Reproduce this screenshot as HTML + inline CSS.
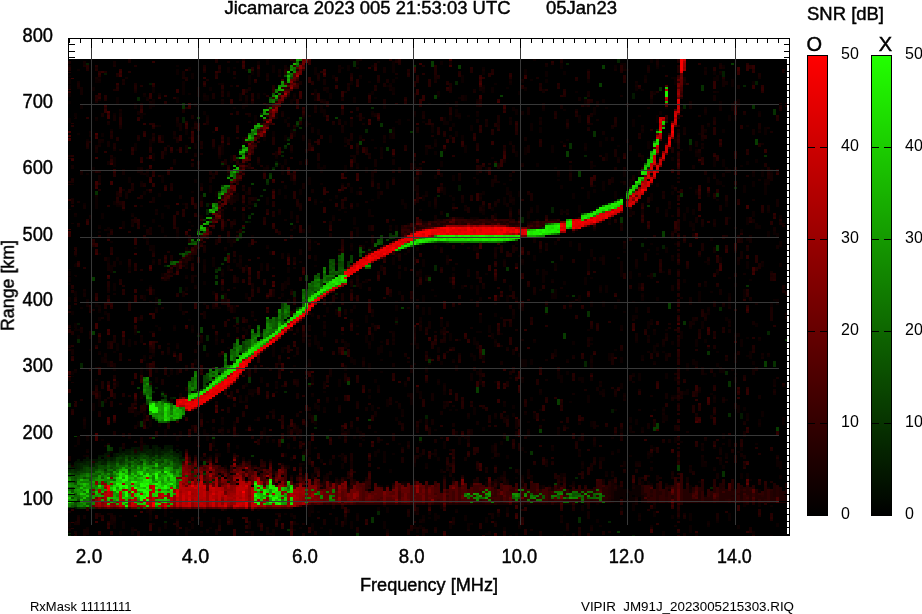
<!DOCTYPE html>
<html><head><meta charset="utf-8"><title>Ionogram</title>
<style>html,body{margin:0;padding:0;background:#fff;}svg{display:block;}</style>
</head><body>
<svg width="922" height="614" viewBox="0 0 922 614" shape-rendering="crispEdges">
<rect width="922" height="614" fill="#fff"/>
<rect x="68" y="38" width="722" height="498" fill="#000"/>
<rect x="69" y="39" width="720" height="20" fill="#fff"/>
<rect x="787" y="59" width="2" height="476" fill="#fff"/>
<g clip-path="url(#dclip)">
<rect x="68" y="59" width="719" height="477" fill="#000"/>
<path d="M68 463h3v2h-3zM74 461h3v2h-3zM77 459h3v4h-3zM80 461h3v2h-3zM83 459h3v2h-3zM86 457h3v4h-3zM89 459h3v2h-3zM92 459h3v2h-3zM95 459h3v2h-3zM98 455h3v2h-3zM101 455h3v2h-3zM104 453h3v2h-3zM104 459h3v2h-3zM107 451h3v4h-3zM113 453h3v4h-3zM119 447h3v6h-3zM122 451h3v2h-3zM125 449h3v2h-3zM128 449h3v2h-3zM131 447h3v2h-3zM134 447h3v2h-3zM137 447h3v4h-3zM143 395h3v2h-3zM143 445h3v4h-3zM146 445h3v4h-3zM152 445h3v6h-3zM155 445h3v2h-3zM158 447h3v4h-3zM161 391h3v2h-3zM161 449h3v2h-3zM164 445h3v2h-3zM167 445h3v4h-3zM170 445h3v4h-3zM176 449h3v2h-3zM179 451h3v4h-3zM179 457h3v2h-3zM182 457h3v2h-3zM197 473h3v2h-3zM218 477h3v2h-3zM227 481h3v2h-3zM248 221h3v2h-3zM275 161h3v2h-3zM287 137h3v2h-3zM413 245h3v2h-3zM599 205h3v2h-3zM605 203h3v2h-3zM611 201h3v2h-3zM620 197h3v2h-3zM647 157h3v2h-3zM653 139h3v2h-3z" fill="#021200"/>
<path d="M74 463h3v6h-3zM74 507h3v2h-3zM77 323h3v2h-3zM83 461h3v2h-3zM92 463h3v2h-3zM95 461h3v2h-3zM98 459h3v2h-3zM104 73h3v2h-3zM104 455h3v4h-3zM110 457h3v4h-3zM116 455h3v2h-3zM119 453h3v2h-3zM125 451h3v4h-3zM128 451h3v4h-3zM131 449h3v2h-3zM134 453h3v2h-3zM140 451h3v2h-3zM143 449h3v4h-3zM146 449h3v2h-3zM149 83h3v2h-3zM149 381h3v2h-3zM152 451h3v4h-3zM155 447h3v2h-3zM158 451h3v4h-3zM164 447h3v4h-3zM167 449h3v2h-3zM170 397h3v2h-3zM173 451h3v2h-3zM194 467h3v2h-3zM197 241h3v2h-3zM197 479h3v2h-3zM203 471h3v2h-3zM203 481h3v2h-3zM227 175h3v2h-3zM239 237h3v2h-3zM458 185h3v6h-3zM506 241h3v2h-3zM539 227h3v2h-3zM596 207h3v2h-3zM611 409h3v4h-3zM632 93h3v6h-3zM740 413h3v6h-3z" fill="#031800"/>
<path d="M71 467h3v2h-3zM77 463h3v6h-3zM83 463h3v2h-3zM86 63h3v2h-3zM89 461h3v6h-3zM92 465h3v2h-3zM98 457h3v2h-3zM101 459h3v2h-3zM101 463h3v2h-3zM104 461h3v2h-3zM107 457h3v2h-3zM113 457h3v2h-3zM116 453h3v2h-3zM134 457h3v2h-3zM137 451h3v4h-3zM146 453h3v2h-3zM149 449h3v4h-3zM155 387h3v2h-3zM155 449h3v4h-3zM161 453h3v2h-3zM164 265h3v2h-3zM164 451h3v2h-3zM164 521h3v2h-3zM173 453h3v2h-3zM176 453h3v2h-3zM179 287h3v6h-3zM179 455h3v2h-3zM182 117h3v6h-3zM188 463h3v2h-3zM197 335h3v2h-3zM206 203h3v4h-3zM212 479h3v2h-3zM272 167h3v2h-3zM296 125h3v2h-3zM335 293h3v2h-3zM395 321h3v2h-3zM422 243h3v2h-3zM425 415h3v4h-3zM551 207h3v6h-3zM551 289h3v4h-3zM632 535h3v2h-3zM653 273h3v4h-3zM662 245h3v4h-3zM722 71h3v6h-3zM755 81h3v4h-3z" fill="#031e00"/>
<path d="M68 465h3v6h-3zM68 533h3v4h-3zM74 469h3v2h-3zM77 339h3v4h-3zM77 469h3v2h-3zM80 363h3v6h-3zM80 463h3v6h-3zM86 461h3v4h-3zM101 401h3v6h-3zM101 461h3v2h-3zM104 463h3v2h-3zM107 459h3v2h-3zM113 271h3v2h-3zM113 459h3v2h-3zM122 453h3v4h-3zM128 457h3v2h-3zM131 451h3v4h-3zM137 97h3v4h-3zM146 451h3v2h-3zM149 453h3v4h-3zM152 391h3v2h-3zM152 455h3v2h-3zM155 453h3v2h-3zM158 455h3v2h-3zM161 395h3v2h-3zM161 451h3v2h-3zM164 397h3v2h-3zM167 451h3v2h-3zM170 449h3v2h-3zM170 453h3v2h-3zM173 397h3v2h-3zM173 455h3v2h-3zM176 455h3v2h-3zM179 459h3v2h-3zM182 415h3v2h-3zM194 391h3v2h-3zM197 229h3v2h-3zM206 209h3v6h-3zM206 335h3v6h-3zM215 269h3v2h-3zM218 267h3v2h-3zM236 317h3v6h-3zM245 221h3v2h-3zM248 215h3v2h-3zM254 203h3v2h-3zM260 113h3v2h-3zM260 195h3v2h-3zM260 333h3v4h-3zM266 183h3v2h-3zM275 165h3v2h-3zM281 151h3v2h-3zM281 155h3v2h-3zM284 147h3v2h-3zM284 391h3v2h-3zM293 129h3v2h-3zM293 291h3v6h-3zM296 307h3v2h-3zM299 119h3v2h-3zM314 427h3v2h-3zM344 351h3v4h-3zM353 285h3v2h-3zM365 129h3v4h-3zM377 511h3v4h-3zM392 237h3v2h-3zM434 265h3v6h-3zM437 195h3v2h-3zM455 81h3v4h-3zM509 467h3v2h-3zM521 217h3v6h-3zM566 63h3v2h-3zM575 477h3v2h-3zM584 97h3v2h-3zM584 155h3v2h-3zM584 361h3v6h-3zM608 521h3v2h-3zM617 59h3v4h-3zM641 243h3v4h-3zM656 129h3v2h-3zM683 105h3v4h-3zM710 487h3v2h-3zM719 307h3v4h-3zM725 371h3v4h-3zM743 85h3v2h-3zM767 331h3v4h-3z" fill="#042400"/>
<path d="M74 471h3v2h-3zM119 455h3v2h-3zM158 457h3v2h-3zM203 345h3v6h-3zM353 61h3v6h-3zM371 107h3v2h-3zM389 233h3v2h-3zM578 517h3v6h-3zM728 413h3v4h-3z" fill="#052a00"/>
<path d="M68 471h3v2h-3zM68 507h3v2h-3zM71 469h3v4h-3zM77 507h3v2h-3zM80 469h3v2h-3zM83 465h3v2h-3zM86 465h3v2h-3zM89 507h3v2h-3zM92 507h3v2h-3zM95 191h3v4h-3zM95 463h3v6h-3zM98 461h3v4h-3zM104 469h3v2h-3zM110 447h3v4h-3zM110 461h3v2h-3zM113 461h3v2h-3zM119 459h3v4h-3zM122 457h3v4h-3zM128 455h3v2h-3zM128 459h3v2h-3zM131 455h3v2h-3zM134 455h3v2h-3zM137 331h3v2h-3zM137 455h3v2h-3zM140 421h3v6h-3zM140 453h3v2h-3zM140 461h3v2h-3zM143 453h3v2h-3zM149 457h3v2h-3zM152 459h3v2h-3zM158 299h3v6h-3zM161 455h3v2h-3zM164 453h3v2h-3zM167 401h3v2h-3zM167 453h3v4h-3zM170 451h3v2h-3zM173 459h3v2h-3zM176 457h3v2h-3zM179 461h3v2h-3zM182 103h3v6h-3zM182 459h3v2h-3zM191 471h3v2h-3zM203 219h3v2h-3zM209 481h3v2h-3zM215 271h3v2h-3zM215 275h3v4h-3zM218 269h3v2h-3zM221 163h3v2h-3zM221 263h3v2h-3zM224 257h3v2h-3zM227 253h3v2h-3zM236 237h3v2h-3zM239 149h3v2h-3zM239 233h3v4h-3zM242 227h3v2h-3zM242 231h3v2h-3zM248 217h3v2h-3zM248 377h3v6h-3zM251 213h3v2h-3zM251 455h3v2h-3zM254 205h3v2h-3zM257 199h3v2h-3zM263 189h3v2h-3zM266 179h3v4h-3zM269 173h3v2h-3zM284 145h3v2h-3zM287 139h3v2h-3zM287 529h3v2h-3zM296 121h3v2h-3zM299 127h3v2h-3zM305 289h3v2h-3zM314 415h3v6h-3zM326 435h3v4h-3zM347 261h3v4h-3zM356 533h3v4h-3zM368 249h3v2h-3zM371 517h3v6h-3zM380 123h3v4h-3zM386 147h3v4h-3zM389 129h3v4h-3zM389 235h3v4h-3zM392 235h3v2h-3zM410 131h3v2h-3zM413 65h3v2h-3zM419 437h3v4h-3zM428 359h3v4h-3zM446 213h3v4h-3zM506 267h3v4h-3zM506 435h3v6h-3zM530 451h3v4h-3zM542 227h3v2h-3zM551 261h3v2h-3zM569 143h3v6h-3zM572 295h3v2h-3zM587 311h3v6h-3zM593 131h3v6h-3zM620 217h3v6h-3zM629 187h3v2h-3zM647 167h3v2h-3zM659 87h3v4h-3zM665 121h3v2h-3zM680 193h3v4h-3zM683 321h3v4h-3zM689 139h3v6h-3zM701 85h3v6h-3zM707 351h3v4h-3zM716 193h3v4h-3zM722 471h3v6h-3zM728 381h3v6h-3zM734 187h3v2h-3zM746 285h3v2h-3zM752 105h3v4h-3zM764 155h3v2h-3zM773 109h3v6h-3zM773 361h3v6h-3zM785 339h2v2h-2z" fill="#063000"/>
<path d="M68 403h3v4h-3zM71 507h3v2h-3zM74 435h3v2h-3zM74 473h3v2h-3zM74 481h3v2h-3zM77 471h3v4h-3zM80 471h3v2h-3zM80 507h3v2h-3zM83 467h3v6h-3zM83 507h3v2h-3zM89 467h3v2h-3zM89 471h3v2h-3zM92 277h3v4h-3zM92 331h3v4h-3zM92 467h3v6h-3zM104 465h3v2h-3zM107 445h3v6h-3zM107 461h3v2h-3zM110 463h3v2h-3zM110 467h3v2h-3zM113 463h3v2h-3zM116 457h3v4h-3zM119 457h3v2h-3zM119 463h3v2h-3zM122 461h3v2h-3zM125 455h3v2h-3zM128 463h3v2h-3zM131 459h3v2h-3zM137 387h3v2h-3zM137 457h3v4h-3zM140 455h3v2h-3zM143 457h3v2h-3zM146 403h3v2h-3zM146 455h3v2h-3zM149 385h3v2h-3zM149 461h3v2h-3zM152 437h3v2h-3zM155 457h3v2h-3zM161 399h3v2h-3zM161 461h3v2h-3zM164 395h3v2h-3zM164 399h3v2h-3zM164 455h3v4h-3zM167 421h3v2h-3zM167 457h3v2h-3zM170 455h3v4h-3zM173 457h3v2h-3zM173 461h3v2h-3zM176 419h3v2h-3zM176 459h3v4h-3zM179 253h3v2h-3zM179 463h3v2h-3zM185 251h3v4h-3zM188 147h3v2h-3zM191 241h3v2h-3zM194 475h3v2h-3zM197 117h3v2h-3zM200 327h3v6h-3zM200 389h3v2h-3zM203 193h3v4h-3zM203 375h3v10h-3zM203 387h3v2h-3zM203 461h3v4h-3zM203 473h3v2h-3zM206 379h3v4h-3zM212 437h3v2h-3zM215 281h3v4h-3zM218 191h3v2h-3zM218 371h3v2h-3zM221 185h3v2h-3zM221 295h3v4h-3zM221 367h3v2h-3zM224 259h3v2h-3zM233 361h3v2h-3zM236 239h3v2h-3zM242 343h3v6h-3zM245 151h3v2h-3zM245 339h3v2h-3zM248 69h3v4h-3zM251 183h3v2h-3zM269 97h3v2h-3zM269 175h3v4h-3zM272 169h3v2h-3zM275 99h3v2h-3zM275 163h3v2h-3zM281 303h3v4h-3zM281 439h3v4h-3zM287 143h3v2h-3zM290 77h3v2h-3zM290 223h3v2h-3zM296 123h3v2h-3zM299 117h3v2h-3zM302 455h3v6h-3zM305 275h3v6h-3zM305 297h3v2h-3zM305 301h3v2h-3zM308 383h3v2h-3zM314 291h3v2h-3zM332 277h3v2h-3zM335 117h3v2h-3zM338 261h3v2h-3zM338 307h3v4h-3zM347 265h3v2h-3zM347 381h3v4h-3zM350 255h3v8h-3zM359 141h3v4h-3zM359 253h3v2h-3zM368 419h3v2h-3zM380 235h3v6h-3zM380 243h3v2h-3zM386 239h3v2h-3zM395 235h3v2h-3zM401 307h3v2h-3zM428 277h3v4h-3zM431 61h3v6h-3zM434 95h3v4h-3zM440 151h3v6h-3zM458 65h3v4h-3zM476 387h3v6h-3zM482 349h3v6h-3zM494 163h3v4h-3zM500 95h3v2h-3zM503 241h3v2h-3zM539 429h3v4h-3zM545 307h3v6h-3zM554 483h3v2h-3zM557 399h3v6h-3zM563 333h3v6h-3zM566 151h3v6h-3zM578 171h3v6h-3zM599 83h3v4h-3zM602 65h3v4h-3zM617 531h3v2h-3zM647 205h3v2h-3zM653 427h3v4h-3zM656 423h3v6h-3zM662 231h3v6h-3zM668 303h3v6h-3zM677 465h3v6h-3zM716 245h3v6h-3zM731 63h3v2h-3zM755 139h3v6h-3zM764 361h3v6h-3zM776 427h3v4h-3z" fill="#073c00"/>
<path d="M68 475h3v2h-3zM71 473h3v2h-3zM71 497h3v2h-3zM74 477h3v2h-3zM74 501h3v2h-3zM74 505h3v2h-3zM77 499h3v2h-3zM83 477h3v2h-3zM86 467h3v6h-3zM89 469h3v2h-3zM95 469h3v2h-3zM98 465h3v4h-3zM101 465h3v4h-3zM104 467h3v2h-3zM104 471h3v2h-3zM107 463h3v2h-3zM110 465h3v2h-3zM110 471h3v2h-3zM113 465h3v2h-3zM113 469h3v2h-3zM116 461h3v2h-3zM122 463h3v2h-3zM125 457h3v2h-3zM128 465h3v2h-3zM128 469h3v2h-3zM131 457h3v2h-3zM134 461h3v2h-3zM137 463h3v2h-3zM140 457h3v2h-3zM140 463h3v2h-3zM143 455h3v2h-3zM146 401h3v2h-3zM146 457h3v4h-3zM149 459h3v2h-3zM149 463h3v2h-3zM152 417h3v2h-3zM152 457h3v2h-3zM155 419h3v2h-3zM155 455h3v2h-3zM155 507h3v2h-3zM158 461h3v4h-3zM161 393h3v2h-3zM161 457h3v4h-3zM164 401h3v2h-3zM167 265h3v2h-3zM167 463h3v2h-3zM170 261h3v2h-3zM170 459h3v2h-3zM173 467h3v2h-3zM176 463h3v6h-3zM182 255h3v2h-3zM188 251h3v2h-3zM194 241h3v2h-3zM194 389h3v2h-3zM203 231h3v2h-3zM203 385h3v2h-3zM206 375h3v4h-3zM206 385h3v2h-3zM209 221h3v2h-3zM221 369h3v2h-3zM227 187h3v2h-3zM233 343h3v4h-3zM233 349h3v2h-3zM236 157h3v2h-3zM239 351h3v2h-3zM242 341h3v2h-3zM242 349h3v2h-3zM245 345h3v2h-3zM275 317h3v4h-3zM281 307h3v6h-3zM281 315h3v4h-3zM284 75h3v2h-3zM284 321h3v2h-3zM305 291h3v6h-3zM317 275h3v2h-3zM320 279h3v8h-3zM329 259h3v2h-3zM329 263h3v2h-3zM329 269h3v2h-3zM329 273h3v2h-3zM332 259h3v4h-3zM332 265h3v2h-3zM332 273h3v2h-3zM338 257h3v2h-3zM338 263h3v4h-3zM338 273h3v2h-3zM341 261h3v6h-3zM359 247h3v2h-3zM359 255h3v2h-3zM362 251h3v2h-3zM377 239h3v2h-3zM380 241h3v2h-3zM395 231h3v4h-3zM437 241h3v2h-3zM440 241h3v2h-3zM545 223h3v2h-3zM581 213h3v2h-3zM641 169h3v2h-3z" fill="#094800"/>
<path d="M68 481h3v2h-3zM71 475h3v4h-3zM71 481h3v2h-3zM71 487h3v6h-3zM71 505h3v2h-3zM74 475h3v2h-3zM74 479h3v2h-3zM74 483h3v2h-3zM74 493h3v2h-3zM74 503h3v2h-3zM77 475h3v2h-3zM80 473h3v2h-3zM86 503h3v2h-3zM89 477h3v4h-3zM89 489h3v4h-3zM89 503h3v4h-3zM92 475h3v2h-3zM95 475h3v2h-3zM98 473h3v2h-3zM101 469h3v2h-3zM101 477h3v2h-3zM107 467h3v2h-3zM107 471h3v2h-3zM110 475h3v2h-3zM113 467h3v2h-3zM116 467h3v2h-3zM125 461h3v2h-3zM125 507h3v2h-3zM128 461h3v2h-3zM134 459h3v2h-3zM137 461h3v2h-3zM137 507h3v2h-3zM143 393h3v2h-3zM146 399h3v2h-3zM149 387h3v2h-3zM149 395h3v2h-3zM152 463h3v2h-3zM152 467h3v2h-3zM155 401h3v2h-3zM155 461h3v2h-3zM158 459h3v2h-3zM161 467h3v2h-3zM167 459h3v4h-3zM170 263h3v2h-3zM173 263h3v2h-3zM173 463h3v4h-3zM176 261h3v2h-3zM179 465h3v2h-3zM182 253h3v2h-3zM185 475h3v2h-3zM188 243h3v2h-3zM188 391h3v2h-3zM188 481h3v2h-3zM191 243h3v2h-3zM191 377h3v6h-3zM191 385h3v2h-3zM206 373h3v2h-3zM212 373h3v2h-3zM218 369h3v2h-3zM221 371h3v2h-3zM233 357h3v4h-3zM242 351h3v2h-3zM245 341h3v4h-3zM245 347h3v4h-3zM248 339h3v8h-3zM254 333h3v2h-3zM269 319h3v4h-3zM272 93h3v2h-3zM272 327h3v2h-3zM275 321h3v8h-3zM281 313h3v2h-3zM281 319h3v2h-3zM287 313h3v2h-3zM296 65h3v2h-3zM296 309h3v2h-3zM302 291h3v2h-3zM308 287h3v2h-3zM311 283h3v2h-3zM311 287h3v4h-3zM314 275h3v4h-3zM317 273h3v2h-3zM326 277h3v4h-3zM329 261h3v2h-3zM329 265h3v4h-3zM329 277h3v2h-3zM332 263h3v2h-3zM332 267h3v2h-3zM332 271h3v2h-3zM335 273h3v2h-3zM338 255h3v2h-3zM338 259h3v2h-3zM338 267h3v6h-3zM341 267h3v2h-3zM341 271h3v4h-3zM344 269h3v2h-3zM359 249h3v4h-3zM368 263h3v2h-3zM368 267h3v2h-3zM374 243h3v2h-3zM377 241h3v4h-3zM419 243h3v2h-3zM443 241h3v2h-3zM518 497h3v2h-3zM530 493h3v2h-3zM542 495h3v4h-3zM557 233h3v2h-3zM557 495h3v2h-3zM566 497h3v2h-3zM572 493h3v4h-3zM575 493h3v2h-3zM578 493h3v2h-3zM587 497h3v2h-3zM590 211h3v2h-3zM593 495h3v2h-3zM602 495h3v2h-3zM617 199h3v2h-3zM632 191h3v2h-3z" fill="#0b5400"/>
<path d="M68 75h3v14h-3zM68 93h3v4h-3zM68 101h3v4h-3zM68 117h3v6h-3zM68 269h3v16h-3zM68 297h3v6h-3zM68 523h3v6h-3zM71 311h3v4h-3zM71 371h3v6h-3zM74 113h3v4h-3zM74 215h3v2h-3zM74 255h3v2h-3zM74 263h3v4h-3zM74 291h3v6h-3zM74 323h3v8h-3zM74 371h3v2h-3zM74 445h3v2h-3zM77 69h3v2h-3zM77 133h3v2h-3zM77 329h3v2h-3zM77 335h3v4h-3zM77 437h3v8h-3zM80 105h3v4h-3zM80 307h3v2h-3zM83 203h3v2h-3zM83 291h3v2h-3zM83 417h3v2h-3zM83 425h3v4h-3zM83 455h3v2h-3zM86 139h3v2h-3zM86 173h3v2h-3zM86 299h3v2h-3zM86 303h3v2h-3zM86 437h3v4h-3zM86 449h3v2h-3zM86 527h3v2h-3zM89 133h3v2h-3zM89 217h3v2h-3zM89 349h3v2h-3zM92 87h3v4h-3zM92 167h3v6h-3zM92 403h3v8h-3zM95 79h3v4h-3zM95 119h3v2h-3zM95 197h3v12h-3zM95 303h3v4h-3zM95 379h3v2h-3zM98 77h3v2h-3zM98 81h3v2h-3zM98 143h3v2h-3zM98 225h3v2h-3zM98 231h3v2h-3zM98 253h3v2h-3zM98 305h3v4h-3zM98 311h3v2h-3zM98 317h3v4h-3zM98 351h3v2h-3zM98 399h3v8h-3zM101 133h3v4h-3zM101 141h3v2h-3zM101 213h3v6h-3zM101 357h3v6h-3zM101 439h3v2h-3zM104 311h3v4h-3zM104 357h3v2h-3zM107 227h3v4h-3zM107 233h3v6h-3zM107 257h3v6h-3zM107 361h3v6h-3zM110 129h3v2h-3zM110 241h3v2h-3zM110 265h3v8h-3zM110 451h3v2h-3zM113 113h3v2h-3zM113 157h3v10h-3zM113 201h3v4h-3zM113 283h3v8h-3zM113 351h3v2h-3zM113 367h3v4h-3zM113 523h3v6h-3zM116 97h3v8h-3zM116 205h3v2h-3zM116 257h3v4h-3zM116 343h3v8h-3zM116 381h3v6h-3zM119 111h3v2h-3zM119 205h3v2h-3zM119 261h3v4h-3zM119 515h3v2h-3zM119 531h3v4h-3zM122 209h3v2h-3zM122 221h3v8h-3zM122 521h3v8h-3zM125 191h3v2h-3zM128 177h3v6h-3zM128 267h3v4h-3zM128 339h3v8h-3zM131 213h3v2h-3zM131 527h3v2h-3zM131 531h3v4h-3zM134 103h3v6h-3zM134 143h3v8h-3zM134 247h3v2h-3zM134 333h3v2h-3zM134 405h3v2h-3zM134 409h3v8h-3zM137 167h3v4h-3zM137 317h3v4h-3zM137 411h3v4h-3zM137 421h3v6h-3zM140 113h3v6h-3zM140 173h3v2h-3zM140 181h3v2h-3zM140 205h3v2h-3zM140 279h3v2h-3zM140 337h3v6h-3zM140 367h3v8h-3zM140 393h3v4h-3zM143 95h3v2h-3zM143 113h3v2h-3zM143 191h3v4h-3zM143 295h3v4h-3zM143 355h3v6h-3zM143 411h3v2h-3zM143 415h3v4h-3zM143 443h3v2h-3zM143 535h3v2h-3zM146 97h3v2h-3zM146 173h3v4h-3zM146 239h3v2h-3zM146 369h3v2h-3zM146 405h3v4h-3zM146 427h3v2h-3zM146 509h3v4h-3zM149 103h3v6h-3zM149 139h3v8h-3zM149 245h3v4h-3zM149 285h3v2h-3zM149 331h3v2h-3zM149 419h3v8h-3zM149 515h3v6h-3zM152 87h3v6h-3zM152 99h3v8h-3zM152 141h3v2h-3zM152 153h3v8h-3zM152 219h3v4h-3zM152 245h3v6h-3zM152 259h3v2h-3zM152 263h3v2h-3zM152 291h3v4h-3zM152 331h3v2h-3zM152 353h3v4h-3zM152 509h3v2h-3zM152 523h3v2h-3zM155 211h3v2h-3zM155 297h3v8h-3zM155 307h3v2h-3zM155 325h3v2h-3zM155 367h3v6h-3zM155 377h3v6h-3zM158 93h3v2h-3zM158 125h3v2h-3zM158 193h3v4h-3zM158 327h3v4h-3zM158 423h3v4h-3zM158 527h3v2h-3zM158 531h3v2h-3zM161 135h3v6h-3zM161 175h3v8h-3zM161 213h3v6h-3zM161 227h3v6h-3zM161 273h3v4h-3zM161 279h3v2h-3zM164 151h3v4h-3zM164 205h3v2h-3zM164 235h3v2h-3zM164 429h3v8h-3zM164 509h3v8h-3zM164 523h3v6h-3zM167 205h3v4h-3zM167 279h3v2h-3zM167 353h3v2h-3zM167 375h3v2h-3zM170 273h3v2h-3zM170 371h3v4h-3zM170 511h3v2h-3zM170 517h3v2h-3zM173 135h3v2h-3zM173 163h3v2h-3zM173 325h3v2h-3zM173 329h3v2h-3zM173 351h3v2h-3zM176 65h3v2h-3zM176 69h3v6h-3zM176 97h3v6h-3zM176 123h3v4h-3zM176 149h3v2h-3zM176 233h3v6h-3zM176 343h3v2h-3zM176 355h3v8h-3zM176 369h3v6h-3zM176 435h3v6h-3zM176 445h3v2h-3zM176 519h3v2h-3zM176 527h3v8h-3zM179 303h3v8h-3zM182 81h3v14h-3zM182 203h3v2h-3zM182 263h3v2h-3zM182 509h3v2h-3zM185 129h3v6h-3zM185 235h3v2h-3zM185 265h3v2h-3zM185 275h3v2h-3zM185 287h3v4h-3zM185 527h3v10h-3zM188 67h3v4h-3zM188 93h3v2h-3zM188 137h3v2h-3zM188 221h3v2h-3zM188 249h3v2h-3zM188 319h3v2h-3zM188 411h3v2h-3zM188 529h3v2h-3zM191 73h3v6h-3zM191 127h3v4h-3zM191 191h3v2h-3zM191 225h3v2h-3zM191 255h3v2h-3zM191 259h3v2h-3zM191 325h3v4h-3zM191 331h3v2h-3zM191 391h3v2h-3zM191 429h3v2h-3zM191 523h3v6h-3zM194 103h3v4h-3zM194 121h3v2h-3zM194 143h3v6h-3zM194 179h3v4h-3zM194 285h3v2h-3zM194 359h3v6h-3zM194 369h3v2h-3zM197 87h3v10h-3zM197 137h3v4h-3zM197 165h3v2h-3zM197 215h3v2h-3zM197 243h3v2h-3zM197 427h3v2h-3zM197 441h3v4h-3zM200 183h3v4h-3zM200 195h3v6h-3zM200 215h3v4h-3zM200 221h3v2h-3zM200 241h3v2h-3zM200 413h3v6h-3zM200 531h3v2h-3zM203 93h3v2h-3zM203 97h3v4h-3zM203 111h3v4h-3zM203 259h3v6h-3zM203 281h3v4h-3zM203 303h3v2h-3zM203 429h3v6h-3zM203 509h3v4h-3zM206 95h3v6h-3zM206 115h3v2h-3zM206 353h3v4h-3zM206 421h3v2h-3zM206 433h3v8h-3zM206 457h3v2h-3zM206 531h3v2h-3zM209 87h3v4h-3zM209 185h3v8h-3zM209 455h3v2h-3zM209 527h3v2h-3zM212 131h3v2h-3zM212 147h3v2h-3zM212 259h3v8h-3zM212 291h3v4h-3zM212 429h3v2h-3zM212 433h3v4h-3zM212 439h3v6h-3zM212 517h3v6h-3zM215 191h3v6h-3zM215 199h3v4h-3zM215 267h3v2h-3zM215 301h3v2h-3zM215 307h3v2h-3zM215 335h3v4h-3zM215 341h3v4h-3zM218 83h3v2h-3zM218 157h3v2h-3zM218 307h3v2h-3zM218 393h3v2h-3zM218 453h3v4h-3zM218 519h3v6h-3zM221 83h3v2h-3zM221 101h3v2h-3zM221 147h3v8h-3zM221 165h3v2h-3zM221 211h3v2h-3zM221 217h3v2h-3zM221 269h3v4h-3zM221 275h3v2h-3zM221 285h3v2h-3zM221 293h3v2h-3zM221 419h3v6h-3zM221 427h3v2h-3zM221 431h3v4h-3zM224 207h3v2h-3zM224 249h3v2h-3zM224 465h3v2h-3zM224 509h3v2h-3zM227 67h3v6h-3zM227 91h3v2h-3zM227 173h3v2h-3zM227 237h3v6h-3zM227 265h3v6h-3zM227 307h3v4h-3zM227 347h3v2h-3zM230 155h3v8h-3zM230 227h3v2h-3zM230 239h3v8h-3zM230 461h3v2h-3zM233 67h3v2h-3zM233 107h3v2h-3zM233 197h3v2h-3zM233 259h3v4h-3zM233 305h3v8h-3zM233 421h3v4h-3zM236 61h3v2h-3zM236 193h3v8h-3zM236 263h3v4h-3zM236 433h3v4h-3zM236 445h3v4h-3zM236 457h3v6h-3zM236 509h3v2h-3zM239 93h3v6h-3zM239 257h3v2h-3zM239 263h3v6h-3zM239 395h3v6h-3zM242 103h3v6h-3zM242 137h3v8h-3zM242 175h3v2h-3zM242 203h3v2h-3zM242 213h3v8h-3zM242 327h3v4h-3zM242 401h3v2h-3zM245 69h3v2h-3zM245 101h3v6h-3zM245 153h3v2h-3zM245 191h3v4h-3zM245 205h3v2h-3zM245 267h3v4h-3zM245 293h3v6h-3zM245 329h3v6h-3zM245 367h3v4h-3zM245 373h3v2h-3zM245 383h3v4h-3zM245 395h3v2h-3zM245 401h3v2h-3zM245 429h3v2h-3zM248 75h3v10h-3zM248 243h3v4h-3zM248 389h3v4h-3zM248 425h3v2h-3zM248 459h3v2h-3zM248 531h3v2h-3zM251 71h3v4h-3zM251 203h3v2h-3zM251 235h3v2h-3zM251 313h3v2h-3zM251 389h3v4h-3zM251 395h3v2h-3zM251 429h3v2h-3zM254 115h3v10h-3zM254 389h3v4h-3zM254 419h3v2h-3zM257 61h3v4h-3zM257 93h3v6h-3zM257 163h3v2h-3zM257 509h3v2h-3zM257 521h3v2h-3zM260 263h3v8h-3zM260 377h3v6h-3zM263 93h3v2h-3zM263 137h3v4h-3zM263 167h3v6h-3zM263 427h3v8h-3zM266 59h3v6h-3zM266 103h3v2h-3zM266 165h3v2h-3zM266 169h3v2h-3zM266 197h3v8h-3zM266 245h3v2h-3zM266 367h3v2h-3zM266 437h3v6h-3zM266 529h3v2h-3zM269 251h3v4h-3zM269 459h3v2h-3zM272 65h3v8h-3zM272 131h3v6h-3zM272 267h3v2h-3zM272 343h3v14h-3zM272 409h3v2h-3zM272 441h3v2h-3zM272 469h3v2h-3zM272 529h3v8h-3zM275 115h3v2h-3zM275 157h3v2h-3zM275 311h3v2h-3zM275 383h3v4h-3zM275 391h3v2h-3zM278 73h3v2h-3zM278 163h3v2h-3zM278 189h3v6h-3zM278 213h3v2h-3zM278 361h3v2h-3zM278 465h3v4h-3zM278 517h3v4h-3zM281 93h3v2h-3zM281 169h3v6h-3zM281 293h3v4h-3zM281 335h3v2h-3zM281 347h3v6h-3zM284 119h3v4h-3zM284 135h3v6h-3zM284 159h3v6h-3zM284 185h3v4h-3zM284 195h3v4h-3zM284 281h3v8h-3zM284 453h3v4h-3zM284 513h3v2h-3zM287 67h3v2h-3zM287 117h3v2h-3zM287 253h3v2h-3zM287 267h3v6h-3zM287 277h3v6h-3zM287 299h3v6h-3zM287 429h3v2h-3zM287 433h3v6h-3zM287 443h3v6h-3zM287 465h3v2h-3zM290 99h3v6h-3zM290 129h3v4h-3zM290 151h3v2h-3zM290 211h3v8h-3zM290 289h3v2h-3zM290 315h3v2h-3zM290 457h3v4h-3zM290 513h3v4h-3zM293 93h3v2h-3zM293 97h3v4h-3zM293 133h3v4h-3zM293 181h3v4h-3zM293 225h3v4h-3zM293 355h3v2h-3zM293 365h3v2h-3zM293 431h3v2h-3zM293 447h3v2h-3zM293 529h3v2h-3zM296 81h3v2h-3zM296 327h3v2h-3zM296 331h3v2h-3zM296 425h3v2h-3zM296 481h3v2h-3zM296 523h3v2h-3zM299 189h3v6h-3zM299 433h3v2h-3zM299 437h3v2h-3zM299 465h3v2h-3zM299 527h3v2h-3zM302 117h3v2h-3zM302 139h3v2h-3zM302 441h3v2h-3zM302 445h3v2h-3zM302 451h3v2h-3zM302 463h3v2h-3zM305 121h3v6h-3zM305 283h3v6h-3zM305 333h3v2h-3zM305 365h3v2h-3zM308 123h3v2h-3zM308 177h3v8h-3zM308 225h3v8h-3zM308 327h3v2h-3zM308 341h3v2h-3zM308 359h3v4h-3zM308 413h3v6h-3zM308 445h3v10h-3zM308 505h3v12h-3zM311 313h3v4h-3zM311 375h3v8h-3zM311 395h3v2h-3zM311 473h3v2h-3zM311 505h3v6h-3zM311 523h3v8h-3zM314 67h3v8h-3zM314 89h3v10h-3zM314 199h3v2h-3zM314 203h3v2h-3zM314 241h3v2h-3zM314 255h3v6h-3zM314 265h3v2h-3zM314 335h3v10h-3zM314 403h3v6h-3zM314 421h3v4h-3zM314 473h3v2h-3zM317 129h3v6h-3zM317 163h3v6h-3zM317 341h3v8h-3zM317 405h3v6h-3zM317 511h3v2h-3zM320 105h3v8h-3zM320 167h3v6h-3zM320 183h3v2h-3zM320 201h3v2h-3zM320 459h3v4h-3zM320 481h3v2h-3zM320 487h3v2h-3zM320 527h3v2h-3zM323 99h3v2h-3zM323 103h3v2h-3zM323 109h3v8h-3zM323 165h3v4h-3zM323 283h3v2h-3zM323 297h3v2h-3zM323 323h3v2h-3zM323 335h3v2h-3zM323 381h3v2h-3zM323 391h3v2h-3zM323 407h3v4h-3zM323 475h3v2h-3zM326 89h3v4h-3zM326 307h3v6h-3zM326 401h3v2h-3zM329 93h3v6h-3zM329 135h3v8h-3zM329 199h3v2h-3zM329 301h3v4h-3zM329 375h3v2h-3zM329 429h3v2h-3zM329 459h3v2h-3zM329 529h3v6h-3zM332 75h3v4h-3zM332 215h3v2h-3zM335 81h3v2h-3zM335 197h3v2h-3zM335 311h3v4h-3zM335 397h3v4h-3zM335 477h3v2h-3zM335 521h3v2h-3zM338 67h3v2h-3zM338 191h3v2h-3zM338 209h3v2h-3zM338 379h3v8h-3zM338 435h3v4h-3zM338 479h3v2h-3zM341 67h3v2h-3zM341 183h3v2h-3zM341 333h3v2h-3zM341 431h3v2h-3zM341 455h3v6h-3zM341 463h3v6h-3zM344 121h3v4h-3zM344 137h3v6h-3zM344 165h3v8h-3zM344 207h3v2h-3zM344 211h3v2h-3zM344 341h3v6h-3zM344 365h3v6h-3zM344 381h3v2h-3zM344 519h3v6h-3zM347 65h3v6h-3zM347 343h3v4h-3zM347 429h3v6h-3zM347 485h3v2h-3zM350 81h3v4h-3zM350 119h3v8h-3zM350 167h3v2h-3zM350 187h3v6h-3zM350 243h3v2h-3zM350 247h3v4h-3zM350 311h3v2h-3zM350 319h3v4h-3zM350 357h3v6h-3zM350 427h3v2h-3zM350 521h3v8h-3zM353 99h3v4h-3zM353 217h3v8h-3zM353 227h3v2h-3zM353 297h3v2h-3zM353 305h3v4h-3zM353 359h3v6h-3zM353 435h3v4h-3zM356 59h3v6h-3zM356 115h3v2h-3zM356 163h3v4h-3zM356 191h3v4h-3zM356 203h3v4h-3zM356 227h3v10h-3zM356 301h3v2h-3zM356 325h3v2h-3zM356 427h3v6h-3zM356 513h3v2h-3zM359 77h3v2h-3zM359 135h3v2h-3zM359 139h3v2h-3zM359 283h3v6h-3zM359 431h3v8h-3zM362 245h3v2h-3zM362 357h3v4h-3zM362 439h3v2h-3zM365 167h3v6h-3zM365 241h3v2h-3zM365 279h3v4h-3zM365 315h3v8h-3zM365 335h3v8h-3zM368 81h3v2h-3zM368 93h3v2h-3zM368 209h3v8h-3zM368 247h3v2h-3zM368 341h3v2h-3zM368 345h3v4h-3zM368 363h3v8h-3zM368 391h3v2h-3zM368 395h3v4h-3zM371 65h3v2h-3zM371 91h3v4h-3zM371 111h3v2h-3zM371 115h3v2h-3zM371 139h3v2h-3zM371 177h3v2h-3zM371 199h3v2h-3zM371 243h3v4h-3zM371 313h3v2h-3zM371 325h3v2h-3zM371 333h3v8h-3zM371 405h3v6h-3zM374 97h3v2h-3zM374 249h3v2h-3zM374 379h3v4h-3zM374 415h3v2h-3zM374 431h3v2h-3zM374 451h3v6h-3zM377 61h3v2h-3zM377 191h3v8h-3zM377 347h3v8h-3zM377 385h3v4h-3zM377 449h3v4h-3zM377 507h3v4h-3zM380 147h3v10h-3zM380 341h3v2h-3zM380 345h3v8h-3zM380 359h3v2h-3zM380 371h3v2h-3zM380 485h3v2h-3zM383 105h3v4h-3zM383 139h3v2h-3zM383 451h3v10h-3zM383 487h3v2h-3zM383 505h3v2h-3zM383 521h3v8h-3zM386 85h3v2h-3zM386 399h3v8h-3zM386 507h3v6h-3zM386 529h3v2h-3zM389 83h3v2h-3zM389 87h3v2h-3zM389 133h3v6h-3zM389 227h3v2h-3zM389 351h3v6h-3zM389 469h3v4h-3zM392 61h3v12h-3zM392 79h3v4h-3zM392 87h3v6h-3zM392 127h3v6h-3zM392 177h3v2h-3zM392 257h3v8h-3zM392 331h3v2h-3zM392 337h3v2h-3zM392 341h3v2h-3zM392 453h3v2h-3zM395 77h3v2h-3zM395 121h3v2h-3zM395 225h3v6h-3zM395 251h3v6h-3zM395 301h3v2h-3zM395 305h3v6h-3zM395 317h3v2h-3zM395 417h3v4h-3zM398 119h3v6h-3zM398 271h3v8h-3zM398 291h3v4h-3zM398 407h3v2h-3zM398 443h3v2h-3zM401 199h3v6h-3zM401 409h3v6h-3zM401 481h3v2h-3zM404 203h3v6h-3zM404 253h3v2h-3zM404 381h3v2h-3zM404 385h3v2h-3zM404 481h3v2h-3zM407 119h3v2h-3zM407 223h3v2h-3zM407 247h3v2h-3zM407 251h3v2h-3zM407 393h3v2h-3zM407 481h3v2h-3zM410 299h3v4h-3zM410 343h3v2h-3zM410 399h3v6h-3zM413 97h3v8h-3zM413 115h3v2h-3zM413 157h3v2h-3zM413 163h3v4h-3zM413 179h3v10h-3zM413 257h3v2h-3zM413 261h3v2h-3zM413 463h3v4h-3zM413 479h3v2h-3zM413 513h3v2h-3zM413 525h3v2h-3zM416 167h3v2h-3zM416 175h3v2h-3zM416 249h3v2h-3zM416 275h3v2h-3zM416 279h3v8h-3zM416 343h3v4h-3zM416 387h3v6h-3zM416 529h3v4h-3zM419 209h3v2h-3zM419 269h3v2h-3zM419 273h3v4h-3zM419 317h3v4h-3zM419 323h3v2h-3zM419 391h3v6h-3zM419 419h3v4h-3zM419 453h3v4h-3zM419 519h3v2h-3zM419 525h3v4h-3zM422 121h3v2h-3zM422 195h3v6h-3zM422 259h3v8h-3zM422 295h3v8h-3zM422 307h3v8h-3zM422 515h3v4h-3zM422 521h3v2h-3zM425 147h3v8h-3zM425 191h3v4h-3zM425 275h3v2h-3zM425 367h3v2h-3zM425 371h3v2h-3zM425 463h3v4h-3zM428 103h3v2h-3zM428 201h3v6h-3zM428 275h3v2h-3zM428 281h3v2h-3zM428 307h3v8h-3zM428 357h3v2h-3zM428 511h3v4h-3zM428 517h3v2h-3zM431 127h3v6h-3zM431 147h3v2h-3zM431 289h3v2h-3zM434 139h3v4h-3zM434 151h3v4h-3zM434 175h3v4h-3zM434 207h3v2h-3zM434 245h3v4h-3zM434 295h3v2h-3zM434 429h3v2h-3zM434 451h3v2h-3zM434 455h3v2h-3zM434 513h3v8h-3zM437 91h3v6h-3zM437 347h3v6h-3zM437 379h3v2h-3zM437 383h3v2h-3zM437 457h3v4h-3zM437 515h3v4h-3zM440 61h3v4h-3zM440 161h3v6h-3zM440 191h3v2h-3zM440 319h3v8h-3zM440 329h3v2h-3zM440 333h3v2h-3zM440 361h3v4h-3zM440 469h3v4h-3zM440 491h3v2h-3zM440 505h3v4h-3zM443 117h3v8h-3zM443 149h3v2h-3zM443 187h3v8h-3zM443 383h3v2h-3zM443 391h3v4h-3zM443 403h3v2h-3zM443 441h3v8h-3zM443 475h3v2h-3zM446 103h3v2h-3zM446 121h3v4h-3zM446 243h3v2h-3zM446 255h3v4h-3zM446 263h3v2h-3zM446 321h3v2h-3zM446 535h3v2h-3zM449 115h3v6h-3zM449 137h3v2h-3zM449 195h3v2h-3zM449 279h3v2h-3zM449 333h3v8h-3zM449 347h3v2h-3zM449 409h3v2h-3zM449 469h3v4h-3zM449 523h3v6h-3zM452 123h3v4h-3zM452 175h3v6h-3zM452 197h3v4h-3zM452 203h3v4h-3zM452 209h3v2h-3zM452 267h3v4h-3zM452 273h3v4h-3zM452 285h3v4h-3zM452 359h3v2h-3zM452 477h3v2h-3zM455 103h3v4h-3zM455 109h3v6h-3zM455 131h3v6h-3zM455 365h3v2h-3zM455 409h3v2h-3zM455 433h3v4h-3zM455 509h3v2h-3zM458 97h3v2h-3zM458 113h3v2h-3zM458 117h3v2h-3zM458 339h3v2h-3zM458 437h3v8h-3zM458 481h3v2h-3zM461 75h3v8h-3zM461 135h3v6h-3zM461 285h3v4h-3zM464 95h3v6h-3zM464 145h3v8h-3zM464 207h3v2h-3zM464 435h3v4h-3zM464 515h3v6h-3zM467 115h3v2h-3zM467 269h3v6h-3zM467 417h3v2h-3zM467 437h3v2h-3zM467 523h3v6h-3zM470 125h3v6h-3zM470 217h3v2h-3zM470 285h3v4h-3zM470 299h3v2h-3zM470 353h3v4h-3zM470 373h3v8h-3zM470 483h3v2h-3zM470 523h3v2h-3zM473 217h3v2h-3zM473 245h3v6h-3zM473 337h3v8h-3zM473 355h3v6h-3zM473 407h3v8h-3zM476 99h3v2h-3zM476 113h3v4h-3zM476 171h3v4h-3zM476 179h3v6h-3zM476 217h3v2h-3zM476 247h3v6h-3zM476 285h3v10h-3zM476 331h3v2h-3zM476 341h3v2h-3zM476 345h3v2h-3zM476 371h3v4h-3zM476 469h3v2h-3zM479 195h3v2h-3zM479 199h3v2h-3zM479 205h3v2h-3zM479 211h3v2h-3zM479 297h3v4h-3zM479 315h3v8h-3zM479 331h3v2h-3zM479 377h3v2h-3zM479 381h3v4h-3zM482 67h3v2h-3zM482 71h3v4h-3zM482 85h3v2h-3zM482 89h3v4h-3zM482 191h3v4h-3zM482 207h3v2h-3zM482 211h3v4h-3zM482 357h3v4h-3zM482 427h3v4h-3zM485 167h3v6h-3zM485 217h3v2h-3zM485 273h3v2h-3zM485 477h3v2h-3zM485 481h3v2h-3zM485 517h3v6h-3zM485 533h3v2h-3zM488 325h3v8h-3zM488 531h3v4h-3zM491 87h3v6h-3zM491 157h3v2h-3zM491 207h3v4h-3zM491 333h3v6h-3zM491 445h3v8h-3zM491 457h3v2h-3zM494 83h3v2h-3zM494 213h3v4h-3zM494 303h3v2h-3zM494 313h3v4h-3zM494 339h3v2h-3zM494 343h3v4h-3zM494 381h3v2h-3zM494 417h3v2h-3zM494 465h3v2h-3zM494 521h3v2h-3zM497 247h3v2h-3zM497 295h3v6h-3zM497 455h3v2h-3zM497 477h3v4h-3zM497 485h3v2h-3zM497 513h3v4h-3zM500 317h3v2h-3zM500 333h3v2h-3zM500 441h3v4h-3zM500 475h3v2h-3zM503 183h3v2h-3zM503 197h3v8h-3zM503 259h3v2h-3zM503 403h3v4h-3zM503 527h3v4h-3zM506 87h3v2h-3zM506 187h3v6h-3zM506 295h3v8h-3zM506 415h3v4h-3zM506 455h3v4h-3zM506 479h3v2h-3zM506 507h3v6h-3zM509 79h3v2h-3zM509 83h3v2h-3zM509 119h3v2h-3zM509 141h3v2h-3zM509 173h3v2h-3zM509 179h3v2h-3zM509 191h3v4h-3zM509 197h3v2h-3zM509 207h3v2h-3zM509 287h3v4h-3zM509 377h3v2h-3zM512 107h3v4h-3zM512 197h3v2h-3zM512 201h3v4h-3zM512 315h3v4h-3zM512 405h3v4h-3zM512 413h3v4h-3zM512 503h3v2h-3zM515 109h3v6h-3zM515 151h3v6h-3zM515 241h3v4h-3zM515 297h3v4h-3zM515 375h3v2h-3zM515 435h3v2h-3zM515 477h3v2h-3zM515 533h3v4h-3zM518 91h3v4h-3zM518 191h3v6h-3zM518 255h3v2h-3zM518 301h3v8h-3zM518 353h3v4h-3zM518 469h3v6h-3zM518 503h3v2h-3zM518 521h3v4h-3zM518 527h3v2h-3zM521 81h3v2h-3zM521 263h3v2h-3zM521 359h3v8h-3zM521 379h3v4h-3zM521 447h3v4h-3zM521 475h3v2h-3zM521 505h3v2h-3zM524 69h3v6h-3zM524 89h3v2h-3zM524 147h3v8h-3zM524 359h3v8h-3zM524 413h3v2h-3zM524 451h3v2h-3zM524 503h3v2h-3zM527 211h3v8h-3zM527 221h3v2h-3zM527 421h3v2h-3zM527 429h3v2h-3zM527 435h3v2h-3zM530 79h3v2h-3zM530 123h3v8h-3zM530 207h3v2h-3zM530 359h3v6h-3zM530 397h3v4h-3zM530 477h3v4h-3zM530 503h3v2h-3zM533 59h3v2h-3zM533 237h3v2h-3zM533 255h3v6h-3zM533 341h3v2h-3zM533 413h3v6h-3zM533 503h3v2h-3zM536 163h3v4h-3zM536 205h3v8h-3zM536 219h3v2h-3zM536 271h3v4h-3zM536 503h3v2h-3zM539 119h3v2h-3zM539 127h3v6h-3zM539 249h3v4h-3zM539 289h3v2h-3zM539 393h3v2h-3zM539 409h3v2h-3zM539 485h3v4h-3zM539 503h3v2h-3zM542 109h3v2h-3zM542 269h3v14h-3zM545 71h3v6h-3zM545 79h3v4h-3zM545 271h3v4h-3zM545 305h3v2h-3zM545 313h3v2h-3zM545 503h3v2h-3zM548 485h3v2h-3zM548 503h3v2h-3zM551 145h3v8h-3zM551 279h3v2h-3zM551 293h3v6h-3zM551 447h3v4h-3zM554 167h3v2h-3zM554 241h3v4h-3zM554 263h3v6h-3zM554 289h3v10h-3zM554 349h3v6h-3zM554 503h3v2h-3zM557 175h3v2h-3zM557 179h3v2h-3zM557 371h3v8h-3zM557 429h3v6h-3zM557 503h3v2h-3zM560 63h3v6h-3zM560 141h3v2h-3zM560 185h3v4h-3zM560 209h3v4h-3zM560 259h3v2h-3zM560 375h3v8h-3zM560 473h3v4h-3zM560 479h3v2h-3zM560 517h3v4h-3zM563 71h3v4h-3zM563 109h3v2h-3zM563 143h3v2h-3zM563 211h3v2h-3zM563 281h3v4h-3zM563 503h3v2h-3zM566 139h3v2h-3zM566 211h3v2h-3zM566 359h3v2h-3zM566 371h3v4h-3zM566 503h3v2h-3zM569 165h3v8h-3zM569 241h3v6h-3zM569 301h3v4h-3zM569 307h3v2h-3zM569 401h3v2h-3zM569 503h3v2h-3zM572 193h3v6h-3zM572 341h3v4h-3zM572 481h3v2h-3zM575 91h3v2h-3zM575 217h3v2h-3zM575 503h3v2h-3zM578 115h3v8h-3zM578 205h3v8h-3zM578 295h3v8h-3zM578 377h3v4h-3zM578 421h3v2h-3zM578 437h3v4h-3zM578 451h3v4h-3zM581 377h3v6h-3zM581 461h3v2h-3zM581 465h3v4h-3zM581 505h3v6h-3zM584 99h3v8h-3zM584 143h3v4h-3zM584 149h3v2h-3zM584 277h3v8h-3zM584 503h3v2h-3zM587 69h3v2h-3zM587 79h3v4h-3zM587 191h3v8h-3zM587 259h3v12h-3zM587 329h3v2h-3zM587 395h3v8h-3zM590 163h3v6h-3zM590 249h3v8h-3zM590 277h3v2h-3zM590 301h3v6h-3zM590 337h3v4h-3zM590 343h3v2h-3zM590 355h3v4h-3zM590 363h3v6h-3zM590 421h3v6h-3zM590 525h3v2h-3zM593 107h3v8h-3zM593 165h3v2h-3zM593 185h3v2h-3zM593 189h3v4h-3zM593 209h3v2h-3zM593 229h3v2h-3zM593 445h3v2h-3zM596 503h3v2h-3zM596 519h3v4h-3zM599 141h3v6h-3zM599 257h3v4h-3zM599 285h3v2h-3zM599 291h3v2h-3zM599 383h3v2h-3zM599 391h3v4h-3zM599 457h3v4h-3zM599 525h3v2h-3zM602 99h3v4h-3zM602 181h3v10h-3zM602 255h3v2h-3zM602 301h3v6h-3zM602 389h3v4h-3zM602 457h3v4h-3zM605 107h3v2h-3zM605 137h3v4h-3zM605 153h3v8h-3zM605 285h3v8h-3zM605 471h3v4h-3zM608 219h3v4h-3zM608 353h3v8h-3zM608 479h3v2h-3zM611 437h3v2h-3zM611 451h3v2h-3zM611 473h3v2h-3zM614 65h3v4h-3zM614 191h3v8h-3zM614 305h3v4h-3zM614 349h3v2h-3zM614 409h3v2h-3zM614 491h3v12h-3zM617 145h3v2h-3zM617 157h3v2h-3zM617 299h3v4h-3zM617 449h3v4h-3zM617 485h3v18h-3zM620 63h3v2h-3zM620 181h3v2h-3zM620 261h3v16h-3zM620 325h3v4h-3zM620 357h3v6h-3zM620 383h3v6h-3zM620 429h3v4h-3zM620 487h3v10h-3zM620 507h3v4h-3zM623 63h3v6h-3zM623 171h3v6h-3zM623 243h3v6h-3zM623 251h3v2h-3zM623 311h3v2h-3zM623 393h3v2h-3zM623 397h3v2h-3zM623 461h3v6h-3zM623 489h3v14h-3zM626 69h3v2h-3zM626 105h3v2h-3zM626 139h3v2h-3zM626 489h3v4h-3zM626 499h3v4h-3zM629 179h3v8h-3zM629 209h3v6h-3zM629 271h3v8h-3zM629 417h3v6h-3zM629 425h3v2h-3zM629 429h3v4h-3zM629 455h3v2h-3zM629 491h3v12h-3zM632 119h3v8h-3zM632 301h3v2h-3zM632 315h3v4h-3zM632 373h3v2h-3zM632 489h3v6h-3zM632 497h3v14h-3zM635 83h3v2h-3zM635 87h3v4h-3zM635 267h3v2h-3zM635 307h3v6h-3zM635 315h3v4h-3zM635 341h3v2h-3zM635 419h3v6h-3zM635 461h3v2h-3zM635 485h3v12h-3zM638 115h3v2h-3zM638 171h3v4h-3zM638 275h3v2h-3zM638 283h3v4h-3zM638 289h3v2h-3zM638 373h3v8h-3zM638 461h3v2h-3zM638 485h3v12h-3zM638 513h3v2h-3zM638 517h3v2h-3zM641 89h3v2h-3zM641 127h3v2h-3zM641 131h3v2h-3zM641 157h3v4h-3zM641 175h3v2h-3zM641 293h3v2h-3zM641 297h3v4h-3zM641 355h3v4h-3zM641 427h3v4h-3zM641 481h3v4h-3zM644 75h3v4h-3zM647 141h3v8h-3zM647 249h3v2h-3zM647 321h3v8h-3zM647 337h3v2h-3zM647 451h3v2h-3zM647 455h3v4h-3zM647 481h3v4h-3zM650 59h3v4h-3zM650 99h3v6h-3zM650 173h3v2h-3zM650 193h3v8h-3zM650 243h3v2h-3zM650 277h3v2h-3zM650 319h3v4h-3zM650 445h3v4h-3zM650 453h3v4h-3zM650 461h3v2h-3zM650 469h3v2h-3zM650 483h3v2h-3zM650 525h3v2h-3zM653 91h3v2h-3zM653 331h3v4h-3zM653 345h3v8h-3zM653 361h3v2h-3zM653 409h3v2h-3zM653 447h3v4h-3zM653 505h3v4h-3zM653 511h3v6h-3zM656 67h3v2h-3zM656 115h3v8h-3zM656 183h3v4h-3zM656 247h3v4h-3zM656 253h3v2h-3zM656 297h3v4h-3zM656 343h3v2h-3zM656 351h3v2h-3zM659 111h3v4h-3zM662 65h3v2h-3zM662 271h3v2h-3zM662 345h3v2h-3zM662 351h3v2h-3zM662 407h3v2h-3zM662 411h3v2h-3zM662 415h3v6h-3zM662 531h3v6h-3zM665 107h3v2h-3zM665 209h3v4h-3zM665 247h3v6h-3zM665 329h3v2h-3zM665 353h3v2h-3zM665 373h3v6h-3zM665 415h3v6h-3zM668 205h3v2h-3zM668 489h3v2h-3zM671 77h3v2h-3zM671 157h3v4h-3zM671 185h3v4h-3zM671 191h3v4h-3zM671 257h3v4h-3zM671 341h3v4h-3zM671 395h3v2h-3zM671 515h3v4h-3zM674 77h3v8h-3zM674 137h3v2h-3zM674 141h3v2h-3zM674 243h3v2h-3zM674 377h3v4h-3zM674 395h3v2h-3zM674 437h3v6h-3zM680 107h3v4h-3zM680 149h3v2h-3zM680 331h3v8h-3zM680 441h3v2h-3zM683 213h3v8h-3zM683 279h3v4h-3zM683 391h3v4h-3zM686 207h3v6h-3zM686 363h3v8h-3zM686 389h3v6h-3zM689 145h3v6h-3zM689 187h3v2h-3zM689 221h3v6h-3zM689 327h3v2h-3zM689 467h3v2h-3zM689 485h3v4h-3zM689 513h3v8h-3zM689 525h3v8h-3zM692 209h3v6h-3zM692 223h3v6h-3zM692 321h3v2h-3zM692 359h3v6h-3zM695 149h3v2h-3zM695 153h3v4h-3zM695 189h3v2h-3zM695 193h3v2h-3zM695 339h3v8h-3zM695 361h3v6h-3zM695 533h3v2h-3zM698 133h3v2h-3zM698 153h3v6h-3zM698 161h3v2h-3zM698 291h3v12h-3zM698 391h3v2h-3zM698 481h3v2h-3zM701 145h3v2h-3zM701 321h3v8h-3zM701 445h3v4h-3zM701 457h3v10h-3zM704 69h3v2h-3zM704 107h3v2h-3zM704 113h3v2h-3zM704 131h3v2h-3zM704 261h3v2h-3zM704 283h3v4h-3zM704 339h3v4h-3zM704 373h3v2h-3zM704 463h3v4h-3zM704 495h3v2h-3zM707 125h3v2h-3zM707 177h3v6h-3zM707 193h3v4h-3zM707 261h3v4h-3zM707 307h3v2h-3zM707 311h3v4h-3zM707 347h3v2h-3zM707 521h3v2h-3zM707 525h3v2h-3zM710 237h3v4h-3zM710 291h3v2h-3zM710 393h3v2h-3zM713 71h3v4h-3zM713 77h3v4h-3zM713 157h3v10h-3zM713 173h3v2h-3zM713 373h3v4h-3zM713 395h3v2h-3zM713 399h3v4h-3zM713 447h3v2h-3zM713 467h3v2h-3zM716 75h3v6h-3zM716 91h3v2h-3zM716 179h3v6h-3zM716 199h3v2h-3zM716 273h3v2h-3zM716 351h3v2h-3zM716 363h3v4h-3zM716 521h3v2h-3zM719 73h3v2h-3zM719 101h3v6h-3zM719 181h3v4h-3zM719 257h3v6h-3zM719 369h3v4h-3zM719 447h3v2h-3zM719 461h3v4h-3zM722 65h3v2h-3zM722 129h3v4h-3zM722 159h3v8h-3zM722 185h3v2h-3zM722 369h3v4h-3zM722 433h3v6h-3zM722 465h3v4h-3zM725 167h3v6h-3zM725 201h3v6h-3zM725 317h3v4h-3zM725 399h3v2h-3zM725 453h3v4h-3zM728 115h3v6h-3zM728 169h3v4h-3zM728 217h3v2h-3zM728 277h3v2h-3zM728 293h3v4h-3zM728 301h3v6h-3zM728 319h3v2h-3zM728 323h3v2h-3zM728 439h3v8h-3zM728 513h3v8h-3zM731 79h3v8h-3zM731 103h3v8h-3zM731 369h3v2h-3zM734 115h3v2h-3zM734 119h3v2h-3zM734 185h3v2h-3zM734 283h3v4h-3zM734 333h3v2h-3zM734 337h3v4h-3zM734 353h3v4h-3zM734 359h3v2h-3zM734 373h3v2h-3zM734 377h3v6h-3zM737 99h3v4h-3zM737 105h3v2h-3zM737 261h3v4h-3zM737 333h3v4h-3zM737 405h3v8h-3zM737 451h3v2h-3zM737 525h3v4h-3zM740 165h3v2h-3zM740 229h3v4h-3zM740 339h3v8h-3zM740 447h3v4h-3zM740 473h3v6h-3zM743 185h3v8h-3zM743 289h3v10h-3zM743 407h3v4h-3zM743 503h3v4h-3zM746 125h3v2h-3zM746 161h3v4h-3zM746 217h3v8h-3zM746 239h3v2h-3zM746 261h3v8h-3zM746 337h3v2h-3zM746 355h3v2h-3zM746 413h3v6h-3zM746 473h3v6h-3zM749 279h3v2h-3zM749 351h3v8h-3zM749 479h3v2h-3zM752 81h3v4h-3zM752 173h3v4h-3zM752 181h3v6h-3zM752 211h3v6h-3zM752 361h3v4h-3zM752 531h3v4h-3zM755 159h3v4h-3zM755 223h3v6h-3zM755 323h3v4h-3zM755 443h3v2h-3zM758 111h3v2h-3zM758 129h3v2h-3zM758 225h3v4h-3zM758 339h3v2h-3zM758 419h3v4h-3zM758 425h3v2h-3zM758 489h3v4h-3zM758 503h3v4h-3zM761 169h3v8h-3zM761 263h3v4h-3zM761 355h3v2h-3zM761 411h3v6h-3zM764 127h3v8h-3zM764 179h3v4h-3zM764 185h3v10h-3zM767 179h3v6h-3zM767 211h3v2h-3zM767 231h3v6h-3zM767 355h3v2h-3zM767 487h3v2h-3zM770 169h3v4h-3zM770 303h3v4h-3zM770 505h3v2h-3zM770 535h3v2h-3zM773 231h3v4h-3zM773 299h3v2h-3zM773 379h3v6h-3zM776 233h3v4h-3zM776 299h3v6h-3zM776 459h3v8h-3zM776 523h3v4h-3zM779 215h3v4h-3zM779 241h3v6h-3zM779 263h3v4h-3zM779 461h3v8h-3zM779 475h3v4h-3zM782 417h3v8h-3z" fill="#0c0000"/>
<path d="M68 473h3v2h-3zM68 487h3v2h-3zM71 479h3v2h-3zM74 495h3v2h-3zM77 477h3v2h-3zM77 485h3v2h-3zM77 497h3v2h-3zM83 473h3v2h-3zM86 477h3v2h-3zM89 473h3v2h-3zM89 497h3v4h-3zM95 473h3v2h-3zM98 469h3v2h-3zM104 473h3v2h-3zM104 481h3v2h-3zM107 465h3v2h-3zM110 473h3v2h-3zM113 479h3v2h-3zM119 465h3v2h-3zM122 465h3v2h-3zM125 459h3v2h-3zM125 463h3v2h-3zM128 471h3v2h-3zM131 463h3v2h-3zM134 463h3v6h-3zM140 459h3v2h-3zM143 377h3v2h-3zM143 381h3v4h-3zM143 507h3v2h-3zM146 381h3v2h-3zM146 387h3v2h-3zM146 391h3v2h-3zM146 461h3v4h-3zM149 389h3v6h-3zM149 399h3v2h-3zM155 459h3v2h-3zM158 421h3v2h-3zM158 467h3v2h-3zM158 507h3v2h-3zM161 421h3v2h-3zM161 465h3v2h-3zM164 421h3v2h-3zM164 463h3v4h-3zM170 403h3v2h-3zM173 261h3v2h-3zM173 471h3v2h-3zM176 485h3v2h-3zM179 473h3v2h-3zM188 381h3v2h-3zM188 389h3v2h-3zM191 383h3v2h-3zM194 243h3v2h-3zM200 233h3v2h-3zM209 371h3v2h-3zM209 377h3v4h-3zM212 379h3v2h-3zM221 189h3v2h-3zM224 353h3v2h-3zM224 357h3v2h-3zM224 361h3v4h-3zM230 349h3v6h-3zM233 173h3v6h-3zM233 347h3v2h-3zM233 351h3v6h-3zM236 171h3v2h-3zM239 349h3v2h-3zM251 333h3v2h-3zM257 325h3v2h-3zM257 329h3v2h-3zM263 329h3v2h-3zM266 319h3v2h-3zM269 99h3v4h-3zM269 333h3v2h-3zM272 319h3v8h-3zM272 331h3v2h-3zM278 319h3v2h-3zM281 321h3v4h-3zM284 303h3v6h-3zM284 315h3v2h-3zM287 73h3v2h-3zM287 305h3v2h-3zM287 309h3v2h-3zM290 75h3v2h-3zM293 69h3v2h-3zM299 307h3v2h-3zM302 293h3v2h-3zM302 299h3v2h-3zM302 303h3v2h-3zM305 299h3v2h-3zM308 285h3v2h-3zM308 289h3v6h-3zM311 281h3v2h-3zM311 285h3v2h-3zM314 287h3v2h-3zM317 277h3v2h-3zM317 281h3v2h-3zM317 289h3v2h-3zM323 273h3v4h-3zM329 271h3v2h-3zM329 279h3v2h-3zM332 269h3v2h-3zM335 271h3v2h-3zM341 253h3v8h-3zM341 269h3v2h-3zM365 267h3v2h-3zM374 245h3v2h-3zM398 249h3v2h-3zM404 247h3v2h-3zM434 241h3v2h-3zM446 241h3v2h-3zM467 495h3v2h-3zM479 497h3v2h-3zM485 495h3v2h-3zM500 241h3v2h-3zM512 497h3v2h-3zM515 239h3v2h-3zM533 495h3v2h-3zM551 497h3v2h-3zM557 497h3v2h-3zM575 495h3v2h-3zM581 497h3v2h-3zM590 497h3v2h-3zM593 493h3v2h-3zM593 497h3v2h-3zM644 163h3v2h-3z" fill="#0c6000"/>
<path d="M68 489h3v2h-3zM71 503h3v2h-3zM77 495h3v2h-3zM77 501h3v4h-3zM80 475h3v4h-3zM83 475h3v2h-3zM83 491h3v2h-3zM83 499h3v2h-3zM83 505h3v2h-3zM86 497h3v2h-3zM89 475h3v2h-3zM89 493h3v4h-3zM89 501h3v2h-3zM92 473h3v2h-3zM92 477h3v2h-3zM95 471h3v2h-3zM101 471h3v2h-3zM101 475h3v2h-3zM107 469h3v2h-3zM107 475h3v2h-3zM110 469h3v2h-3zM113 475h3v2h-3zM116 463h3v4h-3zM116 471h3v2h-3zM119 467h3v2h-3zM125 467h3v2h-3zM128 467h3v2h-3zM128 473h3v2h-3zM131 461h3v2h-3zM131 467h3v2h-3zM140 465h3v4h-3zM143 387h3v2h-3zM143 459h3v2h-3zM146 385h3v2h-3zM146 389h3v2h-3zM146 393h3v2h-3zM152 461h3v2h-3zM158 465h3v2h-3zM161 401h3v2h-3zM161 463h3v2h-3zM161 471h3v2h-3zM164 459h3v4h-3zM167 465h3v2h-3zM170 407h3v2h-3zM170 461h3v2h-3zM170 465h3v2h-3zM173 469h3v2h-3zM176 479h3v4h-3zM176 487h3v2h-3zM179 467h3v2h-3zM188 383h3v2h-3zM188 387h3v2h-3zM191 239h3v2h-3zM194 371h3v2h-3zM194 377h3v4h-3zM197 231h3v2h-3zM209 373h3v2h-3zM212 207h3v2h-3zM215 203h3v4h-3zM215 369h3v2h-3zM215 375h3v2h-3zM218 195h3v2h-3zM224 187h3v6h-3zM227 365h3v2h-3zM230 179h3v2h-3zM236 339h3v2h-3zM236 345h3v2h-3zM239 347h3v2h-3zM242 153h3v2h-3zM248 133h3v2h-3zM251 131h3v6h-3zM251 139h3v2h-3zM251 329h3v2h-3zM251 335h3v4h-3zM254 129h3v4h-3zM254 335h3v2h-3zM254 339h3v4h-3zM257 127h3v2h-3zM257 331h3v4h-3zM263 331h3v2h-3zM266 321h3v2h-3zM266 333h3v4h-3zM269 107h3v2h-3zM269 323h3v4h-3zM269 329h3v4h-3zM272 99h3v2h-3zM272 317h3v2h-3zM272 329h3v2h-3zM275 89h3v2h-3zM278 313h3v2h-3zM284 313h3v2h-3zM284 317h3v2h-3zM287 307h3v2h-3zM287 311h3v2h-3zM287 315h3v2h-3zM287 487h3v2h-3zM290 73h3v2h-3zM293 67h3v2h-3zM296 61h3v2h-3zM302 289h3v2h-3zM302 295h3v2h-3zM302 301h3v2h-3zM302 305h3v2h-3zM308 283h3v2h-3zM308 295h3v2h-3zM311 291h3v2h-3zM314 281h3v4h-3zM314 289h3v2h-3zM317 287h3v2h-3zM323 269h3v2h-3zM323 277h3v4h-3zM326 275h3v2h-3zM329 275h3v2h-3zM332 275h3v2h-3zM332 495h3v2h-3zM410 245h3v2h-3zM464 493h3v2h-3zM467 241h3v2h-3zM467 497h3v2h-3zM479 241h3v2h-3zM482 497h3v2h-3zM485 241h3v2h-3zM497 241h3v2h-3zM512 495h3v2h-3zM515 497h3v2h-3zM539 493h3v2h-3zM548 223h3v2h-3zM554 491h3v2h-3zM557 491h3v2h-3zM560 491h3v2h-3zM563 489h3v2h-3zM563 501h3v2h-3zM566 501h3v2h-3zM569 495h3v2h-3zM572 491h3v2h-3zM575 491h3v2h-3zM575 501h3v2h-3zM578 495h3v2h-3zM581 491h3v2h-3zM581 495h3v2h-3zM581 499h3v4h-3zM587 491h3v2h-3zM590 491h3v2h-3zM596 489h3v2h-3zM596 493h3v2h-3zM596 497h3v2h-3zM599 495h3v6h-3zM602 501h3v2h-3zM626 191h3v2h-3z" fill="#0e6c00"/>
<path d="M68 477h3v2h-3zM68 503h3v4h-3zM71 483h3v2h-3zM74 487h3v2h-3zM74 497h3v2h-3zM77 479h3v2h-3zM77 505h3v2h-3zM80 481h3v2h-3zM80 497h3v2h-3zM80 503h3v2h-3zM83 481h3v2h-3zM86 473h3v2h-3zM86 481h3v2h-3zM86 499h3v4h-3zM89 481h3v4h-3zM92 479h3v2h-3zM92 487h3v2h-3zM92 491h3v2h-3zM95 477h3v2h-3zM95 485h3v2h-3zM98 471h3v2h-3zM98 483h3v2h-3zM110 479h3v2h-3zM116 469h3v2h-3zM143 379h3v2h-3zM143 385h3v2h-3zM143 391h3v2h-3zM143 461h3v2h-3zM146 379h3v2h-3zM146 469h3v2h-3zM149 401h3v2h-3zM152 477h3v2h-3zM155 467h3v2h-3zM161 403h3v2h-3zM170 405h3v2h-3zM170 409h3v2h-3zM170 413h3v2h-3zM170 419h3v2h-3zM170 463h3v2h-3zM170 471h3v2h-3zM173 473h3v2h-3zM176 483h3v2h-3zM179 407h3v2h-3zM179 469h3v4h-3zM182 409h3v2h-3zM188 385h3v2h-3zM194 373h3v2h-3zM194 381h3v8h-3zM209 369h3v2h-3zM209 375h3v2h-3zM212 371h3v2h-3zM212 375h3v2h-3zM215 367h3v2h-3zM215 371h3v2h-3zM218 193h3v2h-3zM224 355h3v2h-3zM224 359h3v2h-3zM224 365h3v6h-3zM230 171h3v4h-3zM230 355h3v6h-3zM236 341h3v4h-3zM236 347h3v2h-3zM236 351h3v6h-3zM239 345h3v2h-3zM242 147h3v2h-3zM245 357h3v2h-3zM248 355h3v2h-3zM251 353h3v2h-3zM257 327h3v2h-3zM263 333h3v4h-3zM266 329h3v2h-3zM272 95h3v2h-3zM272 101h3v2h-3zM275 91h3v2h-3zM278 93h3v2h-3zM278 315h3v4h-3zM284 309h3v2h-3zM290 67h3v2h-3zM299 59h3v2h-3zM302 297h3v2h-3zM302 311h3v2h-3zM305 489h3v2h-3zM305 493h3v2h-3zM311 293h3v2h-3zM311 489h3v2h-3zM314 279h3v2h-3zM314 285h3v2h-3zM317 283h3v4h-3zM317 491h3v4h-3zM323 267h3v2h-3zM326 491h3v2h-3zM329 499h3v2h-3zM332 489h3v4h-3zM332 499h3v2h-3zM449 241h3v2h-3zM452 241h3v2h-3zM455 241h3v2h-3zM458 241h3v2h-3zM461 241h3v2h-3zM464 241h3v2h-3zM470 241h3v2h-3zM470 495h3v2h-3zM473 241h3v2h-3zM476 241h3v2h-3zM476 495h3v2h-3zM482 241h3v2h-3zM488 241h3v2h-3zM491 241h3v2h-3zM494 241h3v2h-3zM515 499h3v2h-3zM518 489h3v2h-3zM518 493h3v4h-3zM521 489h3v2h-3zM527 491h3v2h-3zM527 499h3v2h-3zM530 495h3v4h-3zM530 501h3v2h-3zM536 495h3v2h-3zM536 499h3v2h-3zM539 499h3v2h-3zM551 495h3v2h-3zM554 233h3v2h-3zM554 495h3v2h-3zM557 493h3v2h-3zM563 497h3v2h-3zM566 493h3v2h-3zM599 493h3v2h-3zM602 211h3v2h-3zM653 141h3v2h-3z" fill="#0f7800"/>
<path d="M68 483h3v2h-3zM68 495h3v2h-3zM71 485h3v2h-3zM71 495h3v2h-3zM74 485h3v2h-3zM74 491h3v2h-3zM74 499h3v2h-3zM77 487h3v2h-3zM80 485h3v2h-3zM80 489h3v2h-3zM80 505h3v2h-3zM83 487h3v2h-3zM83 501h3v2h-3zM86 475h3v2h-3zM86 493h3v2h-3zM89 485h3v2h-3zM92 483h3v2h-3zM92 501h3v4h-3zM95 489h3v2h-3zM101 473h3v2h-3zM101 489h3v2h-3zM104 475h3v6h-3zM107 479h3v2h-3zM113 473h3v2h-3zM116 495h3v2h-3zM122 471h3v2h-3zM125 465h3v2h-3zM131 465h3v2h-3zM131 469h3v2h-3zM134 469h3v6h-3zM137 465h3v2h-3zM137 475h3v2h-3zM140 469h3v2h-3zM143 389h3v2h-3zM146 377h3v2h-3zM146 395h3v2h-3zM146 465h3v2h-3zM149 397h3v2h-3zM149 465h3v4h-3zM152 401h3v2h-3zM152 465h3v2h-3zM152 475h3v2h-3zM152 479h3v2h-3zM155 413h3v2h-3zM155 417h3v2h-3zM158 469h3v2h-3zM158 475h3v2h-3zM161 413h3v2h-3zM161 419h3v2h-3zM161 469h3v2h-3zM167 489h3v2h-3zM170 411h3v2h-3zM170 417h3v2h-3zM173 419h3v2h-3zM176 469h3v2h-3zM179 475h3v2h-3zM182 407h3v2h-3zM182 411h3v2h-3zM188 393h3v2h-3zM191 387h3v4h-3zM194 375h3v2h-3zM194 397h3v2h-3zM197 391h3v2h-3zM209 211h3v2h-3zM212 203h3v2h-3zM215 209h3v2h-3zM215 373h3v2h-3zM221 187h3v2h-3zM221 191h3v2h-3zM224 185h3v2h-3zM224 377h3v2h-3zM227 185h3v2h-3zM236 349h3v2h-3zM239 153h3v2h-3zM248 139h3v2h-3zM248 347h3v2h-3zM251 331h3v2h-3zM251 339h3v6h-3zM254 337h3v2h-3zM257 335h3v2h-3zM263 337h3v2h-3zM266 113h3v2h-3zM266 323h3v6h-3zM266 331h3v2h-3zM266 341h3v2h-3zM269 327h3v2h-3zM278 309h3v4h-3zM278 321h3v2h-3zM281 83h3v2h-3zM281 499h3v2h-3zM284 311h3v2h-3zM287 319h3v2h-3zM287 485h3v2h-3zM287 489h3v2h-3zM290 65h3v2h-3zM293 71h3v2h-3zM296 63h3v2h-3zM305 497h3v2h-3zM308 497h3v2h-3zM317 279h3v2h-3zM317 295h3v2h-3zM320 293h3v2h-3zM320 495h3v4h-3zM323 271h3v2h-3zM323 281h3v2h-3zM326 281h3v2h-3zM329 495h3v2h-3zM413 239h3v2h-3zM419 237h3v2h-3zM431 241h3v2h-3zM464 495h3v2h-3zM470 501h3v2h-3zM473 497h3v2h-3zM476 497h3v4h-3zM482 491h3v2h-3zM485 489h3v2h-3zM488 491h3v2h-3zM488 499h3v2h-3zM491 501h3v2h-3zM524 493h3v2h-3zM533 497h3v2h-3zM539 235h3v2h-3zM542 235h3v2h-3zM560 493h3v2h-3zM569 493h3v2h-3zM572 497h3v2h-3zM575 497h3v2h-3zM587 495h3v2h-3zM593 215h3v2h-3zM641 179h3v2h-3z" fill="#118400"/>
<path d="M68 65h3v2h-3zM68 209h3v2h-3zM68 305h3v4h-3zM68 345h3v2h-3zM68 377h3v4h-3zM68 511h3v2h-3zM68 521h3v2h-3zM68 529h3v2h-3zM71 165h3v4h-3zM71 183h3v2h-3zM71 197h3v2h-3zM71 223h3v2h-3zM71 349h3v6h-3zM74 117h3v2h-3zM74 213h3v2h-3zM74 275h3v2h-3zM74 369h3v2h-3zM74 521h3v4h-3zM74 531h3v2h-3zM77 81h3v2h-3zM77 87h3v2h-3zM77 435h3v2h-3zM77 515h3v2h-3zM77 523h3v2h-3zM80 87h3v8h-3zM80 173h3v2h-3zM80 329h3v4h-3zM83 61h3v4h-3zM83 205h3v4h-3zM83 289h3v2h-3zM83 293h3v4h-3zM83 421h3v4h-3zM83 515h3v4h-3zM83 529h3v8h-3zM86 301h3v2h-3zM86 305h3v2h-3zM86 451h3v2h-3zM86 455h3v2h-3zM86 529h3v6h-3zM89 131h3v2h-3zM89 135h3v2h-3zM89 215h3v2h-3zM89 335h3v2h-3zM95 77h3v2h-3zM95 117h3v2h-3zM95 145h3v2h-3zM95 149h3v4h-3zM95 195h3v2h-3zM98 79h3v2h-3zM98 99h3v2h-3zM98 139h3v4h-3zM98 145h3v2h-3zM98 175h3v8h-3zM98 227h3v2h-3zM98 309h3v2h-3zM98 353h3v2h-3zM98 391h3v4h-3zM98 397h3v2h-3zM98 513h3v2h-3zM101 139h3v2h-3zM104 229h3v2h-3zM104 353h3v4h-3zM104 359h3v4h-3zM104 401h3v2h-3zM104 445h3v2h-3zM107 123h3v2h-3zM107 141h3v6h-3zM107 161h3v4h-3zM107 263h3v8h-3zM107 291h3v2h-3zM107 313h3v8h-3zM107 345h3v2h-3zM107 513h3v2h-3zM110 157h3v2h-3zM110 513h3v2h-3zM110 519h3v6h-3zM113 61h3v4h-3zM113 115h3v6h-3zM113 149h3v2h-3zM113 261h3v6h-3zM113 293h3v2h-3zM113 363h3v4h-3zM113 381h3v2h-3zM113 515h3v2h-3zM113 521h3v2h-3zM116 191h3v2h-3zM116 195h3v2h-3zM116 203h3v2h-3zM119 109h3v2h-3zM119 113h3v4h-3zM119 127h3v2h-3zM119 149h3v2h-3zM122 81h3v2h-3zM122 169h3v6h-3zM122 189h3v2h-3zM122 445h3v2h-3zM125 77h3v2h-3zM125 193h3v6h-3zM128 301h3v2h-3zM128 435h3v4h-3zM131 215h3v2h-3zM131 221h3v4h-3zM131 529h3v2h-3zM134 91h3v2h-3zM134 329h3v4h-3zM134 341h3v4h-3zM134 401h3v2h-3zM134 425h3v2h-3zM137 111h3v4h-3zM137 171h3v2h-3zM140 103h3v2h-3zM140 167h3v2h-3zM140 171h3v2h-3zM140 183h3v4h-3zM140 319h3v2h-3zM140 335h3v2h-3zM140 391h3v2h-3zM140 397h3v2h-3zM140 437h3v4h-3zM140 443h3v2h-3zM143 93h3v2h-3zM143 173h3v2h-3zM143 225h3v2h-3zM143 299h3v2h-3zM143 413h3v2h-3zM146 99h3v2h-3zM146 157h3v2h-3zM146 169h3v4h-3zM146 189h3v2h-3zM146 233h3v2h-3zM146 237h3v2h-3zM146 241h3v4h-3zM146 289h3v2h-3zM146 363h3v6h-3zM149 101h3v2h-3zM149 229h3v4h-3zM149 249h3v2h-3zM149 301h3v2h-3zM149 349h3v4h-3zM149 355h3v2h-3zM149 511h3v4h-3zM152 135h3v2h-3zM152 197h3v6h-3zM152 251h3v2h-3zM152 261h3v2h-3zM152 289h3v2h-3zM155 125h3v2h-3zM155 209h3v2h-3zM155 213h3v2h-3zM155 309h3v4h-3zM158 225h3v2h-3zM158 529h3v2h-3zM167 145h3v2h-3zM167 343h3v2h-3zM167 347h3v6h-3zM170 265h3v2h-3zM170 369h3v2h-3zM170 399h3v4h-3zM173 131h3v4h-3zM173 137h3v2h-3zM173 159h3v4h-3zM173 327h3v2h-3zM173 433h3v2h-3zM176 121h3v2h-3zM176 137h3v2h-3zM176 141h3v2h-3zM176 227h3v6h-3zM176 345h3v4h-3zM176 385h3v2h-3zM179 123h3v8h-3zM179 195h3v4h-3zM179 393h3v4h-3zM179 431h3v6h-3zM182 71h3v6h-3zM182 259h3v2h-3zM182 291h3v6h-3zM182 311h3v4h-3zM185 145h3v6h-3zM185 205h3v2h-3zM185 247h3v4h-3zM185 263h3v2h-3zM185 267h3v2h-3zM185 277h3v2h-3zM188 455h3v2h-3zM191 257h3v2h-3zM191 275h3v8h-3zM191 329h3v2h-3zM191 427h3v2h-3zM194 153h3v2h-3zM194 275h3v2h-3zM194 287h3v2h-3zM194 349h3v2h-3zM194 367h3v2h-3zM197 135h3v2h-3zM197 167h3v2h-3zM197 333h3v2h-3zM197 411h3v2h-3zM197 433h3v8h-3zM200 145h3v2h-3zM200 223h3v2h-3zM200 339h3v4h-3zM200 457h3v4h-3zM200 523h3v4h-3zM203 95h3v2h-3zM203 251h3v2h-3zM203 265h3v8h-3zM203 311h3v8h-3zM206 117h3v4h-3zM206 123h3v2h-3zM206 529h3v2h-3zM209 177h3v6h-3zM209 471h3v2h-3zM212 173h3v4h-3zM212 257h3v2h-3zM212 303h3v2h-3zM212 307h3v2h-3zM212 377h3v2h-3zM212 427h3v2h-3zM212 445h3v2h-3zM215 239h3v4h-3zM215 339h3v2h-3zM215 395h3v2h-3zM215 403h3v2h-3zM215 449h3v2h-3zM215 453h3v2h-3zM215 529h3v6h-3zM218 145h3v2h-3zM218 155h3v2h-3zM218 219h3v2h-3zM218 355h3v2h-3zM221 89h3v2h-3zM221 99h3v2h-3zM221 103h3v2h-3zM221 143h3v4h-3zM221 213h3v4h-3zM221 273h3v2h-3zM221 287h3v4h-3zM221 417h3v2h-3zM224 221h3v6h-3zM224 247h3v2h-3zM224 293h3v10h-3zM227 93h3v4h-3zM227 137h3v6h-3zM227 333h3v4h-3zM227 397h3v2h-3zM227 429h3v2h-3zM227 447h3v6h-3zM227 469h3v2h-3zM230 85h3v2h-3zM230 397h3v2h-3zM230 523h3v2h-3zM233 77h3v2h-3zM233 195h3v2h-3zM233 199h3v4h-3zM233 209h3v2h-3zM233 219h3v2h-3zM233 239h3v2h-3zM233 287h3v2h-3zM233 403h3v2h-3zM233 425h3v2h-3zM233 467h3v2h-3zM236 277h3v6h-3zM236 329h3v4h-3zM236 379h3v2h-3zM239 99h3v2h-3zM239 255h3v2h-3zM239 259h3v4h-3zM239 401h3v2h-3zM242 171h3v2h-3zM242 187h3v2h-3zM242 457h3v2h-3zM245 95h3v6h-3zM245 167h3v2h-3zM245 265h3v2h-3zM245 371h3v2h-3zM245 397h3v4h-3zM248 87h3v4h-3zM248 115h3v2h-3zM248 121h3v2h-3zM248 199h3v2h-3zM248 203h3v2h-3zM248 327h3v2h-3zM248 393h3v2h-3zM248 523h3v6h-3zM251 103h3v2h-3zM251 283h3v6h-3zM251 311h3v2h-3zM251 315h3v2h-3zM251 393h3v2h-3zM251 465h3v2h-3zM251 531h3v6h-3zM254 147h3v2h-3zM254 197h3v4h-3zM257 69h3v8h-3zM257 417h3v2h-3zM257 519h3v2h-3zM257 523h3v4h-3zM263 121h3v2h-3zM266 73h3v2h-3zM266 77h3v2h-3zM266 105h3v4h-3zM266 111h3v2h-3zM266 167h3v2h-3zM266 247h3v2h-3zM266 263h3v2h-3zM266 435h3v2h-3zM266 527h3v2h-3zM266 531h3v4h-3zM269 411h3v2h-3zM269 435h3v2h-3zM269 533h3v2h-3zM272 291h3v6h-3zM272 411h3v4h-3zM272 439h3v2h-3zM272 471h3v2h-3zM275 113h3v2h-3zM275 117h3v2h-3zM275 151h3v6h-3zM275 381h3v2h-3zM275 387h3v2h-3zM275 513h3v2h-3zM278 69h3v4h-3zM278 91h3v2h-3zM278 209h3v4h-3zM278 359h3v2h-3zM278 363h3v2h-3zM281 111h3v2h-3zM281 165h3v4h-3zM281 253h3v6h-3zM281 283h3v8h-3zM281 463h3v2h-3zM284 65h3v4h-3zM284 81h3v2h-3zM284 219h3v2h-3zM284 347h3v2h-3zM284 465h3v2h-3zM287 69h3v2h-3zM287 255h3v2h-3zM287 283h3v2h-3zM287 425h3v4h-3zM287 431h3v2h-3zM287 467h3v2h-3zM290 175h3v6h-3zM290 229h3v2h-3zM290 475h3v2h-3zM293 95h3v2h-3zM293 127h3v2h-3zM293 131h3v2h-3zM293 259h3v2h-3zM293 267h3v2h-3zM293 309h3v4h-3zM293 429h3v2h-3zM293 515h3v4h-3zM293 521h3v4h-3zM296 169h3v2h-3zM296 219h3v2h-3zM296 329h3v2h-3zM296 349h3v2h-3zM296 379h3v2h-3zM296 385h3v2h-3zM296 413h3v2h-3zM296 427h3v6h-3zM296 475h3v2h-3zM299 161h3v4h-3zM299 203h3v2h-3zM299 209h3v2h-3zM299 249h3v6h-3zM299 261h3v2h-3zM299 321h3v2h-3zM299 435h3v2h-3zM299 463h3v2h-3zM302 135h3v4h-3zM302 183h3v6h-3zM302 229h3v4h-3zM302 337h3v2h-3zM302 341h3v2h-3zM302 453h3v2h-3zM302 475h3v2h-3zM302 505h3v2h-3zM305 151h3v2h-3zM305 335h3v2h-3zM305 421h3v6h-3zM305 451h3v2h-3zM305 455h3v2h-3zM305 467h3v2h-3zM308 115h3v2h-3zM308 139h3v4h-3zM308 243h3v4h-3zM308 249h3v2h-3zM308 325h3v2h-3zM308 329h3v2h-3zM308 339h3v2h-3zM308 345h3v2h-3zM308 363h3v4h-3zM308 407h3v2h-3zM308 441h3v4h-3zM308 457h3v2h-3zM308 463h3v2h-3zM311 127h3v6h-3zM311 145h3v2h-3zM311 189h3v4h-3zM311 393h3v2h-3zM311 415h3v2h-3zM311 475h3v4h-3zM311 511h3v2h-3zM314 99h3v2h-3zM314 105h3v2h-3zM314 109h3v2h-3zM314 201h3v2h-3zM314 447h3v2h-3zM317 73h3v2h-3zM317 79h3v2h-3zM317 467h3v2h-3zM320 99h3v2h-3zM323 79h3v6h-3zM323 87h3v4h-3zM323 101h3v2h-3zM323 321h3v2h-3zM323 325h3v4h-3zM323 331h3v4h-3zM323 383h3v4h-3zM323 411h3v2h-3zM323 477h3v2h-3zM326 87h3v2h-3zM326 397h3v4h-3zM326 473h3v4h-3zM326 479h3v2h-3zM329 221h3v4h-3zM329 233h3v4h-3zM329 369h3v6h-3zM329 461h3v4h-3zM332 217h3v4h-3zM332 505h3v4h-3zM335 195h3v2h-3zM335 263h3v2h-3zM335 297h3v2h-3zM335 309h3v2h-3zM335 517h3v4h-3zM335 523h3v2h-3zM338 65h3v2h-3zM338 69h3v4h-3zM338 353h3v2h-3zM338 405h3v2h-3zM338 455h3v2h-3zM341 97h3v2h-3zM341 127h3v6h-3zM341 339h3v2h-3zM341 427h3v4h-3zM341 453h3v2h-3zM344 145h3v2h-3zM344 309h3v6h-3zM344 347h3v2h-3zM344 373h3v2h-3zM344 431h3v2h-3zM344 477h3v4h-3zM344 517h3v2h-3zM347 85h3v2h-3zM347 141h3v2h-3zM347 185h3v2h-3zM350 139h3v2h-3zM350 155h3v2h-3zM350 245h3v2h-3zM350 279h3v2h-3zM350 291h3v2h-3zM350 309h3v2h-3zM350 461h3v8h-3zM353 97h3v2h-3zM353 155h3v8h-3zM353 479h3v2h-3zM356 67h3v2h-3zM356 149h3v2h-3zM356 153h3v2h-3zM356 167h3v2h-3zM356 275h3v4h-3zM356 281h3v4h-3zM356 401h3v2h-3zM356 515h3v6h-3zM359 59h3v2h-3zM359 75h3v2h-3zM359 137h3v2h-3zM359 445h3v2h-3zM362 117h3v2h-3zM362 123h3v2h-3zM362 247h3v2h-3zM362 267h3v2h-3zM362 281h3v2h-3zM362 365h3v2h-3zM365 251h3v4h-3zM365 407h3v4h-3zM365 477h3v2h-3zM368 155h3v2h-3zM368 225h3v6h-3zM368 251h3v2h-3zM368 343h3v2h-3zM368 389h3v2h-3zM371 113h3v2h-3zM371 171h3v6h-3zM371 179h3v2h-3zM371 215h3v2h-3zM371 237h3v2h-3zM371 247h3v2h-3zM371 309h3v4h-3zM371 315h3v2h-3zM371 323h3v2h-3zM374 113h3v2h-3zM374 147h3v2h-3zM374 159h3v8h-3zM374 329h3v2h-3zM374 411h3v4h-3zM377 185h3v2h-3zM377 389h3v4h-3zM377 441h3v2h-3zM377 485h3v2h-3zM380 157h3v2h-3zM380 265h3v6h-3zM380 439h3v2h-3zM383 67h3v6h-3zM383 135h3v4h-3zM383 141h3v2h-3zM383 461h3v2h-3zM383 489h3v2h-3zM386 181h3v8h-3zM386 485h3v2h-3zM386 531h3v2h-3zM389 85h3v2h-3zM389 89h3v2h-3zM389 225h3v2h-3zM389 229h3v2h-3zM389 293h3v4h-3zM389 331h3v2h-3zM389 401h3v2h-3zM389 489h3v2h-3zM392 93h3v2h-3zM392 133h3v6h-3zM392 155h3v2h-3zM392 159h3v6h-3zM392 169h3v2h-3zM392 333h3v4h-3zM392 339h3v2h-3zM392 343h3v2h-3zM392 363h3v4h-3zM395 59h3v2h-3zM395 319h3v2h-3zM395 323h3v2h-3zM395 401h3v2h-3zM398 167h3v2h-3zM398 265h3v2h-3zM398 403h3v4h-3zM398 421h3v2h-3zM401 415h3v2h-3zM401 447h3v2h-3zM404 267h3v4h-3zM404 355h3v2h-3zM404 383h3v2h-3zM404 483h3v2h-3zM407 249h3v2h-3zM407 307h3v2h-3zM407 361h3v2h-3zM407 395h3v2h-3zM407 441h3v4h-3zM407 447h3v2h-3zM410 165h3v2h-3zM410 367h3v6h-3zM410 393h3v6h-3zM413 93h3v4h-3zM413 111h3v4h-3zM413 159h3v2h-3zM413 167h3v2h-3zM413 177h3v2h-3zM413 189h3v2h-3zM413 259h3v2h-3zM413 263h3v2h-3zM413 327h3v6h-3zM413 341h3v4h-3zM413 363h3v2h-3zM413 455h3v2h-3zM413 511h3v2h-3zM413 527h3v2h-3zM416 131h3v2h-3zM416 177h3v4h-3zM416 185h3v8h-3zM416 247h3v2h-3zM416 271h3v4h-3zM416 299h3v2h-3zM416 347h3v2h-3zM416 427h3v4h-3zM416 457h3v2h-3zM416 511h3v2h-3zM416 527h3v2h-3zM419 163h3v2h-3zM419 271h3v2h-3zM419 321h3v2h-3zM419 327h3v4h-3zM419 397h3v2h-3zM419 441h3v2h-3zM419 521h3v2h-3zM422 111h3v4h-3zM422 221h3v2h-3zM422 519h3v2h-3zM422 527h3v2h-3zM422 533h3v4h-3zM425 195h3v2h-3zM425 221h3v2h-3zM425 277h3v2h-3zM425 353h3v2h-3zM425 369h3v2h-3zM425 381h3v2h-3zM425 419h3v6h-3zM425 467h3v2h-3zM428 321h3v8h-3zM428 363h3v2h-3zM428 427h3v2h-3zM431 125h3v2h-3zM431 393h3v8h-3zM431 419h3v6h-3zM431 453h3v2h-3zM434 79h3v2h-3zM434 143h3v4h-3zM434 197h3v2h-3zM434 205h3v2h-3zM434 215h3v6h-3zM434 331h3v2h-3zM434 449h3v2h-3zM434 453h3v2h-3zM437 381h3v2h-3zM440 173h3v4h-3zM440 185h3v2h-3zM440 211h3v4h-3zM440 219h3v2h-3zM440 247h3v2h-3zM440 331h3v2h-3zM440 411h3v4h-3zM440 437h3v2h-3zM443 329h3v2h-3zM443 335h3v2h-3zM443 341h3v2h-3zM443 385h3v6h-3zM443 401h3v2h-3zM443 405h3v4h-3zM446 259h3v4h-3zM446 323h3v4h-3zM446 351h3v2h-3zM446 403h3v4h-3zM446 465h3v4h-3zM449 61h3v4h-3zM449 135h3v2h-3zM449 217h3v2h-3zM449 277h3v2h-3zM449 281h3v2h-3zM449 449h3v2h-3zM449 473h3v2h-3zM452 361h3v2h-3zM452 405h3v2h-3zM452 423h3v4h-3zM452 479h3v2h-3zM452 517h3v4h-3zM452 523h3v2h-3zM455 101h3v2h-3zM455 115h3v2h-3zM455 263h3v2h-3zM455 367h3v4h-3zM455 431h3v2h-3zM455 511h3v2h-3zM458 115h3v2h-3zM458 175h3v6h-3zM458 217h3v2h-3zM458 353h3v2h-3zM458 483h3v2h-3zM461 95h3v6h-3zM461 199h3v4h-3zM461 217h3v2h-3zM464 205h3v2h-3zM464 209h3v2h-3zM464 457h3v4h-3zM467 247h3v2h-3zM467 275h3v2h-3zM467 413h3v4h-3zM467 439h3v4h-3zM467 529h3v2h-3zM470 327h3v2h-3zM470 403h3v2h-3zM470 429h3v6h-3zM473 89h3v2h-3zM473 177h3v2h-3zM473 503h3v2h-3zM476 101h3v2h-3zM476 105h3v2h-3zM476 111h3v2h-3zM476 119h3v4h-3zM476 275h3v2h-3zM476 343h3v2h-3zM476 347h3v2h-3zM476 421h3v4h-3zM476 503h3v2h-3zM479 87h3v4h-3zM479 193h3v2h-3zM479 197h3v2h-3zM479 369h3v4h-3zM479 375h3v2h-3zM479 379h3v2h-3zM479 503h3v2h-3zM482 69h3v2h-3zM482 87h3v2h-3zM482 205h3v2h-3zM482 209h3v2h-3zM482 285h3v4h-3zM482 355h3v2h-3zM482 503h3v2h-3zM485 121h3v4h-3zM485 469h3v2h-3zM485 483h3v4h-3zM491 179h3v8h-3zM491 483h3v2h-3zM491 503h3v2h-3zM491 513h3v6h-3zM494 177h3v2h-3zM494 181h3v2h-3zM494 201h3v2h-3zM494 205h3v2h-3zM494 217h3v2h-3zM494 247h3v6h-3zM494 257h3v2h-3zM494 341h3v2h-3zM494 413h3v4h-3zM494 443h3v2h-3zM494 451h3v2h-3zM497 123h3v2h-3zM497 181h3v2h-3zM497 201h3v2h-3zM497 453h3v2h-3zM497 481h3v4h-3zM497 503h3v2h-3zM500 345h3v2h-3zM500 361h3v4h-3zM500 479h3v2h-3zM500 503h3v2h-3zM503 161h3v2h-3zM503 261h3v6h-3zM503 401h3v2h-3zM503 417h3v6h-3zM503 433h3v6h-3zM503 471h3v6h-3zM503 503h3v2h-3zM506 193h3v2h-3zM506 203h3v4h-3zM506 347h3v2h-3zM506 481h3v2h-3zM506 503h3v2h-3zM509 81h3v2h-3zM509 117h3v2h-3zM509 121h3v4h-3zM509 143h3v2h-3zM509 175h3v2h-3zM509 195h3v2h-3zM509 199h3v4h-3zM509 209h3v2h-3zM509 217h3v2h-3zM509 285h3v2h-3zM509 535h3v2h-3zM512 147h3v2h-3zM512 199h3v2h-3zM512 309h3v6h-3zM512 349h3v6h-3zM515 249h3v2h-3zM515 419h3v10h-3zM515 431h3v4h-3zM515 503h3v2h-3zM518 217h3v2h-3zM518 525h3v2h-3zM521 79h3v2h-3zM521 111h3v4h-3zM521 163h3v2h-3zM521 259h3v4h-3zM521 307h3v4h-3zM521 339h3v2h-3zM521 477h3v2h-3zM521 483h3v4h-3zM524 87h3v2h-3zM524 137h3v4h-3zM524 411h3v2h-3zM527 107h3v8h-3zM527 145h3v8h-3zM527 431h3v4h-3zM527 469h3v8h-3zM527 503h3v2h-3zM530 209h3v4h-3zM530 475h3v2h-3zM530 529h3v2h-3zM533 239h3v4h-3zM533 293h3v2h-3zM533 339h3v2h-3zM536 269h3v2h-3zM539 117h3v2h-3zM539 121h3v4h-3zM539 389h3v4h-3zM539 427h3v2h-3zM539 533h3v4h-3zM542 89h3v4h-3zM542 103h3v6h-3zM542 419h3v2h-3zM542 485h3v2h-3zM542 503h3v2h-3zM545 65h3v2h-3zM545 245h3v4h-3zM545 359h3v2h-3zM545 379h3v2h-3zM545 459h3v2h-3zM545 463h3v4h-3zM548 219h3v2h-3zM551 281h3v2h-3zM551 445h3v2h-3zM551 487h3v2h-3zM554 269h3v2h-3zM554 355h3v2h-3zM557 171h3v4h-3zM557 427h3v2h-3zM560 105h3v4h-3zM560 213h3v2h-3zM560 255h3v4h-3zM560 287h3v2h-3zM560 477h3v2h-3zM560 515h3v2h-3zM560 521h3v2h-3zM563 425h3v2h-3zM563 473h3v4h-3zM563 535h3v2h-3zM566 119h3v4h-3zM566 127h3v2h-3zM566 209h3v2h-3zM566 295h3v2h-3zM566 361h3v2h-3zM566 427h3v2h-3zM566 529h3v2h-3zM569 177h3v4h-3zM572 301h3v2h-3zM572 355h3v2h-3zM572 393h3v2h-3zM572 483h3v2h-3zM572 533h3v4h-3zM575 109h3v2h-3zM578 97h3v4h-3zM578 243h3v8h-3zM578 423h3v2h-3zM578 449h3v2h-3zM578 455h3v2h-3zM581 463h3v2h-3zM584 147h3v2h-3zM587 91h3v4h-3zM587 337h3v2h-3zM587 341h3v4h-3zM587 511h3v8h-3zM590 115h3v2h-3zM590 123h3v2h-3zM590 161h3v2h-3zM590 359h3v4h-3zM590 377h3v4h-3zM590 463h3v2h-3zM590 467h3v4h-3zM590 527h3v4h-3zM593 259h3v2h-3zM593 421h3v8h-3zM593 437h3v2h-3zM593 441h3v4h-3zM596 101h3v6h-3zM596 119h3v2h-3zM596 387h3v4h-3zM596 425h3v2h-3zM599 287h3v4h-3zM599 381h3v2h-3zM599 385h3v2h-3zM602 131h3v4h-3zM602 257h3v8h-3zM602 393h3v4h-3zM602 479h3v2h-3zM605 475h3v2h-3zM608 223h3v2h-3zM611 127h3v2h-3zM611 177h3v6h-3zM611 353h3v4h-3zM611 453h3v2h-3zM611 471h3v2h-3zM611 475h3v2h-3zM611 479h3v4h-3zM611 499h3v2h-3zM614 69h3v2h-3zM614 389h3v2h-3zM614 395h3v2h-3zM614 433h3v2h-3zM614 483h3v2h-3zM617 159h3v4h-3zM620 95h3v2h-3zM620 225h3v2h-3zM620 329h3v2h-3zM623 69h3v2h-3zM623 169h3v2h-3zM623 183h3v2h-3zM623 395h3v2h-3zM623 399h3v2h-3zM626 103h3v2h-3zM626 141h3v2h-3zM629 145h3v6h-3zM629 379h3v2h-3zM629 427h3v2h-3zM632 175h3v2h-3zM632 211h3v4h-3zM632 319h3v2h-3zM632 375h3v2h-3zM632 381h3v2h-3zM632 431h3v2h-3zM632 483h3v4h-3zM635 81h3v2h-3zM635 85h3v2h-3zM635 259h3v8h-3zM635 333h3v8h-3zM635 463h3v4h-3zM635 503h3v2h-3zM638 153h3v2h-3zM638 273h3v2h-3zM638 287h3v2h-3zM638 389h3v2h-3zM638 409h3v2h-3zM638 463h3v2h-3zM638 477h3v2h-3zM638 515h3v2h-3zM638 519h3v2h-3zM641 125h3v2h-3zM641 129h3v2h-3zM641 155h3v2h-3zM641 209h3v4h-3zM641 295h3v2h-3zM641 359h3v2h-3zM641 431h3v2h-3zM641 495h3v4h-3zM644 79h3v4h-3zM644 237h3v2h-3zM647 65h3v2h-3zM647 71h3v2h-3zM647 107h3v2h-3zM647 275h3v2h-3zM647 307h3v4h-3zM647 335h3v2h-3zM647 339h3v4h-3zM647 351h3v2h-3zM647 423h3v6h-3zM647 453h3v2h-3zM650 273h3v4h-3zM650 323h3v2h-3zM650 395h3v2h-3zM650 467h3v2h-3zM653 93h3v2h-3zM653 329h3v2h-3zM653 363h3v2h-3zM653 503h3v2h-3zM656 59h3v2h-3zM656 65h3v2h-3zM656 207h3v6h-3zM656 345h3v2h-3zM656 475h3v6h-3zM662 193h3v2h-3zM662 339h3v6h-3zM662 409h3v2h-3zM662 413h3v2h-3zM662 421h3v2h-3zM665 213h3v4h-3zM665 333h3v4h-3zM665 355h3v6h-3zM665 393h3v6h-3zM665 483h3v2h-3zM668 201h3v4h-3zM668 207h3v2h-3zM668 439h3v4h-3zM671 215h3v2h-3zM671 231h3v2h-3zM671 237h3v2h-3zM671 255h3v2h-3zM671 285h3v6h-3zM671 399h3v2h-3zM671 471h3v2h-3zM671 475h3v2h-3zM674 139h3v2h-3zM674 189h3v2h-3zM674 397h3v2h-3zM674 429h3v2h-3zM674 525h3v2h-3zM677 131h3v2h-3zM677 169h3v2h-3zM677 257h3v2h-3zM677 269h3v2h-3zM677 311h3v2h-3zM677 393h3v2h-3zM677 457h3v2h-3zM677 517h3v2h-3zM680 297h3v2h-3zM680 395h3v2h-3zM683 77h3v2h-3zM683 81h3v4h-3zM683 127h3v6h-3zM683 513h3v2h-3zM683 533h3v2h-3zM686 431h3v2h-3zM686 477h3v6h-3zM689 101h3v8h-3zM689 297h3v4h-3zM689 303h3v2h-3zM689 321h3v6h-3zM689 465h3v2h-3zM689 469h3v4h-3zM689 489h3v4h-3zM692 165h3v4h-3zM692 229h3v2h-3zM692 233h3v2h-3zM692 317h3v4h-3zM692 323h3v2h-3zM695 141h3v6h-3zM695 151h3v2h-3zM695 191h3v2h-3zM695 217h3v6h-3zM695 319h3v2h-3zM695 415h3v2h-3zM695 535h3v2h-3zM698 255h3v2h-3zM698 387h3v4h-3zM701 139h3v2h-3zM701 143h3v2h-3zM701 147h3v2h-3zM701 225h3v2h-3zM701 367h3v8h-3zM701 443h3v2h-3zM701 449h3v2h-3zM701 455h3v2h-3zM704 67h3v2h-3zM704 71h3v4h-3zM704 109h3v4h-3zM704 129h3v2h-3zM704 281h3v2h-3zM704 313h3v4h-3zM704 319h3v2h-3zM704 439h3v2h-3zM704 461h3v2h-3zM707 123h3v2h-3zM707 257h3v2h-3zM707 309h3v2h-3zM707 523h3v2h-3zM710 415h3v4h-3zM713 91h3v2h-3zM713 95h3v6h-3zM713 175h3v2h-3zM713 219h3v4h-3zM713 225h3v2h-3zM713 247h3v6h-3zM713 301h3v2h-3zM713 397h3v2h-3zM713 469h3v2h-3zM716 269h3v4h-3zM716 473h3v6h-3zM716 519h3v2h-3zM719 63h3v2h-3zM719 71h3v2h-3zM719 107h3v4h-3zM719 289h3v6h-3zM719 367h3v2h-3zM719 449h3v6h-3zM719 457h3v4h-3zM722 67h3v2h-3zM722 79h3v8h-3zM722 173h3v4h-3zM722 305h3v2h-3zM722 397h3v2h-3zM722 401h3v2h-3zM722 443h3v2h-3zM725 81h3v4h-3zM725 357h3v2h-3zM725 457h3v2h-3zM728 297h3v4h-3zM728 307h3v2h-3zM728 321h3v2h-3zM728 325h3v2h-3zM728 329h3v4h-3zM734 117h3v2h-3zM734 227h3v2h-3zM734 251h3v2h-3zM734 335h3v2h-3zM734 357h3v2h-3zM734 361h3v2h-3zM734 407h3v2h-3zM737 85h3v4h-3zM737 103h3v2h-3zM737 257h3v4h-3zM740 239h3v2h-3zM740 251h3v8h-3zM740 453h3v4h-3zM743 273h3v2h-3zM743 421h3v2h-3zM743 431h3v6h-3zM743 455h3v4h-3zM746 237h3v2h-3zM746 419h3v2h-3zM746 503h3v2h-3zM749 235h3v8h-3zM749 299h3v2h-3zM752 129h3v6h-3zM752 171h3v2h-3zM752 199h3v2h-3zM752 219h3v4h-3zM752 321h3v4h-3zM752 369h3v6h-3zM755 303h3v2h-3zM758 77h3v2h-3zM758 113h3v4h-3zM758 131h3v2h-3zM758 179h3v2h-3zM758 337h3v2h-3zM758 395h3v4h-3zM758 423h3v2h-3zM761 143h3v2h-3zM761 261h3v2h-3zM761 353h3v2h-3zM761 357h3v2h-3zM764 183h3v2h-3zM767 127h3v2h-3zM767 205h3v6h-3zM767 353h3v2h-3zM770 173h3v8h-3zM770 271h3v2h-3zM773 227h3v4h-3zM773 385h3v2h-3zM773 389h3v2h-3zM773 393h3v2h-3zM776 199h3v8h-3zM776 245h3v4h-3zM776 455h3v2h-3zM779 221h3v2h-3zM782 223h3v2h-3zM782 289h3v2h-3zM782 385h3v2h-3zM785 291h2v2h-2zM785 313h2v6h-2zM785 495h2v4h-2z" fill="#120000"/>
<path d="M68 479h3v2h-3zM68 485h3v2h-3zM68 499h3v2h-3zM71 499h3v4h-3zM74 489h3v2h-3zM77 481h3v4h-3zM77 491h3v4h-3zM80 495h3v2h-3zM83 479h3v2h-3zM83 495h3v2h-3zM83 503h3v2h-3zM86 479h3v2h-3zM86 485h3v2h-3zM89 487h3v2h-3zM92 485h3v2h-3zM92 495h3v2h-3zM95 479h3v2h-3zM95 487h3v2h-3zM95 495h3v2h-3zM98 481h3v2h-3zM98 493h3v2h-3zM101 487h3v2h-3zM107 473h3v2h-3zM107 481h3v4h-3zM113 491h3v2h-3zM113 501h3v2h-3zM116 475h3v2h-3zM116 487h3v2h-3zM116 493h3v2h-3zM125 503h3v2h-3zM128 493h3v2h-3zM131 471h3v2h-3zM134 477h3v2h-3zM137 469h3v2h-3zM137 499h3v4h-3zM143 465h3v2h-3zM143 473h3v2h-3zM146 383h3v2h-3zM146 397h3v2h-3zM146 471h3v2h-3zM149 411h3v2h-3zM149 471h3v4h-3zM152 413h3v4h-3zM152 469h3v4h-3zM155 403h3v2h-3zM155 415h3v2h-3zM155 481h3v2h-3zM158 411h3v4h-3zM161 405h3v8h-3zM161 415h3v2h-3zM161 481h3v2h-3zM164 473h3v2h-3zM167 477h3v4h-3zM167 501h3v2h-3zM167 505h3v2h-3zM170 467h3v4h-3zM170 485h3v2h-3zM176 473h3v2h-3zM179 417h3v2h-3zM179 479h3v2h-3zM182 413h3v2h-3zM197 233h3v2h-3zM200 229h3v2h-3zM206 223h3v2h-3zM212 209h3v2h-3zM227 177h3v2h-3zM230 175h3v2h-3zM251 137h3v2h-3zM257 123h3v2h-3zM260 339h3v2h-3zM263 111h3v4h-3zM263 343h3v2h-3zM266 317h3v2h-3zM269 491h3v2h-3zM275 97h3v2h-3zM275 329h3v2h-3zM278 85h3v2h-3zM281 85h3v2h-3zM284 85h3v2h-3zM284 495h3v2h-3zM284 503h3v2h-3zM287 77h3v2h-3zM287 81h3v2h-3zM290 69h3v2h-3zM293 313h3v2h-3zM314 493h3v2h-3zM320 287h3v2h-3zM323 291h3v2h-3zM329 497h3v2h-3zM335 285h3v2h-3zM404 243h3v2h-3zM434 235h3v2h-3zM476 493h3v2h-3zM485 493h3v2h-3zM488 495h3v2h-3zM512 493h3v2h-3zM515 493h3v4h-3zM524 495h3v2h-3zM536 235h3v2h-3zM551 223h3v2h-3zM551 233h3v2h-3zM569 497h3v2h-3zM584 213h3v2h-3zM584 493h3v2h-3zM602 205h3v2h-3zM608 203h3v2h-3zM614 201h3v2h-3z" fill="#139000"/>
<path d="M68 491h3v4h-3zM77 489h3v2h-3zM80 491h3v2h-3zM80 501h3v2h-3zM86 487h3v2h-3zM86 505h3v2h-3zM92 481h3v2h-3zM92 497h3v2h-3zM98 475h3v6h-3zM101 479h3v2h-3zM101 485h3v2h-3zM101 495h3v2h-3zM104 489h3v2h-3zM110 485h3v2h-3zM113 471h3v2h-3zM113 477h3v2h-3zM113 483h3v2h-3zM113 493h3v2h-3zM113 499h3v2h-3zM119 469h3v2h-3zM122 467h3v2h-3zM122 477h3v2h-3zM128 475h3v2h-3zM128 479h3v2h-3zM128 489h3v2h-3zM128 497h3v2h-3zM131 475h3v2h-3zM134 479h3v2h-3zM137 491h3v2h-3zM140 475h3v2h-3zM143 463h3v2h-3zM143 471h3v2h-3zM149 413h3v2h-3zM149 469h3v2h-3zM152 481h3v2h-3zM155 405h3v2h-3zM155 469h3v2h-3zM155 505h3v2h-3zM158 401h3v8h-3zM158 415h3v6h-3zM158 473h3v2h-3zM161 417h3v2h-3zM161 473h3v2h-3zM161 479h3v2h-3zM167 403h3v2h-3zM167 467h3v2h-3zM173 475h3v2h-3zM173 493h3v2h-3zM176 471h3v2h-3zM176 475h3v2h-3zM200 225h3v2h-3zM206 217h3v2h-3zM209 217h3v2h-3zM212 205h3v2h-3zM215 207h3v2h-3zM218 197h3v2h-3zM221 379h3v2h-3zM233 165h3v2h-3zM239 157h3v2h-3zM239 361h3v2h-3zM242 155h3v2h-3zM245 147h3v2h-3zM245 351h3v2h-3zM251 129h3v2h-3zM251 345h3v2h-3zM254 125h3v4h-3zM257 491h3v2h-3zM260 125h3v2h-3zM260 345h3v2h-3zM260 489h3v2h-3zM263 117h3v2h-3zM266 485h3v4h-3zM266 495h3v2h-3zM266 503h3v2h-3zM269 489h3v2h-3zM269 499h3v2h-3zM278 89h3v2h-3zM281 81h3v2h-3zM281 501h3v4h-3zM284 489h3v2h-3zM284 493h3v2h-3zM296 59h3v2h-3zM467 493h3v2h-3zM473 493h3v2h-3zM479 495h3v2h-3zM485 497h3v2h-3zM488 493h3v2h-3zM527 229h3v2h-3zM566 219h3v2h-3zM569 227h3v2h-3zM635 187h3v2h-3zM638 183h3v2h-3zM650 151h3v2h-3z" fill="#149c00"/>
<path d="M71 493h3v2h-3zM80 483h3v2h-3zM86 483h3v2h-3zM98 495h3v2h-3zM101 499h3v2h-3zM113 495h3v2h-3zM116 497h3v2h-3zM116 503h3v2h-3zM122 493h3v4h-3zM128 485h3v2h-3zM128 495h3v2h-3zM137 467h3v2h-3zM137 479h3v2h-3zM137 485h3v2h-3zM137 497h3v2h-3zM146 467h3v2h-3zM149 477h3v2h-3zM155 499h3v4h-3zM158 409h3v2h-3zM161 477h3v2h-3zM161 483h3v2h-3zM164 469h3v2h-3zM164 483h3v2h-3zM167 411h3v6h-3zM167 469h3v2h-3zM167 499h3v2h-3zM170 481h3v2h-3zM173 405h3v4h-3zM173 415h3v2h-3zM176 409h3v4h-3zM179 409h3v8h-3zM197 239h3v2h-3zM203 227h3v4h-3zM206 221h3v2h-3zM212 385h3v2h-3zM215 377h3v2h-3zM215 383h3v2h-3zM218 375h3v2h-3zM218 381h3v2h-3zM221 193h3v2h-3zM221 373h3v2h-3zM227 367h3v2h-3zM233 169h3v4h-3zM236 169h3v2h-3zM242 157h3v2h-3zM245 139h3v2h-3zM245 149h3v2h-3zM248 135h3v2h-3zM254 133h3v2h-3zM254 343h3v2h-3zM260 493h3v2h-3zM260 497h3v2h-3zM263 109h3v2h-3zM263 495h3v2h-3zM266 501h3v2h-3zM278 323h3v4h-3zM278 331h3v2h-3zM281 89h3v2h-3zM284 487h3v2h-3zM284 501h3v2h-3zM287 79h3v2h-3zM287 483h3v2h-3zM305 307h3v2h-3zM305 501h3v2h-3zM314 297h3v2h-3zM365 265h3v2h-3zM368 265h3v2h-3zM416 243h3v2h-3zM422 237h3v2h-3zM428 241h3v2h-3zM512 239h3v2h-3zM527 235h3v2h-3zM530 235h3v2h-3zM533 235h3v2h-3zM596 213h3v2h-3zM608 209h3v2h-3z" fill="#16a800"/>
<path d="M80 479h3v2h-3zM80 499h3v2h-3zM83 485h3v2h-3zM83 489h3v2h-3zM95 493h3v2h-3zM98 487h3v2h-3zM101 491h3v2h-3zM110 489h3v2h-3zM110 497h3v2h-3zM110 501h3v2h-3zM113 481h3v2h-3zM113 497h3v2h-3zM116 473h3v2h-3zM116 489h3v2h-3zM122 469h3v2h-3zM125 473h3v2h-3zM128 477h3v2h-3zM128 481h3v2h-3zM128 487h3v2h-3zM131 479h3v2h-3zM137 473h3v2h-3zM140 479h3v2h-3zM140 491h3v2h-3zM143 467h3v4h-3zM143 487h3v2h-3zM155 463h3v2h-3zM155 471h3v2h-3zM155 489h3v2h-3zM158 477h3v4h-3zM158 491h3v2h-3zM158 499h3v2h-3zM161 475h3v2h-3zM161 489h3v2h-3zM161 499h3v2h-3zM164 467h3v2h-3zM164 489h3v2h-3zM167 409h3v2h-3zM167 481h3v2h-3zM170 415h3v2h-3zM170 503h3v2h-3zM173 411h3v4h-3zM173 483h3v2h-3zM176 415h3v2h-3zM203 223h3v2h-3zM209 209h3v2h-3zM209 383h3v2h-3zM212 211h3v2h-3zM230 365h3v2h-3zM236 167h3v2h-3zM239 151h3v2h-3zM242 145h3v2h-3zM242 149h3v4h-3zM248 137h3v2h-3zM257 125h3v2h-3zM257 341h3v2h-3zM260 115h3v2h-3zM260 485h3v2h-3zM260 495h3v2h-3zM266 109h3v2h-3zM269 493h3v2h-3zM269 497h3v2h-3zM269 503h3v2h-3zM275 95h3v2h-3zM278 87h3v2h-3zM278 497h3v2h-3zM281 495h3v2h-3zM287 75h3v2h-3zM293 63h3v2h-3zM326 289h3v2h-3zM626 193h3v2h-3zM626 197h3v2h-3zM635 183h3v2h-3zM650 155h3v2h-3zM650 159h3v2h-3zM656 131h3v2h-3zM662 127h3v2h-3z" fill="#17b400"/>
<path d="M68 63h3v2h-3zM68 155h3v4h-3zM68 181h3v2h-3zM68 325h3v2h-3zM68 347h3v4h-3zM68 455h3v6h-3zM71 177h3v2h-3zM71 181h3v2h-3zM71 199h3v6h-3zM71 381h3v2h-3zM71 465h3v2h-3zM74 297h3v2h-3zM74 533h3v2h-3zM77 83h3v4h-3zM77 201h3v2h-3zM77 225h3v2h-3zM77 517h3v6h-3zM80 171h3v2h-3zM80 327h3v2h-3zM83 65h3v2h-3zM83 419h3v2h-3zM86 141h3v2h-3zM86 147h3v2h-3zM86 435h3v2h-3zM89 141h3v2h-3zM89 307h3v4h-3zM89 331h3v4h-3zM89 337h3v2h-3zM89 369h3v2h-3zM92 309h3v2h-3zM95 67h3v2h-3zM95 101h3v2h-3zM95 147h3v2h-3zM95 367h3v2h-3zM95 385h3v2h-3zM98 337h3v4h-3zM98 395h3v2h-3zM98 411h3v2h-3zM98 515h3v2h-3zM101 113h3v4h-3zM101 317h3v2h-3zM104 257h3v4h-3zM104 399h3v2h-3zM107 121h3v2h-3zM107 287h3v4h-3zM107 295h3v4h-3zM107 341h3v4h-3zM107 347h3v2h-3zM107 397h3v2h-3zM107 443h3v2h-3zM110 133h3v2h-3zM110 137h3v2h-3zM110 155h3v2h-3zM110 229h3v2h-3zM110 363h3v2h-3zM110 515h3v4h-3zM113 65h3v2h-3zM113 89h3v2h-3zM113 143h3v4h-3zM113 337h3v6h-3zM113 375h3v4h-3zM113 385h3v2h-3zM113 393h3v6h-3zM113 431h3v4h-3zM113 517h3v4h-3zM116 75h3v2h-3zM116 193h3v2h-3zM119 125h3v2h-3zM119 201h3v4h-3zM119 355h3v4h-3zM119 403h3v2h-3zM122 79h3v2h-3zM122 83h3v2h-3zM122 337h3v2h-3zM122 433h3v2h-3zM122 443h3v2h-3zM122 447h3v2h-3zM128 59h3v4h-3zM128 265h3v2h-3zM128 271h3v2h-3zM128 409h3v4h-3zM128 433h3v2h-3zM131 185h3v6h-3zM131 219h3v2h-3zM131 225h3v2h-3zM131 409h3v2h-3zM134 83h3v2h-3zM134 89h3v2h-3zM134 217h3v2h-3zM134 427h3v2h-3zM134 449h3v2h-3zM134 529h3v2h-3zM137 135h3v2h-3zM137 139h3v2h-3zM137 531h3v4h-3zM140 169h3v2h-3zM140 197h3v2h-3zM140 295h3v4h-3zM140 315h3v2h-3zM140 409h3v4h-3zM140 441h3v2h-3zM140 445h3v6h-3zM143 183h3v2h-3zM143 237h3v2h-3zM143 403h3v2h-3zM146 229h3v4h-3zM149 191h3v2h-3zM149 227h3v2h-3zM149 233h3v2h-3zM149 347h3v2h-3zM149 509h3v2h-3zM152 133h3v2h-3zM152 349h3v4h-3zM158 95h3v2h-3zM158 261h3v4h-3zM161 307h3v2h-3zM161 353h3v2h-3zM161 379h3v6h-3zM164 275h3v2h-3zM164 279h3v2h-3zM164 393h3v2h-3zM167 273h3v2h-3zM170 183h3v4h-3zM170 255h3v6h-3zM170 269h3v2h-3zM173 273h3v2h-3zM176 117h3v4h-3zM176 139h3v2h-3zM176 267h3v2h-3zM182 77h3v2h-3zM182 109h3v4h-3zM182 261h3v2h-3zM185 77h3v2h-3zM185 151h3v2h-3zM185 203h3v2h-3zM185 207h3v2h-3zM185 257h3v2h-3zM185 365h3v6h-3zM185 387h3v4h-3zM188 237h3v2h-3zM188 241h3v2h-3zM188 255h3v2h-3zM191 115h3v4h-3zM191 163h3v4h-3zM191 425h3v2h-3zM191 461h3v2h-3zM191 517h3v4h-3zM194 125h3v2h-3zM194 155h3v2h-3zM194 351h3v2h-3zM194 455h3v2h-3zM197 161h3v4h-3zM197 245h3v2h-3zM197 465h3v2h-3zM197 517h3v2h-3zM200 141h3v4h-3zM200 147h3v2h-3zM200 153h3v2h-3zM200 337h3v2h-3zM200 521h3v2h-3zM203 65h3v2h-3zM203 71h3v2h-3zM203 237h3v2h-3zM203 245h3v6h-3zM203 459h3v2h-3zM206 79h3v2h-3zM206 121h3v2h-3zM206 459h3v2h-3zM209 171h3v4h-3zM209 203h3v2h-3zM212 93h3v6h-3zM212 177h3v2h-3zM212 217h3v2h-3zM212 223h3v2h-3zM212 305h3v2h-3zM212 327h3v2h-3zM212 397h3v2h-3zM212 463h3v2h-3zM215 211h3v2h-3zM215 243h3v2h-3zM215 401h3v2h-3zM215 455h3v2h-3zM218 69h3v2h-3zM218 203h3v2h-3zM218 353h3v2h-3zM218 429h3v4h-3zM221 93h3v2h-3zM221 195h3v2h-3zM221 301h3v4h-3zM221 339h3v2h-3zM221 429h3v2h-3zM224 159h3v4h-3zM224 303h3v2h-3zM224 467h3v2h-3zM227 61h3v2h-3zM227 201h3v2h-3zM227 407h3v6h-3zM227 431h3v2h-3zM227 471h3v2h-3zM227 519h3v2h-3zM230 197h3v8h-3zM230 225h3v2h-3zM230 305h3v2h-3zM230 309h3v4h-3zM230 391h3v6h-3zM230 519h3v4h-3zM233 207h3v2h-3zM233 221h3v2h-3zM233 241h3v2h-3zM233 253h3v2h-3zM233 275h3v2h-3zM233 325h3v2h-3zM233 405h3v2h-3zM233 435h3v2h-3zM233 453h3v2h-3zM236 159h3v2h-3zM236 231h3v2h-3zM236 327h3v2h-3zM239 163h3v2h-3zM239 173h3v2h-3zM239 463h3v2h-3zM242 59h3v2h-3zM242 163h3v2h-3zM242 189h3v2h-3zM242 385h3v4h-3zM242 411h3v2h-3zM242 459h3v2h-3zM245 89h3v4h-3zM245 113h3v2h-3zM245 321h3v2h-3zM245 461h3v2h-3zM248 113h3v2h-3zM248 165h3v2h-3zM248 187h3v2h-3zM248 191h3v4h-3zM248 197h3v2h-3zM248 201h3v2h-3zM248 207h3v2h-3zM248 275h3v2h-3zM248 325h3v2h-3zM248 521h3v2h-3zM251 101h3v2h-3zM251 197h3v4h-3zM254 169h3v2h-3zM254 319h3v2h-3zM254 369h3v4h-3zM254 465h3v2h-3zM257 157h3v2h-3zM257 161h3v2h-3zM257 287h3v2h-3zM257 419h3v2h-3zM257 441h3v2h-3zM260 431h3v8h-3zM260 467h3v2h-3zM263 461h3v2h-3zM263 467h3v2h-3zM266 75h3v2h-3zM266 79h3v2h-3zM266 129h3v2h-3zM266 265h3v6h-3zM266 293h3v2h-3zM266 297h3v2h-3zM266 347h3v2h-3zM269 369h3v2h-3zM272 189h3v2h-3zM272 213h3v2h-3zM272 289h3v2h-3zM272 417h3v2h-3zM272 473h3v2h-3zM275 365h3v2h-3zM278 75h3v2h-3zM278 231h3v4h-3zM278 297h3v2h-3zM278 369h3v4h-3zM278 513h3v2h-3zM281 113h3v4h-3zM281 385h3v2h-3zM287 95h3v2h-3zM287 123h3v4h-3zM290 145h3v6h-3zM290 173h3v2h-3zM293 59h3v4h-3zM293 257h3v2h-3zM293 261h3v2h-3zM293 379h3v2h-3zM293 383h3v2h-3zM293 423h3v2h-3zM296 199h3v2h-3zM296 205h3v2h-3zM296 215h3v4h-3zM296 347h3v2h-3zM296 351h3v4h-3zM296 381h3v4h-3zM296 393h3v6h-3zM296 415h3v2h-3zM296 433h3v2h-3zM299 81h3v4h-3zM299 205h3v4h-3zM299 429h3v4h-3zM302 115h3v2h-3zM302 333h3v2h-3zM302 339h3v2h-3zM302 523h3v2h-3zM302 533h3v2h-3zM305 149h3v2h-3zM305 449h3v2h-3zM305 453h3v2h-3zM308 239h3v2h-3zM308 247h3v2h-3zM308 311h3v2h-3zM308 335h3v2h-3zM308 343h3v2h-3zM308 385h3v2h-3zM308 409h3v2h-3zM308 459h3v4h-3zM311 417h3v6h-3zM314 107h3v2h-3zM314 111h3v2h-3zM314 531h3v4h-3zM317 75h3v4h-3zM317 153h3v8h-3zM320 101h3v2h-3zM323 301h3v2h-3zM323 315h3v2h-3zM323 387h3v2h-3zM323 479h3v2h-3zM323 485h3v2h-3zM323 519h3v6h-3zM326 379h3v2h-3zM326 477h3v2h-3zM329 471h3v4h-3zM329 481h3v2h-3zM329 513h3v2h-3zM332 123h3v2h-3zM332 457h3v2h-3zM335 339h3v2h-3zM338 119h3v4h-3zM338 219h3v2h-3zM338 249h3v2h-3zM338 253h3v2h-3zM338 407h3v6h-3zM338 481h3v2h-3zM341 99h3v2h-3zM341 109h3v6h-3zM341 125h3v2h-3zM341 201h3v2h-3zM341 293h3v8h-3zM341 341h3v2h-3zM341 525h3v2h-3zM344 91h3v2h-3zM344 375h3v6h-3zM344 437h3v2h-3zM344 455h3v2h-3zM347 83h3v2h-3zM347 87h3v4h-3zM347 139h3v2h-3zM347 143h3v2h-3zM347 183h3v2h-3zM347 475h3v2h-3zM347 509h3v4h-3zM350 73h3v2h-3zM350 133h3v6h-3zM350 207h3v2h-3zM350 283h3v4h-3zM350 289h3v2h-3zM350 421h3v4h-3zM350 453h3v8h-3zM356 107h3v4h-3zM356 143h3v2h-3zM356 147h3v2h-3zM356 151h3v2h-3zM356 279h3v2h-3zM356 285h3v2h-3zM356 403h3v6h-3zM356 531h3v2h-3zM359 117h3v2h-3zM359 187h3v2h-3zM359 443h3v2h-3zM362 361h3v4h-3zM362 433h3v4h-3zM362 481h3v2h-3zM365 147h3v2h-3zM365 201h3v2h-3zM368 153h3v2h-3zM368 157h3v2h-3zM368 287h3v4h-3zM371 235h3v2h-3zM371 239h3v4h-3zM374 87h3v2h-3zM374 115h3v2h-3zM374 171h3v2h-3zM374 325h3v4h-3zM377 81h3v2h-3zM377 183h3v2h-3zM377 187h3v2h-3zM377 271h3v4h-3zM377 407h3v2h-3zM377 437h3v4h-3zM380 191h3v4h-3zM383 83h3v4h-3zM383 99h3v6h-3zM386 79h3v4h-3zM389 397h3v4h-3zM389 403h3v2h-3zM392 219h3v2h-3zM392 433h3v8h-3zM392 483h3v2h-3zM395 61h3v2h-3zM395 73h3v2h-3zM398 169h3v4h-3zM398 253h3v2h-3zM398 257h3v4h-3zM398 267h3v2h-3zM398 423h3v2h-3zM401 295h3v6h-3zM401 423h3v4h-3zM401 429h3v2h-3zM401 457h3v6h-3zM404 353h3v2h-3zM407 71h3v2h-3zM407 227h3v2h-3zM407 233h3v2h-3zM407 509h3v2h-3zM407 513h3v4h-3zM407 529h3v6h-3zM410 163h3v2h-3zM410 167h3v4h-3zM410 227h3v4h-3zM410 293h3v4h-3zM410 365h3v2h-3zM410 529h3v2h-3zM413 203h3v2h-3zM413 223h3v2h-3zM413 333h3v4h-3zM413 339h3v2h-3zM413 457h3v6h-3zM416 127h3v4h-3zM416 195h3v2h-3zM416 201h3v2h-3zM416 227h3v2h-3zM416 307h3v2h-3zM416 423h3v2h-3zM416 431h3v2h-3zM416 455h3v2h-3zM416 507h3v4h-3zM416 513h3v2h-3zM419 167h3v8h-3zM419 325h3v2h-3zM422 115h3v4h-3zM422 449h3v6h-3zM422 531h3v2h-3zM425 123h3v2h-3zM425 145h3v2h-3zM425 279h3v2h-3zM425 327h3v2h-3zM425 331h3v2h-3zM425 351h3v2h-3zM425 503h3v2h-3zM425 529h3v4h-3zM428 145h3v4h-3zM428 429h3v6h-3zM428 505h3v2h-3zM431 223h3v2h-3zM434 75h3v4h-3zM434 81h3v2h-3zM434 199h3v6h-3zM434 439h3v4h-3zM434 503h3v2h-3zM434 527h3v2h-3zM434 531h3v2h-3zM437 77h3v2h-3zM437 503h3v2h-3zM440 189h3v2h-3zM440 223h3v2h-3zM440 249h3v4h-3zM440 267h3v2h-3zM440 339h3v4h-3zM440 503h3v2h-3zM443 327h3v2h-3zM443 331h3v2h-3zM443 337h3v4h-3zM443 471h3v2h-3zM443 477h3v2h-3zM446 221h3v2h-3zM446 401h3v2h-3zM446 469h3v2h-3zM446 503h3v2h-3zM449 83h3v4h-3zM449 91h3v2h-3zM449 463h3v2h-3zM449 475h3v2h-3zM452 247h3v2h-3zM452 347h3v2h-3zM452 459h3v2h-3zM452 503h3v2h-3zM452 521h3v2h-3zM455 217h3v2h-3zM458 173h3v2h-3zM458 485h3v2h-3zM458 503h3v2h-3zM461 195h3v4h-3zM461 475h3v2h-3zM461 503h3v2h-3zM464 503h3v2h-3zM467 207h3v6h-3zM467 429h3v2h-3zM467 433h3v4h-3zM467 503h3v2h-3zM470 485h3v2h-3zM470 503h3v2h-3zM473 91h3v2h-3zM473 219h3v2h-3zM473 369h3v2h-3zM473 479h3v4h-3zM476 103h3v2h-3zM476 143h3v2h-3zM476 273h3v2h-3zM476 277h3v2h-3zM476 303h3v2h-3zM476 461h3v2h-3zM476 481h3v2h-3zM479 101h3v2h-3zM479 105h3v2h-3zM479 165h3v2h-3zM479 169h3v2h-3zM479 207h3v4h-3zM479 279h3v2h-3zM479 373h3v2h-3zM482 283h3v2h-3zM482 407h3v2h-3zM485 119h3v2h-3zM485 125h3v2h-3zM485 467h3v2h-3zM485 471h3v2h-3zM485 503h3v2h-3zM488 415h3v6h-3zM488 503h3v2h-3zM488 513h3v2h-3zM491 481h3v2h-3zM494 175h3v2h-3zM494 179h3v2h-3zM494 203h3v2h-3zM494 253h3v4h-3zM494 445h3v6h-3zM494 453h3v4h-3zM494 479h3v2h-3zM494 523h3v4h-3zM497 115h3v8h-3zM497 125h3v4h-3zM497 163h3v2h-3zM497 167h3v2h-3zM497 199h3v2h-3zM500 221h3v2h-3zM500 245h3v2h-3zM500 417h3v2h-3zM500 477h3v2h-3zM503 147h3v2h-3zM503 159h3v2h-3zM503 321h3v2h-3zM503 483h3v2h-3zM506 221h3v2h-3zM506 349h3v2h-3zM506 381h3v4h-3zM506 483h3v2h-3zM509 223h3v2h-3zM509 307h3v2h-3zM509 323h3v4h-3zM509 371h3v4h-3zM512 145h3v2h-3zM512 149h3v4h-3zM512 223h3v2h-3zM512 245h3v8h-3zM512 369h3v2h-3zM515 223h3v2h-3zM515 247h3v2h-3zM515 263h3v4h-3zM515 329h3v2h-3zM515 469h3v4h-3zM518 209h3v2h-3zM518 213h3v2h-3zM518 219h3v2h-3zM518 449h3v2h-3zM521 165h3v2h-3zM521 377h3v2h-3zM521 479h3v2h-3zM524 435h3v2h-3zM527 193h3v2h-3zM527 223h3v2h-3zM530 193h3v8h-3zM530 221h3v2h-3zM530 319h3v2h-3zM533 287h3v6h-3zM536 77h3v2h-3zM539 85h3v2h-3zM539 425h3v2h-3zM539 531h3v2h-3zM542 487h3v2h-3zM545 63h3v2h-3zM545 243h3v2h-3zM545 249h3v2h-3zM545 301h3v2h-3zM545 461h3v2h-3zM551 219h3v2h-3zM551 353h3v2h-3zM551 461h3v2h-3zM551 489h3v2h-3zM554 111h3v2h-3zM554 115h3v2h-3zM557 237h3v2h-3zM557 477h3v2h-3zM560 59h3v2h-3zM560 403h3v2h-3zM560 481h3v2h-3zM566 213h3v2h-3zM566 523h3v6h-3zM569 173h3v4h-3zM569 485h3v2h-3zM569 489h3v2h-3zM572 231h3v2h-3zM572 357h3v2h-3zM572 485h3v2h-3zM572 505h3v2h-3zM572 509h3v2h-3zM575 113h3v2h-3zM575 299h3v2h-3zM575 441h3v2h-3zM578 529h3v2h-3zM578 535h3v2h-3zM581 187h3v2h-3zM581 227h3v2h-3zM581 433h3v2h-3zM581 437h3v4h-3zM584 389h3v2h-3zM587 95h3v2h-3zM587 103h3v4h-3zM587 123h3v2h-3zM587 127h3v2h-3zM587 339h3v2h-3zM587 345h3v2h-3zM587 505h3v4h-3zM590 101h3v2h-3zM590 113h3v2h-3zM590 327h3v2h-3zM590 373h3v2h-3zM590 465h3v2h-3zM593 227h3v2h-3zM593 257h3v2h-3zM593 439h3v2h-3zM593 457h3v4h-3zM593 463h3v2h-3zM599 461h3v6h-3zM602 481h3v4h-3zM602 531h3v4h-3zM608 179h3v6h-3zM608 531h3v2h-3zM611 125h3v2h-3zM611 137h3v4h-3zM611 357h3v8h-3zM611 483h3v16h-3zM611 501h3v2h-3zM614 123h3v4h-3zM614 149h3v8h-3zM614 167h3v4h-3zM614 391h3v4h-3zM614 489h3v2h-3zM617 257h3v2h-3zM620 223h3v2h-3zM620 227h3v4h-3zM620 349h3v2h-3zM620 427h3v2h-3zM620 437h3v2h-3zM620 465h3v2h-3zM623 167h3v2h-3zM623 181h3v2h-3zM623 471h3v2h-3zM629 215h3v2h-3zM629 375h3v4h-3zM632 177h3v4h-3zM632 487h3v2h-3zM635 469h3v4h-3zM635 497h3v2h-3zM635 501h3v2h-3zM638 135h3v2h-3zM638 155h3v2h-3zM638 465h3v2h-3zM638 479h3v4h-3zM641 213h3v2h-3zM641 477h3v2h-3zM641 499h3v4h-3zM644 253h3v8h-3zM647 67h3v4h-3zM647 179h3v2h-3zM647 311h3v2h-3zM650 91h3v4h-3zM650 97h3v2h-3zM650 527h3v2h-3zM653 169h3v2h-3zM653 421h3v6h-3zM656 61h3v4h-3zM659 477h3v2h-3zM662 191h3v2h-3zM662 195h3v4h-3zM662 441h3v2h-3zM665 337h3v4h-3zM665 485h3v2h-3zM668 269h3v2h-3zM668 273h3v2h-3zM668 323h3v2h-3zM668 327h3v2h-3zM668 353h3v4h-3zM668 485h3v2h-3zM671 235h3v2h-3zM671 397h3v2h-3zM671 473h3v2h-3zM671 477h3v2h-3zM674 373h3v2h-3zM674 425h3v4h-3zM677 115h3v2h-3zM677 129h3v2h-3zM677 177h3v2h-3zM677 207h3v2h-3zM677 241h3v2h-3zM677 253h3v2h-3zM677 263h3v2h-3zM677 289h3v2h-3zM677 321h3v2h-3zM677 337h3v2h-3zM677 341h3v6h-3zM677 357h3v2h-3zM677 367h3v2h-3zM677 379h3v2h-3zM677 399h3v2h-3zM677 403h3v2h-3zM677 425h3v2h-3zM677 437h3v4h-3zM677 459h3v2h-3zM677 511h3v2h-3zM680 391h3v4h-3zM680 397h3v2h-3zM683 79h3v2h-3zM683 133h3v2h-3zM683 241h3v2h-3zM683 517h3v2h-3zM683 535h3v2h-3zM686 267h3v2h-3zM689 301h3v2h-3zM692 235h3v2h-3zM692 471h3v2h-3zM695 317h3v2h-3zM695 393h3v4h-3zM695 413h3v2h-3zM698 115h3v2h-3zM698 151h3v2h-3zM698 285h3v2h-3zM698 329h3v4h-3zM701 125h3v10h-3zM701 137h3v2h-3zM701 219h3v6h-3zM701 243h3v8h-3zM701 309h3v2h-3zM704 171h3v4h-3zM704 317h3v2h-3zM704 437h3v2h-3zM707 259h3v2h-3zM710 369h3v2h-3zM713 117h3v4h-3zM713 177h3v2h-3zM713 197h3v2h-3zM713 223h3v2h-3zM713 303h3v4h-3zM713 333h3v4h-3zM713 345h3v4h-3zM713 413h3v2h-3zM716 513h3v6h-3zM719 65h3v4h-3zM719 205h3v6h-3zM722 303h3v2h-3zM722 329h3v2h-3zM722 399h3v2h-3zM725 195h3v6h-3zM725 235h3v2h-3zM725 359h3v2h-3zM731 451h3v2h-3zM734 273h3v2h-3zM734 403h3v4h-3zM737 235h3v4h-3zM737 351h3v4h-3zM740 237h3v2h-3zM740 241h3v2h-3zM743 113h3v2h-3zM743 375h3v2h-3zM743 423h3v2h-3zM743 463h3v4h-3zM746 247h3v4h-3zM749 219h3v2h-3zM749 297h3v2h-3zM749 527h3v4h-3zM752 349h3v2h-3zM752 503h3v2h-3zM755 367h3v4h-3zM758 73h3v4h-3zM758 123h3v6h-3zM758 263h3v6h-3zM767 167h3v2h-3zM767 171h3v2h-3zM767 175h3v4h-3zM770 131h3v2h-3zM770 275h3v2h-3zM770 307h3v14h-3zM773 391h3v2h-3zM776 377h3v2h-3zM779 103h3v4h-3zM779 109h3v2h-3zM779 223h3v2h-3zM782 69h3v4h-3zM782 225h3v2h-3zM782 285h3v4h-3zM782 291h3v2h-3zM785 103h2v4h-2zM785 293h2v2h-2zM785 483h2v12h-2zM785 499h2v4h-2z" fill="#180000"/>
<path d="M68 497h3v2h-3zM80 487h3v2h-3zM83 483h3v2h-3zM83 493h3v2h-3zM83 497h3v2h-3zM86 495h3v2h-3zM95 491h3v2h-3zM107 499h3v2h-3zM110 481h3v2h-3zM116 499h3v2h-3zM122 475h3v2h-3zM122 491h3v2h-3zM125 469h3v2h-3zM125 481h3v4h-3zM125 497h3v4h-3zM128 483h3v2h-3zM131 473h3v2h-3zM131 477h3v2h-3zM131 497h3v2h-3zM134 483h3v4h-3zM134 493h3v2h-3zM134 501h3v2h-3zM137 477h3v2h-3zM137 481h3v4h-3zM137 503h3v2h-3zM149 403h3v2h-3zM149 483h3v2h-3zM152 473h3v2h-3zM152 495h3v2h-3zM155 465h3v2h-3zM155 485h3v2h-3zM161 485h3v2h-3zM161 501h3v2h-3zM164 405h3v2h-3zM164 475h3v2h-3zM164 481h3v2h-3zM164 493h3v2h-3zM164 499h3v2h-3zM167 405h3v4h-3zM167 417h3v4h-3zM167 471h3v2h-3zM167 485h3v2h-3zM167 491h3v2h-3zM170 473h3v2h-3zM173 409h3v2h-3zM173 417h3v2h-3zM173 481h3v2h-3zM173 487h3v2h-3zM176 407h3v2h-3zM176 413h3v2h-3zM176 417h3v2h-3zM191 393h3v2h-3zM197 395h3v2h-3zM200 227h3v2h-3zM203 389h3v2h-3zM239 355h3v2h-3zM254 481h3v2h-3zM254 487h3v4h-3zM257 347h3v2h-3zM257 493h3v2h-3zM260 499h3v2h-3zM263 503h3v2h-3zM272 495h3v2h-3zM272 501h3v2h-3zM275 499h3v2h-3zM281 487h3v4h-3zM287 71h3v2h-3zM287 481h3v2h-3zM287 491h3v2h-3zM308 297h3v2h-3zM344 281h3v2h-3zM530 229h3v2h-3zM548 233h3v2h-3zM554 223h3v2h-3zM566 227h3v2h-3zM569 219h3v2h-3zM581 219h3v2h-3zM587 217h3v2h-3zM614 207h3v2h-3zM626 195h3v2h-3zM629 193h3v2h-3zM638 177h3v2h-3zM644 165h3v2h-3zM647 159h3v4h-3zM647 165h3v2h-3zM650 153h3v2h-3zM650 161h3v2h-3zM665 101h3v2h-3z" fill="#19c000"/>
<path d="M68 501h3v2h-3zM80 493h3v2h-3zM86 489h3v2h-3zM107 477h3v2h-3zM107 497h3v2h-3zM107 503h3v2h-3zM110 487h3v2h-3zM116 479h3v4h-3zM119 471h3v2h-3zM119 479h3v4h-3zM119 489h3v2h-3zM122 487h3v2h-3zM122 501h3v4h-3zM125 471h3v2h-3zM134 475h3v2h-3zM134 495h3v2h-3zM137 471h3v2h-3zM137 487h3v2h-3zM140 477h3v2h-3zM140 481h3v2h-3zM140 487h3v2h-3zM140 503h3v2h-3zM143 477h3v2h-3zM143 493h3v2h-3zM143 503h3v2h-3zM149 475h3v2h-3zM149 489h3v2h-3zM152 493h3v2h-3zM155 479h3v2h-3zM155 493h3v2h-3zM158 471h3v2h-3zM158 487h3v2h-3zM164 403h3v2h-3zM164 411h3v2h-3zM164 417h3v2h-3zM164 491h3v2h-3zM167 475h3v2h-3zM170 491h3v6h-3zM173 477h3v4h-3zM173 485h3v2h-3zM221 377h3v2h-3zM224 373h3v2h-3zM254 485h3v2h-3zM254 497h3v2h-3zM257 495h3v2h-3zM260 343h3v2h-3zM263 341h3v2h-3zM266 489h3v2h-3zM269 337h3v2h-3zM275 333h3v2h-3zM278 491h3v2h-3zM278 495h3v2h-3zM284 497h3v4h-3zM290 485h3v2h-3zM290 491h3v2h-3zM290 499h3v4h-3zM299 309h3v2h-3zM323 285h3v2h-3zM326 283h3v2h-3zM329 285h3v2h-3zM332 283h3v2h-3zM338 275h3v4h-3zM338 281h3v2h-3zM341 281h3v2h-3zM395 249h3v2h-3zM401 245h3v2h-3zM407 245h3v2h-3zM425 241h3v2h-3zM509 239h3v2h-3zM533 229h3v2h-3zM557 223h3v2h-3zM617 205h3v2h-3zM620 203h3v2h-3zM632 187h3v4h-3zM635 185h3v2h-3zM641 177h3v2h-3zM647 163h3v2h-3zM650 157h3v2h-3zM653 153h3v2h-3zM662 123h3v2h-3zM665 87h3v2h-3z" fill="#1bcc00"/>
<path d="M86 491h3v2h-3zM113 485h3v2h-3zM116 477h3v2h-3zM116 485h3v2h-3zM122 473h3v2h-3zM122 497h3v2h-3zM131 485h3v2h-3zM137 495h3v2h-3zM140 471h3v2h-3zM146 505h3v2h-3zM149 479h3v4h-3zM152 483h3v2h-3zM155 495h3v2h-3zM155 503h3v2h-3zM158 483h3v2h-3zM161 491h3v2h-3zM164 413h3v4h-3zM164 477h3v4h-3zM164 497h3v2h-3zM164 501h3v2h-3zM167 473h3v2h-3zM167 483h3v2h-3zM167 487h3v2h-3zM170 477h3v4h-3zM188 395h3v6h-3zM191 397h3v2h-3zM194 393h3v2h-3zM197 393h3v2h-3zM203 391h3v2h-3zM209 387h3v2h-3zM215 379h3v2h-3zM224 371h3v2h-3zM230 367h3v2h-3zM230 371h3v2h-3zM233 363h3v2h-3zM236 363h3v4h-3zM242 353h3v2h-3zM251 351h3v2h-3zM254 345h3v4h-3zM257 343h3v4h-3zM260 341h3v2h-3zM260 487h3v2h-3zM266 337h3v2h-3zM266 491h3v2h-3zM272 485h3v2h-3zM272 489h3v2h-3zM275 491h3v4h-3zM278 493h3v2h-3zM278 501h3v2h-3zM284 323h3v2h-3zM287 321h3v2h-3zM290 489h3v2h-3zM290 497h3v2h-3zM293 315h3v4h-3zM296 313h3v4h-3zM299 313h3v2h-3zM308 301h3v2h-3zM311 295h3v2h-3zM314 293h3v2h-3zM323 287h3v2h-3zM326 285h3v2h-3zM329 281h3v4h-3zM329 287h3v2h-3zM332 285h3v2h-3zM335 279h3v2h-3zM338 279h3v2h-3zM338 283h3v2h-3zM344 275h3v2h-3zM401 247h3v2h-3zM416 241h3v2h-3zM425 237h3v2h-3zM431 239h3v2h-3zM437 235h3v6h-3zM440 237h3v2h-3zM446 237h3v4h-3zM455 235h3v2h-3zM464 237h3v2h-3zM470 235h3v2h-3zM470 239h3v2h-3zM488 235h3v2h-3zM491 235h3v2h-3zM503 235h3v2h-3zM503 239h3v2h-3zM509 235h3v4h-3zM512 235h3v2h-3zM515 237h3v2h-3zM542 233h3v2h-3zM545 233h3v2h-3zM551 227h3v2h-3zM557 229h3v2h-3zM581 215h3v2h-3zM587 213h3v2h-3zM599 211h3v2h-3zM602 209h3v2h-3zM608 207h3v2h-3zM629 189h3v2h-3zM632 185h3v2h-3zM638 179h3v4h-3zM644 167h3v8h-3zM653 149h3v2h-3zM656 141h3v2h-3zM662 121h3v2h-3z" fill="#1cd800"/>
<path d="M68 61h3v2h-3zM68 67h3v4h-3zM68 183h3v2h-3zM71 179h3v2h-3zM71 287h3v2h-3zM71 291h3v2h-3zM71 331h3v4h-3zM71 409h3v2h-3zM74 247h3v2h-3zM74 251h3v4h-3zM74 299h3v4h-3zM74 403h3v2h-3zM74 535h3v2h-3zM77 223h3v2h-3zM80 399h3v2h-3zM86 69h3v2h-3zM86 143h3v4h-3zM92 241h3v2h-3zM92 245h3v2h-3zM92 391h3v4h-3zM95 69h3v2h-3zM95 97h3v2h-3zM95 345h3v2h-3zM95 387h3v2h-3zM95 391h3v2h-3zM98 171h3v2h-3zM98 189h3v2h-3zM98 341h3v2h-3zM98 413h3v4h-3zM101 381h3v8h-3zM104 71h3v2h-3zM104 99h3v2h-3zM104 305h3v2h-3zM107 281h3v6h-3zM107 521h3v2h-3zM110 131h3v2h-3zM110 135h3v2h-3zM110 233h3v2h-3zM110 247h3v6h-3zM110 341h3v2h-3zM110 361h3v2h-3zM110 365h3v2h-3zM110 401h3v6h-3zM113 147h3v2h-3zM113 335h3v2h-3zM113 387h3v2h-3zM113 421h3v2h-3zM116 73h3v2h-3zM116 85h3v2h-3zM116 89h3v2h-3zM116 137h3v4h-3zM116 199h3v4h-3zM119 193h3v4h-3zM119 279h3v4h-3zM119 353h3v2h-3zM119 359h3v2h-3zM122 285h3v2h-3zM122 291h3v2h-3zM122 339h3v6h-3zM122 393h3v4h-3zM122 435h3v2h-3zM128 189h3v4h-3zM128 259h3v6h-3zM128 303h3v8h-3zM128 359h3v2h-3zM128 395h3v2h-3zM128 407h3v2h-3zM131 151h3v2h-3zM131 183h3v2h-3zM131 403h3v6h-3zM131 411h3v2h-3zM134 65h3v2h-3zM134 85h3v4h-3zM134 219h3v4h-3zM134 267h3v2h-3zM134 451h3v2h-3zM137 137h3v2h-3zM137 225h3v2h-3zM137 535h3v2h-3zM140 85h3v2h-3zM140 195h3v2h-3zM140 269h3v2h-3zM140 317h3v2h-3zM140 405h3v4h-3zM143 185h3v2h-3zM143 405h3v6h-3zM143 419h3v6h-3zM149 151h3v2h-3zM149 201h3v2h-3zM149 357h3v2h-3zM152 127h3v2h-3zM152 137h3v4h-3zM152 253h3v2h-3zM155 433h3v4h-3zM158 175h3v2h-3zM158 259h3v2h-3zM158 347h3v2h-3zM161 151h3v8h-3zM164 103h3v2h-3zM164 147h3v4h-3zM164 273h3v2h-3zM164 277h3v2h-3zM164 371h3v2h-3zM167 251h3v2h-3zM167 269h3v2h-3zM167 277h3v2h-3zM167 423h3v2h-3zM167 427h3v2h-3zM170 151h3v2h-3zM170 187h3v4h-3zM170 271h3v2h-3zM173 225h3v2h-3zM173 523h3v2h-3zM176 211h3v2h-3zM176 265h3v2h-3zM176 269h3v2h-3zM176 293h3v2h-3zM176 521h3v6h-3zM179 259h3v2h-3zM182 211h3v2h-3zM182 265h3v2h-3zM185 79h3v2h-3zM185 107h3v2h-3zM185 259h3v4h-3zM185 311h3v2h-3zM185 449h3v2h-3zM188 235h3v2h-3zM188 239h3v2h-3zM188 257h3v4h-3zM188 521h3v2h-3zM191 253h3v2h-3zM194 123h3v2h-3zM194 127h3v2h-3zM194 203h3v2h-3zM194 207h3v2h-3zM194 247h3v2h-3zM194 253h3v2h-3zM200 243h3v2h-3zM200 313h3v2h-3zM200 335h3v2h-3zM203 67h3v2h-3zM203 85h3v2h-3zM203 403h3v2h-3zM203 455h3v2h-3zM206 305h3v2h-3zM209 233h3v2h-3zM209 399h3v2h-3zM209 457h3v2h-3zM212 139h3v8h-3zM212 325h3v2h-3zM212 419h3v4h-3zM215 59h3v4h-3zM215 73h3v2h-3zM215 171h3v4h-3zM218 65h3v2h-3zM218 147h3v8h-3zM218 525h3v4h-3zM221 91h3v2h-3zM221 95h3v2h-3zM221 197h3v2h-3zM221 209h3v2h-3zM221 229h3v2h-3zM221 299h3v2h-3zM221 341h3v2h-3zM224 163h3v2h-3zM227 165h3v2h-3zM227 517h3v2h-3zM227 523h3v2h-3zM230 221h3v4h-3zM230 307h3v2h-3zM233 71h3v4h-3zM233 191h3v2h-3zM233 223h3v2h-3zM233 251h3v2h-3zM233 255h3v2h-3zM233 277h3v6h-3zM233 317h3v2h-3zM233 461h3v2h-3zM233 473h3v2h-3zM236 111h3v4h-3zM236 137h3v2h-3zM236 163h3v2h-3zM236 181h3v2h-3zM236 235h3v2h-3zM239 167h3v2h-3zM239 229h3v4h-3zM242 185h3v2h-3zM242 271h3v2h-3zM242 317h3v2h-3zM242 413h3v4h-3zM245 161h3v2h-3zM245 319h3v2h-3zM248 163h3v2h-3zM248 167h3v2h-3zM248 189h3v2h-3zM248 299h3v2h-3zM248 371h3v4h-3zM251 67h3v2h-3zM251 97h3v2h-3zM251 291h3v4h-3zM251 435h3v4h-3zM254 135h3v2h-3zM254 241h3v2h-3zM254 365h3v4h-3zM257 159h3v2h-3zM257 289h3v4h-3zM257 439h3v2h-3zM257 443h3v2h-3zM260 123h3v2h-3zM260 165h3v2h-3zM260 459h3v2h-3zM263 217h3v4h-3zM263 279h3v2h-3zM266 209h3v4h-3zM266 383h3v4h-3zM269 105h3v2h-3zM269 461h3v2h-3zM272 85h3v2h-3zM272 137h3v8h-3zM272 153h3v2h-3zM272 201h3v4h-3zM272 211h3v2h-3zM272 215h3v2h-3zM272 415h3v2h-3zM275 101h3v2h-3zM275 363h3v2h-3zM275 367h3v2h-3zM278 355h3v2h-3zM278 373h3v2h-3zM281 417h3v4h-3zM284 69h3v2h-3zM284 73h3v2h-3zM284 467h3v2h-3zM287 83h3v2h-3zM287 87h3v2h-3zM287 345h3v6h-3zM290 235h3v4h-3zM290 291h3v2h-3zM290 371h3v2h-3zM290 429h3v2h-3zM290 435h3v2h-3zM293 125h3v2h-3zM293 297h3v2h-3zM293 333h3v2h-3zM293 381h3v2h-3zM293 425h3v4h-3zM293 435h3v2h-3zM293 439h3v2h-3zM293 483h3v2h-3zM296 69h3v2h-3zM296 201h3v4h-3zM296 221h3v2h-3zM299 123h3v2h-3zM299 411h3v2h-3zM299 443h3v2h-3zM299 447h3v2h-3zM302 331h3v2h-3zM302 335h3v2h-3zM302 477h3v2h-3zM302 535h3v2h-3zM305 159h3v2h-3zM305 373h3v2h-3zM305 377h3v2h-3zM308 145h3v4h-3zM308 241h3v2h-3zM308 313h3v2h-3zM311 81h3v2h-3zM311 481h3v4h-3zM314 467h3v6h-3zM317 315h3v4h-3zM317 469h3v2h-3zM320 349h3v2h-3zM320 483h3v2h-3zM323 481h3v4h-3zM323 487h3v2h-3zM326 101h3v2h-3zM326 377h3v2h-3zM326 381h3v2h-3zM332 121h3v2h-3zM332 295h3v8h-3zM332 351h3v2h-3zM332 455h3v2h-3zM335 341h3v2h-3zM335 479h3v2h-3zM338 123h3v2h-3zM338 287h3v2h-3zM338 349h3v4h-3zM341 185h3v2h-3zM341 203h3v6h-3zM341 239h3v6h-3zM341 433h3v2h-3zM341 477h3v2h-3zM341 505h3v4h-3zM341 523h3v2h-3zM344 197h3v4h-3zM344 397h3v4h-3zM344 433h3v2h-3zM344 441h3v2h-3zM344 459h3v4h-3zM344 513h3v2h-3zM347 471h3v2h-3zM347 487h3v2h-3zM350 75h3v2h-3zM350 203h3v2h-3zM350 281h3v2h-3zM350 425h3v2h-3zM350 477h3v2h-3zM350 485h3v2h-3zM353 471h3v2h-3zM353 481h3v2h-3zM356 145h3v2h-3zM356 271h3v2h-3zM356 333h3v2h-3zM356 379h3v4h-3zM356 527h3v4h-3zM359 113h3v4h-3zM359 119h3v2h-3zM359 191h3v2h-3zM365 149h3v6h-3zM365 479h3v2h-3zM368 279h3v2h-3zM368 425h3v2h-3zM368 459h3v2h-3zM371 181h3v2h-3zM371 225h3v6h-3zM371 415h3v2h-3zM374 85h3v2h-3zM374 89h3v2h-3zM374 169h3v2h-3zM377 75h3v6h-3zM377 467h3v2h-3zM380 503h3v2h-3zM383 269h3v2h-3zM386 339h3v4h-3zM386 443h3v2h-3zM386 533h3v2h-3zM389 253h3v2h-3zM389 289h3v4h-3zM392 171h3v2h-3zM392 179h3v6h-3zM398 63h3v2h-3zM398 255h3v2h-3zM398 503h3v2h-3zM401 225h3v2h-3zM401 235h3v2h-3zM401 427h3v2h-3zM401 449h3v4h-3zM401 483h3v2h-3zM404 97h3v2h-3zM404 101h3v2h-3zM404 145h3v4h-3zM404 231h3v2h-3zM404 485h3v2h-3zM407 69h3v2h-3zM407 75h3v2h-3zM407 357h3v2h-3zM407 445h3v2h-3zM407 511h3v2h-3zM410 291h3v2h-3zM410 297h3v2h-3zM410 503h3v2h-3zM410 527h3v2h-3zM413 83h3v2h-3zM413 201h3v2h-3zM413 337h3v2h-3zM416 75h3v2h-3zM416 81h3v2h-3zM416 193h3v2h-3zM416 197h3v4h-3zM416 225h3v2h-3zM416 421h3v2h-3zM416 425h3v2h-3zM416 449h3v4h-3zM416 503h3v2h-3zM416 535h3v2h-3zM419 227h3v2h-3zM419 503h3v2h-3zM422 65h3v2h-3zM422 223h3v2h-3zM422 399h3v2h-3zM422 529h3v2h-3zM425 329h3v2h-3zM425 357h3v2h-3zM428 119h3v4h-3zM431 123h3v2h-3zM431 135h3v2h-3zM431 341h3v2h-3zM431 345h3v4h-3zM434 67h3v8h-3zM434 223h3v4h-3zM434 337h3v2h-3zM434 341h3v4h-3zM434 529h3v2h-3zM437 75h3v2h-3zM437 127h3v4h-3zM437 219h3v2h-3zM440 183h3v2h-3zM440 187h3v2h-3zM440 271h3v2h-3zM443 131h3v2h-3zM443 135h3v2h-3zM443 223h3v2h-3zM446 81h3v2h-3zM446 457h3v4h-3zM449 87h3v4h-3zM449 107h3v6h-3zM449 127h3v4h-3zM449 391h3v2h-3zM449 465h3v2h-3zM449 503h3v2h-3zM452 245h3v2h-3zM452 305h3v2h-3zM452 349h3v2h-3zM452 451h3v6h-3zM452 461h3v2h-3zM455 223h3v2h-3zM455 503h3v2h-3zM458 71h3v2h-3zM458 295h3v4h-3zM458 355h3v4h-3zM461 243h3v2h-3zM461 399h3v2h-3zM461 407h3v2h-3zM461 435h3v2h-3zM464 223h3v2h-3zM464 285h3v2h-3zM467 431h3v2h-3zM470 69h3v4h-3zM470 195h3v4h-3zM470 401h3v2h-3zM470 405h3v2h-3zM473 367h3v2h-3zM473 451h3v2h-3zM476 145h3v4h-3zM476 167h3v4h-3zM476 271h3v2h-3zM476 305h3v2h-3zM476 451h3v2h-3zM476 465h3v4h-3zM476 477h3v4h-3zM479 99h3v2h-3zM479 167h3v2h-3zM479 171h3v2h-3zM479 281h3v2h-3zM479 355h3v4h-3zM482 373h3v2h-3zM482 383h3v4h-3zM482 405h3v2h-3zM485 223h3v2h-3zM485 409h3v2h-3zM488 163h3v2h-3zM488 219h3v2h-3zM488 421h3v2h-3zM488 425h3v2h-3zM491 69h3v4h-3zM491 131h3v4h-3zM491 485h3v2h-3zM494 123h3v4h-3zM494 279h3v2h-3zM494 481h3v2h-3zM494 487h3v2h-3zM494 503h3v2h-3zM497 165h3v2h-3zM497 331h3v4h-3zM500 247h3v6h-3zM500 293h3v2h-3zM500 413h3v4h-3zM503 145h3v2h-3zM503 149h3v2h-3zM503 223h3v2h-3zM503 281h3v2h-3zM503 319h3v2h-3zM503 323h3v4h-3zM503 477h3v6h-3zM503 533h3v4h-3zM506 251h3v4h-3zM506 319h3v2h-3zM506 385h3v2h-3zM506 419h3v4h-3zM506 425h3v2h-3zM506 513h3v4h-3zM509 77h3v2h-3zM509 211h3v2h-3zM509 215h3v2h-3zM509 219h3v2h-3zM509 253h3v4h-3zM509 305h3v2h-3zM509 321h3v2h-3zM512 171h3v2h-3zM512 291h3v4h-3zM512 367h3v2h-3zM512 371h3v2h-3zM512 439h3v4h-3zM512 447h3v2h-3zM515 131h3v4h-3zM515 221h3v2h-3zM518 211h3v2h-3zM518 425h3v2h-3zM518 443h3v6h-3zM521 87h3v2h-3zM521 305h3v2h-3zM521 481h3v2h-3zM521 503h3v2h-3zM521 509h3v2h-3zM524 399h3v2h-3zM524 403h3v4h-3zM524 437h3v2h-3zM527 191h3v2h-3zM527 251h3v4h-3zM527 285h3v2h-3zM527 477h3v2h-3zM530 227h3v2h-3zM530 317h3v2h-3zM530 321h3v2h-3zM533 223h3v2h-3zM533 411h3v2h-3zM533 463h3v2h-3zM536 379h3v6h-3zM539 83h3v2h-3zM539 87h3v4h-3zM539 139h3v2h-3zM539 143h3v4h-3zM542 225h3v2h-3zM542 457h3v2h-3zM545 89h3v2h-3zM545 215h3v2h-3zM545 303h3v2h-3zM545 397h3v2h-3zM551 63h3v2h-3zM551 355h3v2h-3zM551 463h3v2h-3zM551 503h3v2h-3zM554 113h3v2h-3zM554 117h3v2h-3zM554 219h3v2h-3zM554 473h3v6h-3zM557 85h3v2h-3zM557 239h3v2h-3zM557 367h3v4h-3zM557 475h3v2h-3zM557 479h3v2h-3zM557 483h3v6h-3zM560 61h3v2h-3zM560 401h3v2h-3zM560 407h3v2h-3zM560 421h3v2h-3zM560 485h3v2h-3zM563 89h3v2h-3zM563 95h3v2h-3zM563 427h3v2h-3zM566 125h3v2h-3zM566 417h3v6h-3zM569 161h3v2h-3zM569 305h3v2h-3zM569 491h3v2h-3zM572 259h3v4h-3zM572 377h3v2h-3zM572 507h3v2h-3zM575 79h3v2h-3zM575 115h3v2h-3zM575 443h3v6h-3zM578 527h3v2h-3zM578 531h3v4h-3zM581 105h3v2h-3zM581 419h3v2h-3zM581 435h3v2h-3zM581 471h3v2h-3zM581 475h3v2h-3zM587 73h3v6h-3zM587 101h3v2h-3zM587 129h3v2h-3zM587 503h3v2h-3zM587 533h3v2h-3zM590 99h3v2h-3zM590 185h3v2h-3zM590 325h3v2h-3zM593 461h3v2h-3zM596 323h3v2h-3zM596 329h3v2h-3zM599 155h3v2h-3zM599 467h3v2h-3zM602 157h3v4h-3zM605 425h3v2h-3zM608 487h3v8h-3zM608 497h3v6h-3zM611 387h3v2h-3zM614 117h3v6h-3zM614 221h3v2h-3zM614 429h3v2h-3zM614 477h3v2h-3zM614 485h3v2h-3zM617 213h3v2h-3zM617 387h3v2h-3zM620 71h3v2h-3zM620 345h3v4h-3zM620 433h3v4h-3zM620 439h3v2h-3zM620 483h3v2h-3zM623 79h3v2h-3zM623 153h3v2h-3zM623 241h3v2h-3zM623 273h3v4h-3zM623 469h3v2h-3zM629 239h3v2h-3zM629 287h3v2h-3zM635 499h3v2h-3zM638 87h3v2h-3zM638 133h3v2h-3zM638 137h3v2h-3zM638 483h3v2h-3zM641 203h3v2h-3zM641 487h3v8h-3zM644 191h3v2h-3zM644 329h3v2h-3zM644 493h3v4h-3zM644 499h3v4h-3zM647 197h3v6h-3zM647 475h3v2h-3zM647 509h3v2h-3zM650 95h3v2h-3zM650 353h3v4h-3zM653 235h3v2h-3zM653 419h3v2h-3zM656 91h3v2h-3zM656 353h3v4h-3zM656 449h3v4h-3zM656 485h3v4h-3zM659 259h3v4h-3zM659 267h3v2h-3zM659 271h3v2h-3zM662 439h3v2h-3zM668 271h3v2h-3zM668 487h3v2h-3zM671 147h3v6h-3zM671 233h3v2h-3zM674 187h3v2h-3zM674 229h3v4h-3zM674 329h3v2h-3zM677 61h3v2h-3zM677 67h3v6h-3zM677 145h3v2h-3zM677 151h3v2h-3zM677 157h3v2h-3zM677 181h3v2h-3zM677 197h3v2h-3zM677 223h3v4h-3zM677 233h3v2h-3zM677 237h3v2h-3zM677 245h3v2h-3zM677 249h3v2h-3zM677 255h3v2h-3zM677 275h3v2h-3zM677 331h3v2h-3zM677 339h3v2h-3zM677 371h3v2h-3zM677 383h3v2h-3zM677 391h3v2h-3zM677 397h3v2h-3zM677 407h3v2h-3zM677 427h3v4h-3zM677 447h3v2h-3zM677 481h3v2h-3zM677 505h3v2h-3zM677 509h3v2h-3zM677 513h3v2h-3zM680 97h3v2h-3zM680 503h3v2h-3zM683 235h3v4h-3zM683 379h3v2h-3zM683 501h3v2h-3zM683 515h3v2h-3zM686 265h3v2h-3zM689 243h3v2h-3zM692 391h3v4h-3zM692 405h3v8h-3zM692 473h3v2h-3zM695 349h3v2h-3zM695 391h3v2h-3zM698 149h3v2h-3zM698 251h3v2h-3zM698 283h3v2h-3zM698 333h3v4h-3zM698 491h3v8h-3zM698 501h3v2h-3zM701 135h3v2h-3zM701 311h3v6h-3zM704 135h3v4h-3zM710 371h3v2h-3zM713 121h3v4h-3zM713 193h3v2h-3zM713 331h3v2h-3zM713 385h3v2h-3zM713 407h3v2h-3zM713 441h3v4h-3zM716 285h3v2h-3zM719 145h3v2h-3zM719 483h3v6h-3zM722 77h3v2h-3zM722 235h3v4h-3zM722 327h3v2h-3zM722 331h3v2h-3zM722 485h3v2h-3zM725 217h3v8h-3zM725 355h3v2h-3zM725 461h3v2h-3zM731 449h3v2h-3zM731 489h3v2h-3zM731 495h3v2h-3zM734 167h3v2h-3zM734 275h3v2h-3zM734 455h3v6h-3zM737 199h3v4h-3zM737 239h3v4h-3zM740 439h3v4h-3zM740 487h3v2h-3zM740 491h3v8h-3zM743 111h3v2h-3zM743 377h3v2h-3zM746 151h3v2h-3zM746 175h3v2h-3zM746 245h3v2h-3zM746 291h3v2h-3zM746 295h3v2h-3zM749 217h3v2h-3zM749 531h3v2h-3zM752 345h3v4h-3zM752 351h3v2h-3zM755 267h3v4h-3zM755 499h3v4h-3zM758 143h3v4h-3zM758 453h3v2h-3zM758 515h3v2h-3zM761 211h3v2h-3zM764 163h3v4h-3zM767 169h3v2h-3zM767 173h3v2h-3zM770 273h3v2h-3zM770 277h3v4h-3zM770 449h3v2h-3zM770 481h3v2h-3zM770 519h3v2h-3zM773 275h3v4h-3zM773 483h3v14h-3zM776 117h3v4h-3zM776 171h3v2h-3zM776 457h3v2h-3zM779 107h3v2h-3zM779 219h3v2h-3zM779 487h3v16h-3zM782 383h3v2h-3zM782 491h3v12h-3z" fill="#1e0000"/>
<path d="M98 485h3v2h-3zM116 491h3v2h-3zM119 473h3v4h-3zM122 481h3v2h-3zM137 493h3v2h-3zM143 475h3v2h-3zM143 479h3v4h-3zM143 495h3v2h-3zM143 501h3v2h-3zM146 481h3v2h-3zM146 485h3v2h-3zM146 489h3v2h-3zM155 491h3v2h-3zM158 481h3v2h-3zM158 485h3v2h-3zM158 503h3v2h-3zM161 487h3v2h-3zM164 407h3v4h-3zM164 419h3v2h-3zM170 489h3v2h-3zM191 395h3v2h-3zM194 395h3v2h-3zM206 389h3v2h-3zM209 385h3v2h-3zM212 381h3v2h-3zM218 377h3v4h-3zM221 375h3v2h-3zM224 375h3v2h-3zM227 369h3v4h-3zM236 359h3v2h-3zM239 357h3v2h-3zM242 355h3v4h-3zM248 349h3v2h-3zM248 353h3v2h-3zM251 349h3v2h-3zM254 349h3v2h-3zM254 493h3v2h-3zM254 499h3v2h-3zM257 489h3v2h-3zM257 497h3v2h-3zM263 339h3v2h-3zM263 489h3v2h-3zM263 497h3v2h-3zM266 339h3v2h-3zM269 335h3v2h-3zM269 479h3v2h-3zM269 483h3v2h-3zM272 333h3v4h-3zM275 495h3v2h-3zM275 503h3v2h-3zM281 327h3v2h-3zM284 325h3v2h-3zM290 317h3v4h-3zM290 487h3v2h-3zM290 503h3v2h-3zM302 307h3v4h-3zM305 305h3v2h-3zM308 299h3v2h-3zM314 295h3v2h-3zM317 291h3v2h-3zM320 291h3v2h-3zM326 287h3v2h-3zM332 279h3v2h-3zM335 277h3v2h-3zM335 281h3v2h-3zM341 275h3v2h-3zM344 279h3v2h-3zM398 247h3v2h-3zM407 243h3v2h-3zM410 241h3v4h-3zM413 241h3v2h-3zM416 239h3v2h-3zM422 239h3v4h-3zM425 239h3v2h-3zM428 239h3v2h-3zM440 235h3v2h-3zM449 239h3v2h-3zM452 237h3v4h-3zM455 237h3v4h-3zM458 237h3v4h-3zM461 235h3v2h-3zM461 239h3v2h-3zM464 239h3v2h-3zM467 237h3v2h-3zM470 237h3v2h-3zM473 235h3v2h-3zM473 239h3v2h-3zM476 235h3v2h-3zM476 239h3v2h-3zM479 237h3v4h-3zM485 235h3v4h-3zM488 237h3v4h-3zM497 235h3v2h-3zM497 239h3v2h-3zM500 235h3v4h-3zM503 237h3v2h-3zM506 235h3v2h-3zM506 239h3v2h-3zM512 237h3v2h-3zM515 235h3v2h-3zM518 237h3v2h-3zM530 231h3v4h-3zM539 231h3v2h-3zM545 225h3v2h-3zM548 225h3v6h-3zM551 225h3v2h-3zM554 231h3v2h-3zM566 221h3v4h-3zM569 225h3v2h-3zM581 217h3v2h-3zM584 215h3v2h-3zM587 215h3v2h-3zM590 213h3v2h-3zM593 211h3v2h-3zM596 209h3v4h-3zM599 209h3v2h-3zM605 205h3v4h-3zM608 205h3v2h-3zM611 205h3v2h-3zM614 205h3v2h-3zM617 203h3v2h-3zM629 191h3v2h-3zM635 181h3v2h-3zM641 171h3v4h-3zM653 143h3v4h-3zM653 151h3v2h-3zM656 143h3v2h-3zM659 131h3v2h-3z" fill="#1ee400"/>
<path d="M113 487h3v2h-3zM119 483h3v2h-3zM125 505h3v2h-3zM134 481h3v2h-3zM137 489h3v2h-3zM140 473h3v2h-3zM143 483h3v2h-3zM146 473h3v2h-3zM146 499h3v2h-3zM155 411h3v2h-3zM170 475h3v2h-3zM200 391h3v4h-3zM206 387h3v2h-3zM212 383h3v2h-3zM215 381h3v2h-3zM227 373h3v2h-3zM230 369h3v2h-3zM233 365h3v6h-3zM236 361h3v2h-3zM239 359h3v2h-3zM245 353h3v4h-3zM248 351h3v2h-3zM251 347h3v2h-3zM257 485h3v2h-3zM263 491h3v2h-3zM269 485h3v4h-3zM272 487h3v2h-3zM272 491h3v2h-3zM275 331h3v2h-3zM278 327h3v4h-3zM278 499h3v2h-3zM281 325h3v2h-3zM305 303h3v2h-3zM311 297h3v4h-3zM317 293h3v2h-3zM320 289h3v2h-3zM323 289h3v2h-3zM332 281h3v2h-3zM335 283h3v2h-3zM341 277h3v4h-3zM404 245h3v2h-3zM413 243h3v2h-3zM419 239h3v4h-3zM428 237h3v2h-3zM431 237h3v2h-3zM434 237h3v4h-3zM440 239h3v2h-3zM443 235h3v6h-3zM446 235h3v2h-3zM449 235h3v4h-3zM452 235h3v2h-3zM458 235h3v2h-3zM461 237h3v2h-3zM464 235h3v2h-3zM467 235h3v2h-3zM467 239h3v2h-3zM473 237h3v2h-3zM476 237h3v2h-3zM479 235h3v2h-3zM482 235h3v6h-3zM485 239h3v2h-3zM491 237h3v4h-3zM494 235h3v6h-3zM497 237h3v2h-3zM500 239h3v2h-3zM506 237h3v2h-3zM518 235h3v2h-3zM527 231h3v4h-3zM533 231h3v4h-3zM536 231h3v4h-3zM539 229h3v2h-3zM545 227h3v6h-3zM548 231h3v2h-3zM551 229h3v4h-3zM554 225h3v6h-3zM557 227h3v2h-3zM557 231h3v2h-3zM566 225h3v2h-3zM569 221h3v4h-3zM584 217h3v2h-3zM590 215h3v2h-3zM593 213h3v2h-3zM599 207h3v2h-3zM602 207h3v2h-3zM605 209h3v2h-3zM611 203h3v2h-3zM614 203h3v2h-3zM617 201h3v2h-3zM620 199h3v4h-3zM656 139h3v2h-3zM665 91h3v6h-3z" fill="#1ff000"/>
<path d="M113 489h3v2h-3zM116 483h3v2h-3zM119 477h3v2h-3zM119 485h3v4h-3zM122 479h3v2h-3zM122 485h3v2h-3zM125 475h3v6h-3zM125 485h3v4h-3zM125 491h3v6h-3zM125 501h3v2h-3zM131 481h3v2h-3zM131 491h3v2h-3zM134 487h3v2h-3zM140 483h3v4h-3zM140 489h3v2h-3zM140 495h3v6h-3zM143 485h3v2h-3zM143 489h3v4h-3zM143 497h3v2h-3zM146 475h3v2h-3zM146 479h3v2h-3zM146 483h3v2h-3zM146 487h3v2h-3zM146 491h3v6h-3zM149 405h3v6h-3zM152 403h3v10h-3zM155 407h3v4h-3zM155 473h3v6h-3zM155 483h3v2h-3zM155 487h3v2h-3zM164 471h3v2h-3zM164 485h3v4h-3zM170 483h3v2h-3zM254 483h3v2h-3zM254 495h3v2h-3zM254 501h3v2h-3zM257 501h3v4h-3zM263 493h3v2h-3zM269 481h3v2h-3zM269 495h3v2h-3zM269 501h3v2h-3zM272 497h3v4h-3zM275 487h3v4h-3zM275 497h3v2h-3zM275 501h3v2h-3zM278 503h3v2h-3zM296 311h3v2h-3zM299 311h3v2h-3zM536 229h3v2h-3zM539 233h3v2h-3zM542 229h3v4h-3zM557 225h3v2h-3zM611 207h3v2h-3z" fill="#21fc00"/>
<path d="M68 71h3v2h-3zM68 311h3v2h-3zM68 327h3v6h-3zM71 123h3v4h-3zM71 155h3v2h-3zM71 205h3v2h-3zM71 285h3v2h-3zM71 289h3v2h-3zM71 345h3v2h-3zM71 355h3v4h-3zM71 411h3v4h-3zM71 527h3v2h-3zM74 249h3v2h-3zM74 303h3v2h-3zM74 401h3v2h-3zM74 405h3v2h-3zM77 261h3v2h-3zM83 267h3v2h-3zM86 65h3v4h-3zM86 219h3v2h-3zM89 305h3v2h-3zM89 311h3v2h-3zM92 239h3v2h-3zM92 461h3v2h-3zM95 65h3v2h-3zM95 95h3v2h-3zM95 99h3v2h-3zM95 171h3v2h-3zM95 293h3v4h-3zM95 389h3v2h-3zM95 397h3v2h-3zM95 513h3v6h-3zM98 71h3v2h-3zM98 75h3v2h-3zM98 95h3v2h-3zM98 183h3v2h-3zM98 235h3v2h-3zM98 367h3v2h-3zM101 515h3v4h-3zM104 95h3v4h-3zM104 107h3v2h-3zM104 303h3v2h-3zM104 307h3v2h-3zM107 205h3v2h-3zM107 303h3v2h-3zM107 381h3v4h-3zM107 525h3v2h-3zM110 159h3v4h-3zM110 231h3v2h-3zM110 307h3v2h-3zM110 343h3v6h-3zM110 531h3v4h-3zM113 173h3v4h-3zM113 383h3v2h-3zM116 87h3v2h-3zM116 197h3v2h-3zM119 117h3v8h-3zM119 283h3v2h-3zM122 201h3v6h-3zM122 289h3v2h-3zM122 293h3v2h-3zM128 71h3v2h-3zM128 231h3v2h-3zM131 147h3v2h-3zM131 153h3v2h-3zM131 381h3v4h-3zM134 263h3v4h-3zM134 269h3v2h-3zM134 325h3v4h-3zM134 399h3v2h-3zM134 403h3v2h-3zM134 441h3v2h-3zM137 197h3v2h-3zM137 221h3v4h-3zM137 227h3v2h-3zM140 105h3v4h-3zM140 157h3v4h-3zM140 377h3v2h-3zM143 131h3v2h-3zM143 235h3v2h-3zM146 417h3v2h-3zM149 123h3v2h-3zM149 147h3v4h-3zM149 287h3v2h-3zM149 345h3v2h-3zM149 365h3v2h-3zM149 383h3v2h-3zM149 523h3v2h-3zM152 85h3v2h-3zM152 123h3v2h-3zM152 171h3v4h-3zM152 255h3v2h-3zM152 343h3v6h-3zM152 361h3v2h-3zM152 365h3v4h-3zM155 341h3v2h-3zM155 431h3v2h-3zM158 135h3v2h-3zM158 141h3v2h-3zM158 345h3v2h-3zM161 351h3v2h-3zM164 101h3v2h-3zM164 185h3v2h-3zM164 255h3v2h-3zM164 259h3v2h-3zM164 367h3v4h-3zM164 373h3v2h-3zM167 169h3v2h-3zM167 173h3v2h-3zM167 275h3v2h-3zM167 425h3v2h-3zM170 169h3v2h-3zM170 275h3v2h-3zM173 97h3v2h-3zM173 215h3v10h-3zM173 227h3v2h-3zM173 353h3v2h-3zM176 213h3v2h-3zM176 263h3v2h-3zM176 295h3v2h-3zM179 369h3v4h-3zM182 209h3v2h-3zM182 213h3v4h-3zM185 121h3v2h-3zM185 293h3v2h-3zM185 417h3v2h-3zM188 431h3v2h-3zM191 263h3v4h-3zM191 365h3v2h-3zM194 205h3v2h-3zM194 213h3v2h-3zM194 249h3v4h-3zM194 425h3v2h-3zM194 431h3v2h-3zM197 123h3v2h-3zM197 127h3v4h-3zM197 247h3v2h-3zM197 257h3v6h-3zM197 341h3v4h-3zM197 445h3v2h-3zM200 187h3v4h-3zM200 201h3v6h-3zM200 367h3v2h-3zM200 371h3v2h-3zM200 425h3v2h-3zM203 69h3v2h-3zM203 81h3v2h-3zM203 123h3v2h-3zM206 235h3v2h-3zM206 307h3v2h-3zM206 401h3v2h-3zM209 219h3v2h-3zM212 227h3v2h-3zM212 367h3v2h-3zM215 75h3v2h-3zM215 305h3v2h-3zM215 333h3v2h-3zM218 67h3v2h-3zM218 71h3v2h-3zM218 209h3v2h-3zM218 235h3v8h-3zM218 529h3v2h-3zM221 85h3v4h-3zM221 135h3v2h-3zM221 139h3v2h-3zM221 161h3v2h-3zM221 353h3v2h-3zM221 509h3v2h-3zM224 321h3v6h-3zM224 391h3v2h-3zM227 171h3v2h-3zM227 199h3v2h-3zM227 231h3v6h-3zM227 289h3v2h-3zM227 299h3v8h-3zM227 319h3v2h-3zM227 445h3v2h-3zM230 103h3v2h-3zM230 113h3v2h-3zM230 183h3v2h-3zM230 195h3v2h-3zM230 269h3v2h-3zM233 431h3v4h-3zM236 85h3v2h-3zM236 125h3v2h-3zM236 129h3v2h-3zM236 161h3v2h-3zM236 305h3v2h-3zM236 323h3v2h-3zM236 389h3v2h-3zM236 417h3v6h-3zM236 455h3v2h-3zM239 179h3v2h-3zM242 199h3v2h-3zM242 267h3v4h-3zM242 279h3v2h-3zM242 319h3v2h-3zM245 527h3v2h-3zM245 531h3v2h-3zM248 141h3v2h-3zM248 259h3v2h-3zM248 279h3v4h-3zM248 297h3v2h-3zM248 369h3v2h-3zM248 375h3v2h-3zM248 461h3v4h-3zM251 93h3v4h-3zM251 153h3v2h-3zM251 289h3v2h-3zM251 295h3v2h-3zM251 359h3v2h-3zM251 467h3v2h-3zM254 81h3v2h-3zM254 143h3v2h-3zM257 65h3v2h-3zM257 257h3v2h-3zM257 273h3v6h-3zM257 359h3v4h-3zM257 393h3v2h-3zM257 469h3v4h-3zM257 475h3v2h-3zM260 365h3v2h-3zM260 461h3v4h-3zM260 523h3v2h-3zM260 527h3v4h-3zM263 103h3v2h-3zM263 221h3v4h-3zM263 281h3v4h-3zM263 463h3v2h-3zM266 95h3v2h-3zM266 309h3v2h-3zM266 391h3v4h-3zM266 397h3v2h-3zM266 415h3v4h-3zM269 123h3v2h-3zM269 295h3v2h-3zM272 87h3v2h-3zM272 91h3v2h-3zM272 103h3v2h-3zM272 205h3v2h-3zM272 227h3v2h-3zM272 477h3v2h-3zM272 481h3v2h-3zM275 229h3v4h-3zM275 471h3v2h-3zM275 519h3v4h-3zM275 525h3v2h-3zM278 97h3v2h-3zM278 357h3v2h-3zM278 375h3v2h-3zM278 419h3v2h-3zM278 443h3v4h-3zM278 515h3v2h-3zM281 87h3v2h-3zM281 91h3v2h-3zM281 181h3v2h-3zM281 415h3v2h-3zM281 421h3v4h-3zM281 433h3v2h-3zM284 71h3v2h-3zM284 87h3v2h-3zM284 97h3v2h-3zM284 381h3v2h-3zM284 385h3v2h-3zM287 351h3v2h-3zM290 59h3v2h-3zM290 133h3v2h-3zM290 157h3v2h-3zM290 293h3v2h-3zM290 311h3v4h-3zM290 327h3v2h-3zM290 349h3v2h-3zM290 431h3v4h-3zM290 477h3v4h-3zM290 525h3v4h-3zM293 173h3v2h-3zM293 179h3v2h-3zM293 191h3v8h-3zM293 263h3v2h-3zM293 299h3v6h-3zM293 343h3v2h-3zM293 437h3v2h-3zM296 105h3v2h-3zM299 63h3v2h-3zM299 121h3v2h-3zM299 277h3v4h-3zM299 441h3v2h-3zM299 467h3v2h-3zM299 471h3v2h-3zM299 475h3v2h-3zM302 69h3v2h-3zM302 109h3v2h-3zM302 113h3v2h-3zM302 395h3v2h-3zM302 419h3v2h-3zM302 423h3v2h-3zM302 485h3v2h-3zM305 161h3v4h-3zM305 371h3v2h-3zM305 505h3v2h-3zM308 143h3v2h-3zM308 149h3v2h-3zM308 255h3v4h-3zM308 371h3v2h-3zM308 529h3v2h-3zM311 83h3v2h-3zM311 383h3v2h-3zM311 465h3v2h-3zM314 141h3v2h-3zM317 243h3v2h-3zM317 401h3v2h-3zM317 453h3v4h-3zM317 517h3v2h-3zM320 71h3v2h-3zM320 135h3v4h-3zM320 347h3v2h-3zM323 187h3v2h-3zM323 299h3v2h-3zM323 303h3v2h-3zM323 503h3v2h-3zM326 103h3v4h-3zM326 117h3v2h-3zM326 375h3v2h-3zM329 225h3v4h-3zM329 437h3v2h-3zM329 441h3v4h-3zM332 291h3v2h-3zM332 353h3v2h-3zM335 77h3v2h-3zM335 481h3v2h-3zM338 483h3v2h-3zM341 187h3v4h-3zM341 199h3v2h-3zM341 245h3v2h-3zM341 251h3v2h-3zM341 303h3v2h-3zM341 521h3v2h-3zM344 395h3v2h-3zM344 435h3v2h-3zM344 439h3v2h-3zM344 457h3v2h-3zM344 515h3v2h-3zM347 349h3v6h-3zM347 377h3v2h-3zM347 473h3v2h-3zM347 477h3v2h-3zM347 489h3v2h-3zM350 79h3v2h-3zM350 231h3v2h-3zM350 235h3v4h-3zM350 323h3v2h-3zM350 327h3v4h-3zM350 479h3v4h-3zM350 487h3v2h-3zM353 483h3v2h-3zM356 79h3v6h-3zM356 295h3v6h-3zM356 375h3v4h-3zM356 419h3v2h-3zM356 503h3v2h-3zM359 193h3v2h-3zM359 245h3v2h-3zM359 503h3v2h-3zM362 139h3v2h-3zM362 385h3v4h-3zM362 503h3v2h-3zM365 489h3v2h-3zM365 503h3v2h-3zM365 521h3v2h-3zM368 99h3v4h-3zM368 299h3v6h-3zM368 329h3v2h-3zM368 403h3v2h-3zM368 427h3v2h-3zM368 453h3v2h-3zM368 457h3v2h-3zM368 463h3v4h-3zM368 485h3v2h-3zM368 503h3v2h-3zM371 183h3v4h-3zM371 417h3v4h-3zM371 443h3v2h-3zM371 503h3v2h-3zM374 63h3v4h-3zM374 503h3v2h-3zM377 113h3v2h-3zM377 119h3v2h-3zM377 259h3v2h-3zM377 279h3v2h-3zM377 325h3v2h-3zM377 503h3v2h-3zM383 257h3v4h-3zM383 267h3v2h-3zM383 271h3v4h-3zM383 297h3v2h-3zM386 221h3v2h-3zM386 343h3v2h-3zM386 503h3v2h-3zM389 59h3v2h-3zM389 503h3v2h-3zM392 373h3v6h-3zM392 503h3v2h-3zM395 103h3v2h-3zM395 239h3v2h-3zM398 59h3v4h-3zM401 227h3v2h-3zM401 233h3v2h-3zM401 503h3v2h-3zM404 103h3v2h-3zM404 149h3v2h-3zM404 227h3v2h-3zM404 503h3v2h-3zM407 73h3v2h-3zM407 225h3v2h-3zM407 379h3v2h-3zM410 525h3v2h-3zM413 81h3v2h-3zM413 85h3v2h-3zM413 225h3v2h-3zM413 521h3v2h-3zM416 77h3v4h-3zM416 305h3v2h-3zM416 447h3v2h-3zM419 105h3v2h-3zM419 219h3v2h-3zM419 255h3v2h-3zM419 277h3v2h-3zM419 283h3v2h-3zM422 73h3v2h-3zM422 227h3v2h-3zM422 401h3v6h-3zM422 503h3v2h-3zM425 223h3v4h-3zM425 333h3v2h-3zM425 355h3v2h-3zM425 359h3v2h-3zM425 379h3v2h-3zM425 429h3v2h-3zM428 79h3v8h-3zM428 123h3v2h-3zM428 453h3v2h-3zM428 457h3v2h-3zM431 221h3v2h-3zM431 225h3v2h-3zM431 343h3v2h-3zM431 503h3v2h-3zM434 65h3v2h-3zM434 335h3v2h-3zM437 131h3v4h-3zM437 221h3v2h-3zM437 225h3v2h-3zM437 355h3v2h-3zM437 359h3v2h-3zM440 119h3v2h-3zM440 225h3v2h-3zM440 269h3v2h-3zM440 425h3v2h-3zM443 133h3v2h-3zM443 219h3v2h-3zM443 333h3v2h-3zM443 353h3v2h-3zM443 507h3v2h-3zM446 83h3v2h-3zM446 89h3v2h-3zM446 223h3v2h-3zM446 331h3v2h-3zM446 461h3v4h-3zM449 113h3v2h-3zM449 223h3v2h-3zM449 389h3v2h-3zM452 139h3v2h-3zM452 155h3v2h-3zM452 303h3v2h-3zM452 429h3v6h-3zM452 449h3v2h-3zM452 463h3v2h-3zM455 221h3v2h-3zM455 339h3v2h-3zM455 393h3v8h-3zM458 73h3v4h-3zM458 303h3v2h-3zM458 359h3v4h-3zM461 145h3v2h-3zM461 221h3v4h-3zM461 397h3v2h-3zM461 401h3v6h-3zM461 431h3v2h-3zM464 337h3v2h-3zM467 219h3v2h-3zM467 443h3v4h-3zM467 451h3v2h-3zM467 455h3v2h-3zM470 67h3v2h-3zM470 199h3v2h-3zM470 219h3v4h-3zM473 133h3v4h-3zM473 139h3v2h-3zM473 223h3v2h-3zM473 447h3v4h-3zM473 453h3v2h-3zM476 149h3v2h-3zM476 161h3v2h-3zM476 165h3v2h-3zM476 219h3v2h-3zM476 223h3v2h-3zM476 301h3v2h-3zM476 447h3v4h-3zM476 463h3v2h-3zM479 103h3v2h-3zM479 127h3v2h-3zM479 131h3v2h-3zM479 221h3v2h-3zM479 277h3v2h-3zM479 313h3v2h-3zM479 347h3v2h-3zM479 353h3v2h-3zM479 405h3v2h-3zM479 523h3v6h-3zM482 165h3v2h-3zM482 201h3v4h-3zM482 361h3v2h-3zM482 375h3v2h-3zM485 219h3v2h-3zM485 407h3v2h-3zM488 73h3v4h-3zM488 167h3v4h-3zM488 205h3v4h-3zM488 223h3v2h-3zM488 335h3v2h-3zM491 73h3v2h-3zM491 129h3v2h-3zM491 215h3v8h-3zM494 161h3v2h-3zM494 221h3v2h-3zM494 261h3v2h-3zM494 265h3v2h-3zM494 277h3v2h-3zM494 425h3v2h-3zM494 469h3v4h-3zM497 129h3v2h-3zM497 221h3v2h-3zM497 287h3v2h-3zM497 325h3v4h-3zM497 343h3v2h-3zM497 511h3v2h-3zM500 223h3v2h-3zM503 109h3v2h-3zM503 221h3v2h-3zM503 279h3v2h-3zM503 385h3v2h-3zM503 411h3v2h-3zM503 531h3v2h-3zM506 255h3v2h-3zM506 423h3v2h-3zM509 73h3v2h-3zM509 213h3v2h-3zM509 295h3v2h-3zM509 319h3v2h-3zM509 337h3v8h-3zM512 219h3v2h-3zM512 225h3v2h-3zM512 295h3v4h-3zM512 445h3v2h-3zM515 121h3v2h-3zM515 125h3v6h-3zM515 379h3v2h-3zM518 223h3v2h-3zM518 391h3v2h-3zM518 419h3v6h-3zM521 85h3v2h-3zM521 199h3v2h-3zM521 273h3v4h-3zM521 303h3v2h-3zM521 517h3v6h-3zM524 401h3v2h-3zM524 529h3v6h-3zM527 281h3v4h-3zM527 299h3v2h-3zM530 223h3v2h-3zM530 323h3v2h-3zM533 225h3v4h-3zM533 461h3v2h-3zM536 227h3v2h-3zM536 413h3v6h-3zM539 141h3v2h-3zM539 221h3v4h-3zM539 241h3v4h-3zM539 247h3v2h-3zM539 367h3v6h-3zM539 445h3v2h-3zM539 489h3v2h-3zM542 285h3v4h-3zM542 461h3v4h-3zM545 217h3v2h-3zM545 325h3v2h-3zM545 399h3v4h-3zM548 489h3v2h-3zM551 357h3v2h-3zM551 457h3v2h-3zM554 397h3v2h-3zM557 83h3v2h-3zM557 87h3v2h-3zM557 221h3v2h-3zM557 481h3v2h-3zM560 95h3v2h-3zM560 399h3v2h-3zM560 405h3v2h-3zM560 409h3v2h-3zM560 509h3v2h-3zM563 91h3v4h-3zM563 305h3v4h-3zM563 429h3v2h-3zM563 477h3v6h-3zM563 491h3v4h-3zM566 123h3v2h-3zM572 373h3v4h-3zM572 379h3v2h-3zM572 433h3v6h-3zM575 77h3v2h-3zM575 111h3v2h-3zM575 229h3v2h-3zM575 315h3v4h-3zM578 415h3v4h-3zM578 473h3v2h-3zM578 491h3v2h-3zM578 501h3v2h-3zM581 307h3v2h-3zM581 355h3v4h-3zM581 417h3v2h-3zM581 473h3v2h-3zM581 477h3v2h-3zM581 489h3v2h-3zM584 485h3v2h-3zM584 489h3v2h-3zM587 71h3v2h-3zM587 99h3v2h-3zM587 115h3v2h-3zM587 271h3v2h-3zM587 449h3v2h-3zM587 467h3v8h-3zM587 535h3v2h-3zM590 321h3v4h-3zM590 489h3v2h-3zM590 493h3v2h-3zM590 499h3v2h-3zM593 179h3v2h-3zM593 271h3v2h-3zM593 351h3v2h-3zM593 487h3v6h-3zM596 325h3v4h-3zM599 445h3v2h-3zM602 487h3v8h-3zM605 423h3v2h-3zM605 485h3v2h-3zM605 489h3v8h-3zM605 499h3v4h-3zM608 321h3v2h-3zM608 481h3v6h-3zM608 495h3v2h-3zM614 219h3v2h-3zM614 293h3v2h-3zM614 427h3v2h-3zM614 431h3v2h-3zM614 487h3v2h-3zM620 65h3v6h-3zM620 423h3v4h-3zM620 481h3v2h-3zM620 485h3v2h-3zM620 503h3v2h-3zM620 511h3v4h-3zM623 75h3v4h-3zM623 81h3v2h-3zM623 155h3v2h-3zM623 277h3v2h-3zM629 237h3v2h-3zM629 285h3v2h-3zM638 391h3v4h-3zM641 167h3v2h-3zM641 205h3v2h-3zM641 217h3v2h-3zM641 221h3v2h-3zM641 283h3v4h-3zM641 289h3v2h-3zM641 485h3v2h-3zM644 331h3v4h-3zM644 479h3v2h-3zM647 223h3v2h-3zM647 227h3v2h-3zM647 497h3v2h-3zM650 129h3v2h-3zM650 357h3v2h-3zM650 451h3v2h-3zM650 485h3v2h-3zM650 489h3v4h-3zM650 495h3v2h-3zM650 507h3v2h-3zM656 281h3v2h-3zM656 381h3v2h-3zM656 447h3v2h-3zM656 483h3v2h-3zM656 489h3v14h-3zM659 263h3v4h-3zM659 269h3v2h-3zM659 491h3v4h-3zM665 75h3v2h-3zM665 119h3v2h-3zM665 403h3v4h-3zM665 489h3v8h-3zM665 501h3v2h-3zM671 485h3v2h-3zM671 495h3v4h-3zM677 59h3v2h-3zM677 65h3v2h-3zM677 117h3v2h-3zM677 125h3v2h-3zM677 133h3v2h-3zM677 137h3v2h-3zM677 143h3v2h-3zM677 147h3v2h-3zM677 155h3v2h-3zM677 171h3v2h-3zM677 191h3v2h-3zM677 195h3v2h-3zM677 199h3v2h-3zM677 209h3v8h-3zM677 219h3v4h-3zM677 227h3v4h-3zM677 243h3v2h-3zM677 261h3v2h-3zM677 271h3v4h-3zM677 279h3v4h-3zM677 285h3v2h-3zM677 293h3v4h-3zM677 299h3v6h-3zM677 315h3v2h-3zM677 329h3v2h-3zM677 335h3v2h-3zM677 351h3v6h-3zM677 359h3v6h-3zM677 369h3v2h-3zM677 373h3v4h-3zM677 381h3v2h-3zM677 387h3v4h-3zM677 395h3v2h-3zM677 405h3v2h-3zM677 409h3v2h-3zM677 413h3v2h-3zM677 419h3v2h-3zM677 451h3v4h-3zM677 463h3v2h-3zM677 473h3v2h-3zM677 477h3v2h-3zM677 507h3v2h-3zM677 515h3v2h-3zM677 521h3v2h-3zM677 531h3v2h-3zM677 535h3v2h-3zM680 115h3v2h-3zM680 189h3v4h-3zM683 239h3v2h-3zM683 381h3v2h-3zM683 489h3v12h-3zM686 261h3v4h-3zM686 485h3v18h-3zM689 245h3v2h-3zM689 493h3v10h-3zM692 395h3v2h-3zM692 487h3v4h-3zM692 499h3v4h-3zM695 367h3v2h-3zM695 443h3v4h-3zM695 485h3v2h-3zM695 499h3v4h-3zM698 63h3v2h-3zM698 195h3v2h-3zM698 253h3v2h-3zM698 337h3v2h-3zM698 405h3v6h-3zM698 487h3v4h-3zM698 499h3v2h-3zM701 157h3v6h-3zM701 481h3v10h-3zM701 501h3v2h-3zM704 497h3v6h-3zM707 191h3v2h-3zM707 497h3v6h-3zM710 495h3v8h-3zM713 67h3v4h-3zM713 127h3v8h-3zM713 153h3v2h-3zM713 195h3v2h-3zM713 273h3v2h-3zM713 337h3v2h-3zM713 387h3v4h-3zM713 409h3v4h-3zM713 423h3v2h-3zM713 479h3v6h-3zM713 487h3v6h-3zM716 155h3v2h-3zM716 159h3v2h-3zM716 189h3v4h-3zM716 257h3v6h-3zM716 283h3v2h-3zM716 439h3v2h-3zM716 457h3v2h-3zM716 501h3v2h-3zM719 141h3v2h-3zM719 489h3v14h-3zM722 479h3v6h-3zM722 487h3v4h-3zM722 493h3v10h-3zM725 245h3v4h-3zM725 489h3v10h-3zM725 501h3v2h-3zM725 511h3v2h-3zM728 433h3v2h-3zM728 491h3v8h-3zM731 479h3v10h-3zM731 491h3v4h-3zM731 497h3v6h-3zM734 101h3v6h-3zM734 151h3v2h-3zM734 155h3v4h-3zM734 169h3v4h-3zM734 181h3v4h-3zM734 249h3v2h-3zM734 309h3v2h-3zM734 443h3v4h-3zM734 461h3v2h-3zM734 489h3v2h-3zM734 495h3v6h-3zM737 203h3v2h-3zM737 389h3v2h-3zM737 393h3v2h-3zM737 493h3v2h-3zM740 125h3v4h-3zM740 233h3v2h-3zM740 443h3v4h-3zM740 485h3v2h-3zM740 489h3v2h-3zM740 499h3v4h-3zM743 379h3v2h-3zM743 461h3v2h-3zM743 467h3v2h-3zM743 487h3v2h-3zM743 491h3v2h-3zM746 63h3v2h-3zM746 149h3v2h-3zM746 153h3v2h-3zM746 289h3v2h-3zM746 293h3v2h-3zM746 305h3v2h-3zM746 387h3v2h-3zM746 429h3v2h-3zM746 487h3v8h-3zM749 65h3v4h-3zM749 221h3v2h-3zM749 487h3v2h-3zM749 491h3v12h-3zM752 69h3v2h-3zM752 337h3v2h-3zM752 485h3v4h-3zM752 535h3v2h-3zM755 255h3v8h-3zM755 447h3v2h-3zM755 489h3v10h-3zM758 481h3v4h-3zM758 495h3v4h-3zM758 509h3v4h-3zM761 91h3v2h-3zM761 205h3v6h-3zM761 497h3v4h-3zM764 485h3v14h-3zM764 501h3v4h-3zM770 221h3v4h-3zM770 447h3v2h-3zM770 491h3v12h-3zM770 513h3v4h-3zM773 215h3v2h-3zM773 273h3v2h-3zM773 279h3v2h-3zM773 325h3v2h-3zM773 497h3v6h-3zM776 115h3v2h-3zM776 169h3v2h-3zM776 485h3v12h-3z" fill="#240000"/>
<path d="M68 89h3v2h-3zM77 265h3v2h-3zM86 117h3v2h-3zM92 243h3v2h-3zM98 333h3v2h-3zM98 533h3v2h-3zM104 151h3v2h-3zM107 455h3v2h-3zM110 253h3v2h-3zM110 303h3v2h-3zM131 149h3v2h-3zM137 117h3v2h-3zM137 219h3v2h-3zM149 97h3v2h-3zM149 437h3v2h-3zM152 363h3v2h-3zM158 139h3v2h-3zM161 141h3v2h-3zM167 171h3v2h-3zM179 147h3v2h-3zM188 435h3v2h-3zM191 251h3v2h-3zM194 215h3v2h-3zM194 245h3v2h-3zM194 303h3v4h-3zM194 427h3v2h-3zM197 125h3v2h-3zM200 419h3v2h-3zM215 77h3v2h-3zM215 303h3v2h-3zM218 467h3v2h-3zM227 143h3v2h-3zM227 167h3v2h-3zM233 455h3v2h-3zM236 127h3v2h-3zM236 183h3v2h-3zM236 337h3v2h-3zM236 391h3v2h-3zM242 281h3v2h-3zM242 321h3v2h-3zM245 525h3v2h-3zM251 69h3v2h-3zM263 177h3v2h-3zM272 89h3v2h-3zM278 377h3v2h-3zM281 435h3v4h-3zM293 81h3v2h-3zM299 231h3v2h-3zM299 445h3v2h-3zM305 409h3v2h-3zM317 93h3v2h-3zM317 139h3v2h-3zM317 143h3v2h-3zM326 191h3v2h-3zM326 385h3v2h-3zM329 503h3v2h-3zM335 79h3v2h-3zM338 347h3v2h-3zM341 247h3v2h-3zM350 77h3v2h-3zM350 111h3v2h-3zM350 205h3v2h-3zM350 233h3v2h-3zM350 293h3v2h-3zM362 147h3v2h-3zM365 519h3v2h-3zM368 305h3v2h-3zM368 471h3v2h-3zM368 479h3v2h-3zM386 219h3v2h-3zM404 99h3v2h-3zM407 377h3v2h-3zM407 503h3v2h-3zM413 505h3v4h-3zM419 253h3v2h-3zM425 377h3v2h-3zM437 171h3v2h-3zM440 117h3v2h-3zM440 221h3v2h-3zM443 479h3v2h-3zM452 137h3v2h-3zM452 141h3v2h-3zM452 207h3v2h-3zM467 339h3v2h-3zM479 125h3v2h-3zM479 129h3v2h-3zM479 345h3v2h-3zM482 77h3v2h-3zM485 221h3v2h-3zM494 271h3v2h-3zM497 219h3v2h-3zM497 329h3v2h-3zM509 75h3v2h-3zM512 443h3v2h-3zM521 301h3v2h-3zM524 509h3v2h-3zM533 221h3v2h-3zM539 245h3v2h-3zM542 223h3v2h-3zM542 459h3v2h-3zM551 61h3v2h-3zM572 503h3v2h-3zM578 499h3v2h-3zM581 305h3v2h-3zM581 353h3v2h-3zM581 493h3v2h-3zM590 495h3v2h-3zM590 501h3v2h-3zM593 499h3v4h-3zM602 497h3v4h-3zM605 487h3v2h-3zM605 497h3v2h-3zM614 479h3v4h-3zM617 389h3v2h-3zM620 501h3v2h-3zM650 183h3v2h-3zM650 493h3v2h-3zM656 523h3v2h-3zM665 115h3v2h-3zM665 487h3v2h-3zM665 497h3v4h-3zM677 153h3v2h-3zM677 283h3v2h-3zM677 287h3v2h-3zM677 309h3v2h-3zM677 461h3v2h-3zM692 491h3v2h-3zM695 441h3v2h-3zM710 491h3v4h-3zM713 485h3v2h-3zM716 157h3v2h-3zM725 499h3v2h-3zM734 153h3v2h-3zM734 491h3v4h-3zM743 299h3v2h-3zM746 311h3v2h-3zM746 431h3v2h-3zM746 485h3v2h-3zM749 489h3v2h-3zM752 71h3v2h-3zM758 513h3v2h-3zM761 85h3v2h-3zM761 495h3v2h-3zM764 481h3v4h-3zM764 499h3v2h-3zM770 489h3v2h-3zM770 517h3v2h-3zM776 431h3v2h-3z" fill="#2a0000"/>
<path d="M68 91h3v2h-3zM68 199h3v2h-3zM68 233h3v4h-3zM68 373h3v2h-3zM68 389h3v4h-3zM71 157h3v2h-3zM71 359h3v2h-3zM71 509h3v2h-3zM71 521h3v2h-3zM77 263h3v2h-3zM86 221h3v4h-3zM86 507h3v4h-3zM95 135h3v2h-3zM95 185h3v2h-3zM95 243h3v4h-3zM95 249h3v4h-3zM95 297h3v4h-3zM95 347h3v2h-3zM95 393h3v4h-3zM98 73h3v2h-3zM98 93h3v2h-3zM98 97h3v2h-3zM98 369h3v6h-3zM98 531h3v2h-3zM101 71h3v2h-3zM101 519h3v2h-3zM104 105h3v2h-3zM104 109h3v4h-3zM107 113h3v2h-3zM107 239h3v2h-3zM107 277h3v2h-3zM107 299h3v4h-3zM107 331h3v2h-3zM107 423h3v2h-3zM107 523h3v2h-3zM107 527h3v2h-3zM110 305h3v2h-3zM110 389h3v8h-3zM113 169h3v4h-3zM113 419h3v2h-3zM116 83h3v2h-3zM119 69h3v2h-3zM119 73h3v2h-3zM119 187h3v6h-3zM119 227h3v2h-3zM122 207h3v2h-3zM122 333h3v2h-3zM134 205h3v2h-3zM134 237h3v8h-3zM134 289h3v4h-3zM134 295h3v6h-3zM134 373h3v6h-3zM134 515h3v2h-3zM137 119h3v2h-3zM140 109h3v4h-3zM140 161h3v2h-3zM140 359h3v4h-3zM140 375h3v2h-3zM140 379h3v4h-3zM143 123h3v2h-3zM143 133h3v4h-3zM143 343h3v2h-3zM143 425h3v4h-3zM146 415h3v2h-3zM146 419h3v2h-3zM149 93h3v4h-3zM149 167h3v2h-3zM149 177h3v2h-3zM149 189h3v2h-3zM149 269h3v2h-3zM149 289h3v6h-3zM149 363h3v2h-3zM149 367h3v10h-3zM149 525h3v6h-3zM152 61h3v2h-3zM152 83h3v2h-3zM152 125h3v2h-3zM152 175h3v2h-3zM152 183h3v4h-3zM152 313h3v6h-3zM152 333h3v4h-3zM152 341h3v2h-3zM155 515h3v4h-3zM158 97h3v2h-3zM158 137h3v2h-3zM161 277h3v2h-3zM164 95h3v2h-3zM164 187h3v4h-3zM164 257h3v2h-3zM164 261h3v2h-3zM167 271h3v2h-3zM170 147h3v4h-3zM170 167h3v2h-3zM170 267h3v2h-3zM173 265h3v2h-3zM176 89h3v4h-3zM176 421h3v2h-3zM179 135h3v6h-3zM179 149h3v4h-3zM179 263h3v2h-3zM179 353h3v8h-3zM179 527h3v2h-3zM182 257h3v2h-3zM182 461h3v2h-3zM185 69h3v2h-3zM185 125h3v4h-3zM185 233h3v2h-3zM185 255h3v2h-3zM185 327h3v2h-3zM185 397h3v2h-3zM185 419h3v2h-3zM185 451h3v2h-3zM188 107h3v2h-3zM188 229h3v2h-3zM188 253h3v2h-3zM188 429h3v2h-3zM188 433h3v2h-3zM188 457h3v4h-3zM191 133h3v4h-3zM191 159h3v2h-3zM191 197h3v8h-3zM191 247h3v2h-3zM191 267h3v4h-3zM191 363h3v2h-3zM191 367h3v2h-3zM191 463h3v2h-3zM194 307h3v2h-3zM194 429h3v2h-3zM194 457h3v2h-3zM200 219h3v2h-3zM200 235h3v6h-3zM200 245h3v2h-3zM200 365h3v2h-3zM200 369h3v2h-3zM200 373h3v2h-3zM200 421h3v4h-3zM200 465h3v2h-3zM203 77h3v2h-3zM203 83h3v2h-3zM203 241h3v2h-3zM203 453h3v2h-3zM206 227h3v2h-3zM206 461h3v2h-3zM209 231h3v2h-3zM209 443h3v8h-3zM209 459h3v2h-3zM215 71h3v2h-3zM215 219h3v2h-3zM215 293h3v2h-3zM215 299h3v2h-3zM215 331h3v2h-3zM215 407h3v2h-3zM215 457h3v2h-3zM218 213h3v2h-3zM218 465h3v2h-3zM218 485h3v2h-3zM221 137h3v2h-3zM221 219h3v2h-3zM221 227h3v2h-3zM221 279h3v2h-3zM221 283h3v2h-3zM221 409h3v2h-3zM221 467h3v2h-3zM221 473h3v2h-3zM224 389h3v2h-3zM224 393h3v2h-3zM224 469h3v2h-3zM227 169h3v2h-3zM227 193h3v2h-3zM227 219h3v2h-3zM227 387h3v2h-3zM227 443h3v2h-3zM227 473h3v4h-3zM227 521h3v2h-3zM230 99h3v4h-3zM230 191h3v2h-3zM230 467h3v4h-3zM233 155h3v6h-3zM233 427h3v4h-3zM233 529h3v8h-3zM236 131h3v2h-3zM236 173h3v2h-3zM236 179h3v2h-3zM236 465h3v2h-3zM239 169h3v2h-3zM239 465h3v2h-3zM242 63h3v2h-3zM242 67h3v2h-3zM242 89h3v6h-3zM242 195h3v4h-3zM242 201h3v2h-3zM242 207h3v2h-3zM242 337h3v2h-3zM242 375h3v2h-3zM245 137h3v2h-3zM245 141h3v2h-3zM245 155h3v2h-3zM245 165h3v2h-3zM245 405h3v4h-3zM245 463h3v4h-3zM245 469h3v4h-3zM245 517h3v4h-3zM248 155h3v4h-3zM248 269h3v6h-3zM248 277h3v2h-3zM248 283h3v2h-3zM248 427h3v2h-3zM251 99h3v2h-3zM251 143h3v2h-3zM251 149h3v2h-3zM251 167h3v2h-3zM251 239h3v6h-3zM251 469h3v2h-3zM251 509h3v2h-3zM254 79h3v2h-3zM254 441h3v2h-3zM257 67h3v2h-3zM257 137h3v2h-3zM257 141h3v2h-3zM257 271h3v2h-3zM257 355h3v4h-3zM257 387h3v6h-3zM257 467h3v2h-3zM260 129h3v2h-3zM260 465h3v2h-3zM260 469h3v2h-3zM260 473h3v4h-3zM260 525h3v2h-3zM263 135h3v2h-3zM263 173h3v4h-3zM263 349h3v2h-3zM263 465h3v2h-3zM263 483h3v2h-3zM266 115h3v2h-3zM266 123h3v2h-3zM266 213h3v2h-3zM266 311h3v2h-3zM266 395h3v2h-3zM266 473h3v2h-3zM269 289h3v6h-3zM269 429h3v2h-3zM272 97h3v2h-3zM272 181h3v2h-3zM272 193h3v2h-3zM272 223h3v4h-3zM272 275h3v2h-3zM272 283h3v2h-3zM272 393h3v2h-3zM272 479h3v2h-3zM272 483h3v2h-3zM275 523h3v2h-3zM278 147h3v4h-3zM278 153h3v2h-3zM278 439h3v4h-3zM281 101h3v2h-3zM281 365h3v4h-3zM281 425h3v4h-3zM281 453h3v2h-3zM281 465h3v2h-3zM281 525h3v4h-3zM284 239h3v2h-3zM284 383h3v2h-3zM287 93h3v2h-3zM287 167h3v2h-3zM287 173h3v2h-3zM287 257h3v2h-3zM287 261h3v2h-3zM287 329h3v2h-3zM287 357h3v2h-3zM290 135h3v4h-3zM290 329h3v2h-3zM290 419h3v4h-3zM290 425h3v2h-3zM290 507h3v2h-3zM290 523h3v2h-3zM290 529h3v2h-3zM290 535h3v2h-3zM293 65h3v2h-3zM293 87h3v2h-3zM293 171h3v2h-3zM293 175h3v4h-3zM293 341h3v2h-3zM293 345h3v2h-3zM293 455h3v2h-3zM296 79h3v2h-3zM296 83h3v2h-3zM296 87h3v2h-3zM296 99h3v6h-3zM296 107h3v2h-3zM296 477h3v4h-3zM296 485h3v2h-3zM299 97h3v2h-3zM299 225h3v6h-3zM299 469h3v2h-3zM302 107h3v2h-3zM302 111h3v2h-3zM302 267h3v4h-3zM302 273h3v2h-3zM302 325h3v6h-3zM302 421h3v2h-3zM302 443h3v2h-3zM302 479h3v2h-3zM305 405h3v4h-3zM308 61h3v4h-3zM308 77h3v6h-3zM308 197h3v2h-3zM308 373h3v4h-3zM308 527h3v2h-3zM308 531h3v2h-3zM311 93h3v2h-3zM311 147h3v2h-3zM311 307h3v2h-3zM311 433h3v6h-3zM311 463h3v2h-3zM311 503h3v2h-3zM314 477h3v2h-3zM317 95h3v6h-3zM317 141h3v2h-3zM317 399h3v2h-3zM317 457h3v2h-3zM317 471h3v4h-3zM323 71h3v2h-3zM323 75h3v2h-3zM323 189h3v6h-3zM323 207h3v6h-3zM323 221h3v2h-3zM323 463h3v2h-3zM326 115h3v2h-3zM326 119h3v2h-3zM326 503h3v2h-3zM329 229h3v2h-3zM329 439h3v2h-3zM329 483h3v4h-3zM335 85h3v4h-3zM335 203h3v4h-3zM335 503h3v2h-3zM338 313h3v4h-3zM338 503h3v2h-3zM341 91h3v6h-3zM341 105h3v2h-3zM341 175h3v2h-3zM341 249h3v2h-3zM341 347h3v4h-3zM341 363h3v4h-3zM341 425h3v2h-3zM341 479h3v4h-3zM344 177h3v2h-3zM344 187h3v2h-3zM344 423h3v2h-3zM344 507h3v4h-3zM347 355h3v2h-3zM347 379h3v2h-3zM347 395h3v6h-3zM347 491h3v2h-3zM347 503h3v2h-3zM350 117h3v2h-3zM350 159h3v2h-3zM350 163h3v4h-3zM350 295h3v6h-3zM350 325h3v2h-3zM350 469h3v4h-3zM350 475h3v2h-3zM350 483h3v2h-3zM353 503h3v2h-3zM356 85h3v2h-3zM356 173h3v6h-3zM356 417h3v2h-3zM362 149h3v4h-3zM362 389h3v4h-3zM365 481h3v8h-3zM365 523h3v2h-3zM368 67h3v2h-3zM368 95h3v4h-3zM368 121h3v2h-3zM368 307h3v6h-3zM368 327h3v2h-3zM368 331h3v4h-3zM368 481h3v4h-3zM368 487h3v2h-3zM368 491h3v2h-3zM371 445h3v2h-3zM374 67h3v4h-3zM377 115h3v2h-3zM377 275h3v4h-3zM377 327h3v2h-3zM383 261h3v2h-3zM386 287h3v8h-3zM386 535h3v2h-3zM392 149h3v4h-3zM392 251h3v4h-3zM392 379h3v2h-3zM392 485h3v2h-3zM395 503h3v2h-3zM398 381h3v2h-3zM401 229h3v4h-3zM404 225h3v2h-3zM404 229h3v2h-3zM404 233h3v2h-3zM407 229h3v4h-3zM410 223h3v4h-3zM410 231h3v2h-3zM410 269h3v2h-3zM413 71h3v2h-3zM413 153h3v4h-3zM413 229h3v2h-3zM413 325h3v2h-3zM413 481h3v4h-3zM413 503h3v2h-3zM413 509h3v2h-3zM416 89h3v6h-3zM416 123h3v2h-3zM416 171h3v2h-3zM416 219h3v2h-3zM416 229h3v2h-3zM416 259h3v2h-3zM419 99h3v6h-3zM419 197h3v2h-3zM419 221h3v2h-3zM419 225h3v2h-3zM419 279h3v4h-3zM422 95h3v6h-3zM422 161h3v2h-3zM422 225h3v2h-3zM425 375h3v2h-3zM425 425h3v4h-3zM428 221h3v2h-3zM428 225h3v2h-3zM428 339h3v2h-3zM428 451h3v2h-3zM428 455h3v2h-3zM428 507h3v2h-3zM431 359h3v2h-3zM434 221h3v2h-3zM434 339h3v2h-3zM434 481h3v2h-3zM437 173h3v2h-3zM437 187h3v2h-3zM437 191h3v2h-3zM437 223h3v2h-3zM437 357h3v2h-3zM440 317h3v2h-3zM443 147h3v2h-3zM443 221h3v2h-3zM443 301h3v8h-3zM443 355h3v4h-3zM443 481h3v8h-3zM443 509h3v2h-3zM443 531h3v2h-3zM443 535h3v2h-3zM446 87h3v2h-3zM446 139h3v4h-3zM446 219h3v2h-3zM446 491h3v2h-3zM446 495h3v2h-3zM449 219h3v2h-3zM449 259h3v2h-3zM449 349h3v2h-3zM449 393h3v2h-3zM449 401h3v2h-3zM449 453h3v2h-3zM449 521h3v2h-3zM452 217h3v2h-3zM452 223h3v2h-3zM452 279h3v2h-3zM452 283h3v2h-3zM452 457h3v2h-3zM452 465h3v8h-3zM452 481h3v2h-3zM455 207h3v2h-3zM455 219h3v2h-3zM458 219h3v6h-3zM461 141h3v4h-3zM461 219h3v2h-3zM461 433h3v2h-3zM461 477h3v2h-3zM464 219h3v4h-3zM464 333h3v4h-3zM467 221h3v2h-3zM467 341h3v2h-3zM467 453h3v2h-3zM470 223h3v2h-3zM473 137h3v2h-3zM473 221h3v2h-3zM476 159h3v2h-3zM476 193h3v8h-3zM476 221h3v2h-3zM476 255h3v4h-3zM476 381h3v6h-3zM479 75h3v2h-3zM479 79h3v2h-3zM479 85h3v2h-3zM479 219h3v2h-3zM479 223h3v2h-3zM479 243h3v2h-3zM479 349h3v4h-3zM479 467h3v2h-3zM479 491h3v2h-3zM479 499h3v4h-3zM482 163h3v2h-3zM482 219h3v4h-3zM482 381h3v2h-3zM482 535h3v2h-3zM488 171h3v4h-3zM488 203h3v2h-3zM488 221h3v2h-3zM488 265h3v6h-3zM488 297h3v2h-3zM491 141h3v4h-3zM491 495h3v2h-3zM491 499h3v2h-3zM491 521h3v2h-3zM494 223h3v2h-3zM494 263h3v2h-3zM494 275h3v2h-3zM494 467h3v2h-3zM494 483h3v4h-3zM494 489h3v8h-3zM497 99h3v2h-3zM497 243h3v2h-3zM497 323h3v2h-3zM497 345h3v2h-3zM497 381h3v2h-3zM497 385h3v2h-3zM497 399h3v4h-3zM497 509h3v2h-3zM500 159h3v8h-3zM500 219h3v2h-3zM500 291h3v2h-3zM500 295h3v2h-3zM500 489h3v2h-3zM500 495h3v8h-3zM503 105h3v2h-3zM503 111h3v2h-3zM503 151h3v4h-3zM503 219h3v2h-3zM503 369h3v2h-3zM503 383h3v2h-3zM503 387h3v2h-3zM506 219h3v2h-3zM506 223h3v2h-3zM509 221h3v2h-3zM509 225h3v2h-3zM509 489h3v2h-3zM509 503h3v2h-3zM512 221h3v2h-3zM512 487h3v6h-3zM512 499h3v4h-3zM515 123h3v2h-3zM515 225h3v2h-3zM515 301h3v2h-3zM515 347h3v4h-3zM515 377h3v2h-3zM515 513h3v2h-3zM518 225h3v2h-3zM518 373h3v4h-3zM518 387h3v4h-3zM518 429h3v4h-3zM518 499h3v4h-3zM521 247h3v4h-3zM521 253h3v2h-3zM521 277h3v2h-3zM521 487h3v2h-3zM521 495h3v2h-3zM521 499h3v4h-3zM521 523h3v2h-3zM524 75h3v2h-3zM524 329h3v2h-3zM524 483h3v10h-3zM524 497h3v6h-3zM524 507h3v2h-3zM527 225h3v2h-3zM527 347h3v2h-3zM530 483h3v10h-3zM530 499h3v2h-3zM533 483h3v12h-3zM533 499h3v4h-3zM536 223h3v2h-3zM536 419h3v2h-3zM536 493h3v2h-3zM536 497h3v2h-3zM536 501h3v2h-3zM539 225h3v2h-3zM539 373h3v2h-3zM539 491h3v2h-3zM542 221h3v2h-3zM542 405h3v6h-3zM545 221h3v2h-3zM548 487h3v2h-3zM548 491h3v12h-3zM551 493h3v2h-3zM551 499h3v2h-3zM554 221h3v2h-3zM554 487h3v4h-3zM554 493h3v2h-3zM557 219h3v2h-3zM557 501h3v2h-3zM560 505h3v4h-3zM563 145h3v2h-3zM563 483h3v6h-3zM563 495h3v2h-3zM563 499h3v2h-3zM566 489h3v4h-3zM566 499h3v2h-3zM569 499h3v4h-3zM572 487h3v4h-3zM572 499h3v4h-3zM575 489h3v2h-3zM575 499h3v2h-3zM578 217h3v2h-3zM578 419h3v2h-3zM578 485h3v6h-3zM584 487h3v2h-3zM584 491h3v2h-3zM584 495h3v8h-3zM587 117h3v6h-3zM587 225h3v2h-3zM587 273h3v2h-3zM587 291h3v2h-3zM587 295h3v2h-3zM587 489h3v2h-3zM587 493h3v2h-3zM587 499h3v2h-3zM590 177h3v8h-3zM590 375h3v2h-3zM593 175h3v4h-3zM593 225h3v2h-3zM593 353h3v2h-3zM596 481h3v8h-3zM596 495h3v2h-3zM596 499h3v4h-3zM599 479h3v10h-3zM614 295h3v2h-3zM614 357h3v2h-3zM620 499h3v2h-3zM623 157h3v2h-3zM629 207h3v2h-3zM632 323h3v6h-3zM632 475h3v4h-3zM635 189h3v2h-3zM638 85h3v2h-3zM641 207h3v2h-3zM641 215h3v2h-3zM641 219h3v2h-3zM641 287h3v2h-3zM644 439h3v2h-3zM644 475h3v4h-3zM644 485h3v8h-3zM647 221h3v2h-3zM647 225h3v2h-3zM647 485h3v12h-3zM647 499h3v4h-3zM650 449h3v2h-3zM650 497h3v6h-3zM650 505h3v2h-3zM653 489h3v14h-3zM656 321h3v4h-3zM656 383h3v6h-3zM656 511h3v2h-3zM659 481h3v10h-3zM659 495h3v8h-3zM662 489h3v14h-3zM665 117h3v2h-3zM665 143h3v2h-3zM668 133h3v2h-3zM668 147h3v2h-3zM668 491h3v12h-3zM671 169h3v4h-3zM671 451h3v2h-3zM671 503h3v2h-3zM671 507h3v2h-3zM674 221h3v8h-3zM674 477h3v26h-3zM677 75h3v2h-3zM677 81h3v2h-3zM677 135h3v2h-3zM677 139h3v4h-3zM677 161h3v2h-3zM677 167h3v2h-3zM677 173h3v2h-3zM677 203h3v2h-3zM677 235h3v2h-3zM677 259h3v2h-3zM677 305h3v2h-3zM677 317h3v4h-3zM677 327h3v2h-3zM677 349h3v2h-3zM677 377h3v2h-3zM677 421h3v2h-3zM677 435h3v2h-3zM677 443h3v2h-3zM677 455h3v2h-3zM677 501h3v4h-3zM677 529h3v2h-3zM680 93h3v2h-3zM680 473h3v30h-3zM686 83h3v2h-3zM686 483h3v2h-3zM695 385h3v6h-3zM695 399h3v2h-3zM695 417h3v4h-3zM695 531h3v2h-3zM698 185h3v4h-3zM698 191h3v4h-3zM698 197h3v2h-3zM698 203h3v8h-3zM698 403h3v2h-3zM698 417h3v2h-3zM698 421h3v2h-3zM701 163h3v2h-3zM701 479h3v2h-3zM701 491h3v10h-3zM707 221h3v2h-3zM707 327h3v2h-3zM707 331h3v4h-3zM707 345h3v2h-3zM707 403h3v2h-3zM707 489h3v8h-3zM713 81h3v8h-3zM713 155h3v2h-3zM713 275h3v2h-3zM713 417h3v6h-3zM713 445h3v2h-3zM713 499h3v4h-3zM716 255h3v2h-3zM716 487h3v6h-3zM716 497h3v4h-3zM719 139h3v2h-3zM719 143h3v2h-3zM719 263h3v2h-3zM725 249h3v4h-3zM728 499h3v4h-3zM734 107h3v4h-3zM734 173h3v2h-3zM734 243h3v6h-3zM734 341h3v2h-3zM737 71h3v4h-3zM737 387h3v2h-3zM737 391h3v2h-3zM737 397h3v2h-3zM737 483h3v10h-3zM737 495h3v8h-3zM737 505h3v6h-3zM743 489h3v2h-3zM743 495h3v8h-3zM746 65h3v6h-3zM746 255h3v4h-3zM746 307h3v2h-3zM746 389h3v6h-3zM746 427h3v2h-3zM746 461h3v2h-3zM746 495h3v2h-3zM746 499h3v2h-3zM746 531h3v2h-3zM752 65h3v4h-3zM752 85h3v4h-3zM752 271h3v2h-3zM752 493h3v4h-3zM758 479h3v2h-3zM758 493h3v2h-3zM758 499h3v4h-3zM761 87h3v4h-3zM761 491h3v4h-3zM761 501h3v2h-3zM764 149h3v4h-3zM767 489h3v14h-3zM773 213h3v2h-3zM773 217h3v2h-3zM776 173h3v2h-3zM776 433h3v2h-3z" fill="#300000"/>
<path d="M68 139h3v2h-3zM68 229h3v4h-3zM68 371h3v2h-3zM71 77h3v2h-3zM71 159h3v2h-3zM95 137h3v2h-3zM95 157h3v2h-3zM95 181h3v4h-3zM95 187h3v2h-3zM95 253h3v2h-3zM95 323h3v6h-3zM95 435h3v6h-3zM95 507h3v2h-3zM95 521h3v2h-3zM98 335h3v2h-3zM101 507h3v2h-3zM107 115h3v4h-3zM107 275h3v2h-3zM107 329h3v2h-3zM107 333h3v2h-3zM107 387h3v4h-3zM107 417h3v4h-3zM110 163h3v2h-3zM110 181h3v4h-3zM113 379h3v2h-3zM113 415h3v4h-3zM113 507h3v2h-3zM119 71h3v2h-3zM119 75h3v2h-3zM122 331h3v2h-3zM122 335h3v2h-3zM128 507h3v2h-3zM134 253h3v2h-3zM134 301h3v2h-3zM134 317h3v6h-3zM134 393h3v2h-3zM134 397h3v2h-3zM134 407h3v2h-3zM140 511h3v2h-3zM149 155h3v2h-3zM149 165h3v2h-3zM149 179h3v4h-3zM149 265h3v2h-3zM149 313h3v2h-3zM149 341h3v4h-3zM173 355h3v2h-3zM176 203h3v2h-3zM176 271h3v4h-3zM179 265h3v4h-3zM179 397h3v2h-3zM185 123h3v2h-3zM185 231h3v2h-3zM185 325h3v2h-3zM188 103h3v4h-3zM191 131h3v2h-3zM191 137h3v6h-3zM191 249h3v2h-3zM191 469h3v2h-3zM191 479h3v2h-3zM194 459h3v2h-3zM203 235h3v2h-3zM203 467h3v2h-3zM203 475h3v2h-3zM206 237h3v2h-3zM212 219h3v2h-3zM212 465h3v2h-3zM215 295h3v4h-3zM215 409h3v2h-3zM215 459h3v2h-3zM215 469h3v2h-3zM215 475h3v2h-3zM218 201h3v2h-3zM218 205h3v2h-3zM218 211h3v2h-3zM218 469h3v4h-3zM218 479h3v2h-3zM218 483h3v2h-3zM221 141h3v2h-3zM221 205h3v2h-3zM221 221h3v6h-3zM221 281h3v2h-3zM221 351h3v2h-3zM221 469h3v2h-3zM224 471h3v2h-3zM227 255h3v2h-3zM227 259h3v4h-3zM227 395h3v2h-3zM227 477h3v2h-3zM230 189h3v2h-3zM230 477h3v4h-3zM230 507h3v2h-3zM233 181h3v2h-3zM233 399h3v2h-3zM236 175h3v2h-3zM239 171h3v2h-3zM242 61h3v2h-3zM242 65h3v2h-3zM242 167h3v2h-3zM242 173h3v2h-3zM242 209h3v2h-3zM242 225h3v2h-3zM242 335h3v2h-3zM242 461h3v2h-3zM242 475h3v2h-3zM242 517h3v2h-3zM245 521h3v2h-3zM248 147h3v2h-3zM248 267h3v2h-3zM248 429h3v2h-3zM248 465h3v4h-3zM248 475h3v2h-3zM248 479h3v2h-3zM248 507h3v2h-3zM251 151h3v2h-3zM254 145h3v2h-3zM254 467h3v2h-3zM257 129h3v4h-3zM257 135h3v2h-3zM260 477h3v4h-3zM263 119h3v2h-3zM263 123h3v2h-3zM263 133h3v2h-3zM263 471h3v4h-3zM263 479h3v2h-3zM263 485h3v2h-3zM266 125h3v2h-3zM266 295h3v2h-3zM266 307h3v2h-3zM266 469h3v2h-3zM266 507h3v2h-3zM269 113h3v2h-3zM269 463h3v2h-3zM269 507h3v2h-3zM272 107h3v2h-3zM272 117h3v2h-3zM272 123h3v2h-3zM272 179h3v2h-3zM272 191h3v2h-3zM272 195h3v4h-3zM272 251h3v4h-3zM272 281h3v2h-3zM272 395h3v2h-3zM275 473h3v2h-3zM278 151h3v2h-3zM278 463h3v2h-3zM281 79h3v2h-3zM281 363h3v2h-3zM281 369h3v2h-3zM281 455h3v2h-3zM281 507h3v2h-3zM281 523h3v2h-3zM284 83h3v2h-3zM284 89h3v2h-3zM284 469h3v12h-3zM284 483h3v2h-3zM284 507h3v2h-3zM287 89h3v2h-3zM287 169h3v4h-3zM287 259h3v2h-3zM287 263h3v2h-3zM290 89h3v2h-3zM290 423h3v2h-3zM290 521h3v2h-3zM290 531h3v4h-3zM293 457h3v2h-3zM293 467h3v2h-3zM293 485h3v2h-3zM296 85h3v2h-3zM299 91h3v6h-3zM299 481h3v2h-3zM299 505h3v2h-3zM302 271h3v2h-3zM302 317h3v2h-3zM308 59h3v2h-3zM308 199h3v2h-3zM311 149h3v2h-3zM311 371h3v2h-3zM311 439h3v2h-3zM311 461h3v2h-3zM314 503h3v2h-3zM317 475h3v2h-3zM317 481h3v2h-3zM320 485h3v2h-3zM320 503h3v2h-3zM323 69h3v2h-3zM332 503h3v2h-3zM335 483h3v8h-3zM338 189h3v2h-3zM338 311h3v2h-3zM341 107h3v2h-3zM341 173h3v2h-3zM341 177h3v2h-3zM341 327h3v4h-3zM341 351h3v4h-3zM344 317h3v2h-3zM344 425h3v4h-3zM344 503h3v2h-3zM344 511h3v2h-3zM350 145h3v4h-3zM350 161h3v2h-3zM350 473h3v2h-3zM350 503h3v2h-3zM356 179h3v2h-3zM368 119h3v2h-3zM368 123h3v2h-3zM368 455h3v2h-3zM368 473h3v6h-3zM371 441h3v2h-3zM377 117h3v2h-3zM383 503h3v2h-3zM392 153h3v2h-3zM392 487h3v2h-3zM398 491h3v8h-3zM413 67h3v4h-3zM413 199h3v2h-3zM416 169h3v2h-3zM416 173h3v2h-3zM416 217h3v2h-3zM416 221h3v2h-3zM416 261h3v2h-3zM416 323h3v2h-3zM416 385h3v2h-3zM419 63h3v2h-3zM425 227h3v2h-3zM425 485h3v4h-3zM428 337h3v2h-3zM428 503h3v2h-3zM428 509h3v2h-3zM434 483h3v4h-3zM434 493h3v2h-3zM434 501h3v2h-3zM437 169h3v2h-3zM437 189h3v2h-3zM437 499h3v4h-3zM443 145h3v2h-3zM443 505h3v2h-3zM443 533h3v2h-3zM446 437h3v4h-3zM446 489h3v2h-3zM446 497h3v6h-3zM449 59h3v2h-3zM449 65h3v2h-3zM452 277h3v2h-3zM452 281h3v2h-3zM452 483h3v2h-3zM452 491h3v12h-3zM458 487h3v14h-3zM467 489h3v4h-3zM473 485h3v8h-3zM473 495h3v2h-3zM473 499h3v4h-3zM476 253h3v2h-3zM476 485h3v8h-3zM476 501h3v2h-3zM479 77h3v2h-3zM479 81h3v2h-3zM479 95h3v4h-3zM479 245h3v4h-3zM479 463h3v4h-3zM479 469h3v2h-3zM479 485h3v2h-3zM479 493h3v2h-3zM482 485h3v2h-3zM482 489h3v2h-3zM482 493h3v4h-3zM482 499h3v4h-3zM488 483h3v4h-3zM488 497h3v2h-3zM491 223h3v2h-3zM491 487h3v8h-3zM491 497h3v2h-3zM494 269h3v2h-3zM494 273h3v2h-3zM494 297h3v4h-3zM494 497h3v6h-3zM494 533h3v4h-3zM497 101h3v2h-3zM497 383h3v2h-3zM497 387h3v2h-3zM497 491h3v2h-3zM497 495h3v8h-3zM500 483h3v6h-3zM503 107h3v2h-3zM503 155h3v4h-3zM503 501h3v2h-3zM506 491h3v10h-3zM509 485h3v4h-3zM509 491h3v4h-3zM515 417h3v2h-3zM515 483h3v6h-3zM515 491h3v2h-3zM515 505h3v4h-3zM515 515h3v4h-3zM518 371h3v2h-3zM518 377h3v2h-3zM518 385h3v2h-3zM518 433h3v4h-3zM521 251h3v2h-3zM521 491h3v4h-3zM524 77h3v2h-3zM527 227h3v2h-3zM527 489h3v2h-3zM527 493h3v6h-3zM527 501h3v2h-3zM530 225h3v2h-3zM530 481h3v2h-3zM536 221h3v2h-3zM536 225h3v2h-3zM536 483h3v6h-3zM536 491h3v2h-3zM539 495h3v4h-3zM539 501h3v2h-3zM542 489h3v6h-3zM542 499h3v4h-3zM545 219h3v2h-3zM545 487h3v16h-3zM548 221h3v2h-3zM551 221h3v2h-3zM551 491h3v2h-3zM554 485h3v2h-3zM554 499h3v4h-3zM557 489h3v2h-3zM557 499h3v2h-3zM560 489h3v2h-3zM560 499h3v6h-3zM566 495h3v2h-3zM587 293h3v2h-3zM587 501h3v2h-3zM596 479h3v2h-3zM596 491h3v2h-3zM599 489h3v2h-3zM599 501h3v2h-3zM602 485h3v2h-3zM608 217h3v2h-3zM632 329h3v2h-3zM632 479h3v4h-3zM650 415h3v2h-3zM650 529h3v4h-3zM656 429h3v2h-3zM671 449h3v2h-3zM671 487h3v2h-3zM671 505h3v2h-3zM677 77h3v2h-3zM677 159h3v2h-3zM677 165h3v2h-3zM680 91h3v2h-3zM692 493h3v2h-3zM692 497h3v2h-3zM695 235h3v2h-3zM695 487h3v4h-3zM695 495h3v2h-3zM698 159h3v2h-3zM698 189h3v2h-3zM698 215h3v2h-3zM698 419h3v2h-3zM707 187h3v4h-3zM707 329h3v2h-3zM707 397h3v6h-3zM716 493h3v4h-3zM719 265h3v6h-3zM722 491h3v2h-3zM728 489h3v2h-3zM734 111h3v4h-3zM734 501h3v2h-3zM737 67h3v4h-3zM743 493h3v2h-3zM746 205h3v4h-3zM746 309h3v2h-3zM746 463h3v2h-3zM746 497h3v2h-3zM746 501h3v2h-3zM752 267h3v4h-3zM752 273h3v2h-3zM752 499h3v4h-3z" fill="#3c0000"/>
<path d="M68 131h3v2h-3zM68 135h3v4h-3zM68 375h3v2h-3zM95 133h3v2h-3zM95 433h3v2h-3zM104 507h3v2h-3zM107 111h3v2h-3zM107 385h3v2h-3zM107 421h3v2h-3zM110 507h3v2h-3zM116 507h3v2h-3zM134 395h3v2h-3zM149 157h3v2h-3zM149 267h3v2h-3zM167 507h3v2h-3zM173 507h3v2h-3zM179 261h3v2h-3zM179 507h3v2h-3zM182 463h3v2h-3zM188 461h3v2h-3zM191 409h3v2h-3zM191 465h3v2h-3zM191 507h3v2h-3zM203 477h3v2h-3zM206 231h3v2h-3zM206 481h3v4h-3zM206 487h3v4h-3zM206 507h3v2h-3zM209 461h3v2h-3zM212 221h3v2h-3zM212 225h3v2h-3zM215 127h3v4h-3zM215 217h3v2h-3zM215 405h3v2h-3zM215 411h3v2h-3zM215 461h3v2h-3zM215 465h3v4h-3zM215 471h3v4h-3zM218 481h3v2h-3zM221 199h3v2h-3zM224 193h3v4h-3zM227 189h3v4h-3zM227 257h3v2h-3zM227 507h3v2h-3zM230 465h3v2h-3zM230 471h3v2h-3zM230 475h3v2h-3zM230 481h3v4h-3zM233 397h3v2h-3zM233 457h3v2h-3zM236 177h3v2h-3zM236 467h3v2h-3zM239 165h3v2h-3zM239 175h3v2h-3zM242 463h3v4h-3zM242 473h3v2h-3zM248 145h3v2h-3zM248 149h3v4h-3zM248 159h3v2h-3zM248 469h3v2h-3zM248 473h3v2h-3zM251 145h3v4h-3zM251 471h3v4h-3zM257 507h3v2h-3zM260 507h3v2h-3zM263 477h3v2h-3zM263 481h3v2h-3zM266 119h3v2h-3zM269 109h3v2h-3zM269 115h3v4h-3zM269 465h3v2h-3zM269 471h3v2h-3zM272 105h3v2h-3zM272 285h3v2h-3zM272 507h3v2h-3zM275 475h3v2h-3zM275 507h3v2h-3zM278 95h3v2h-3zM278 105h3v2h-3zM278 507h3v2h-3zM281 467h3v2h-3zM281 473h3v2h-3zM284 481h3v2h-3zM287 507h3v2h-3zM290 481h3v2h-3zM293 75h3v2h-3zM293 85h3v2h-3zM293 469h3v2h-3zM293 487h3v2h-3zM296 77h3v2h-3zM296 483h3v2h-3zM299 473h3v2h-3zM299 477h3v4h-3zM302 65h3v2h-3zM302 481h3v2h-3zM305 473h3v2h-3zM308 503h3v2h-3zM317 483h3v2h-3zM317 487h3v2h-3zM317 503h3v2h-3zM323 73h3v2h-3zM341 501h3v4h-3zM356 481h3v2h-3zM356 501h3v2h-3zM359 483h3v4h-3zM362 485h3v16h-3zM371 251h3v2h-3zM374 483h3v4h-3zM377 499h3v2h-3zM380 487h3v2h-3zM380 497h3v2h-3zM380 501h3v2h-3zM398 485h3v6h-3zM398 499h3v4h-3zM410 485h3v18h-3zM413 227h3v2h-3zM419 229h3v2h-3zM425 481h3v4h-3zM425 489h3v14h-3zM428 223h3v2h-3zM428 227h3v2h-3zM428 485h3v2h-3zM434 487h3v6h-3zM434 497h3v4h-3zM437 483h3v16h-3zM440 493h3v10h-3zM443 225h3v2h-3zM443 491h3v2h-3zM446 493h3v2h-3zM449 489h3v12h-3zM452 221h3v2h-3zM452 489h3v2h-3zM458 501h3v2h-3zM461 485h3v2h-3zM461 489h3v6h-3zM461 499h3v4h-3zM464 483h3v10h-3zM464 497h3v6h-3zM467 499h3v4h-3zM470 487h3v8h-3zM470 497h3v4h-3zM479 83h3v2h-3zM479 483h3v2h-3zM479 487h3v4h-3zM482 223h3v2h-3zM482 487h3v2h-3zM485 499h3v4h-3zM488 477h3v2h-3zM488 481h3v2h-3zM488 489h3v2h-3zM488 501h3v2h-3zM494 219h3v2h-3zM494 295h3v2h-3zM497 489h3v2h-3zM497 493h3v2h-3zM503 485h3v10h-3zM503 497h3v4h-3zM506 485h3v6h-3zM506 501h3v2h-3zM509 495h3v2h-3zM515 267h3v2h-3zM515 501h3v2h-3zM518 221h3v2h-3zM536 489h3v2h-3zM551 501h3v2h-3zM560 487h3v2h-3zM599 491h3v2h-3zM644 497h3v2h-3zM650 175h3v2h-3zM650 487h3v2h-3zM653 147h3v2h-3zM656 153h3v2h-3zM659 139h3v2h-3zM665 85h3v2h-3zM671 121h3v2h-3zM671 493h3v2h-3zM674 109h3v2h-3zM677 163h3v2h-3zM677 323h3v2h-3zM677 485h3v4h-3zM680 87h3v4h-3zM680 95h3v2h-3zM692 495h3v2h-3zM695 233h3v2h-3zM695 237h3v2h-3zM695 421h3v2h-3zM695 491h3v4h-3zM695 497h3v2h-3zM713 493h3v2h-3zM713 497h3v2h-3zM728 483h3v6h-3zM746 481h3v2h-3zM752 497h3v2h-3zM776 497h3v6h-3z" fill="#480000"/>
<path d="M98 507h3v2h-3zM122 507h3v2h-3zM140 507h3v2h-3zM161 507h3v2h-3zM170 507h3v2h-3zM185 453h3v2h-3zM191 467h3v2h-3zM191 473h3v4h-3zM194 461h3v2h-3zM194 507h3v2h-3zM197 467h3v2h-3zM197 507h3v2h-3zM203 465h3v2h-3zM203 469h3v2h-3zM203 479h3v2h-3zM206 229h3v2h-3zM206 467h3v2h-3zM206 479h3v2h-3zM206 485h3v2h-3zM209 225h3v2h-3zM209 507h3v2h-3zM212 467h3v2h-3zM212 475h3v2h-3zM212 483h3v2h-3zM215 213h3v2h-3zM215 507h3v2h-3zM218 217h3v2h-3zM218 475h3v2h-3zM221 203h3v2h-3zM221 471h3v2h-3zM221 483h3v2h-3zM224 197h3v6h-3zM224 473h3v2h-3zM227 197h3v2h-3zM227 479h3v2h-3zM230 181h3v2h-3zM230 185h3v2h-3zM233 471h3v2h-3zM233 481h3v4h-3zM236 469h3v2h-3zM239 177h3v2h-3zM239 467h3v2h-3zM242 159h3v4h-3zM242 165h3v2h-3zM242 169h3v2h-3zM242 467h3v2h-3zM242 477h3v2h-3zM245 159h3v2h-3zM248 471h3v2h-3zM248 477h3v2h-3zM251 141h3v2h-3zM254 137h3v4h-3zM260 127h3v2h-3zM260 351h3v2h-3zM263 469h3v2h-3zM263 475h3v2h-3zM263 507h3v2h-3zM266 471h3v2h-3zM266 479h3v2h-3zM269 111h3v2h-3zM269 121h3v2h-3zM269 469h3v2h-3zM275 105h3v2h-3zM275 111h3v2h-3zM275 485h3v2h-3zM278 101h3v2h-3zM278 479h3v2h-3zM281 469h3v2h-3zM281 477h3v4h-3zM287 85h3v2h-3zM287 91h3v2h-3zM290 83h3v2h-3zM290 483h3v2h-3zM293 73h3v2h-3zM293 79h3v2h-3zM296 67h3v2h-3zM299 319h3v2h-3zM302 483h3v2h-3zM305 475h3v4h-3zM305 483h3v2h-3zM314 479h3v2h-3zM317 479h3v2h-3zM317 485h3v2h-3zM317 489h3v2h-3zM320 489h3v2h-3zM326 487h3v4h-3zM329 291h3v2h-3zM329 501h3v2h-3zM335 491h3v8h-3zM341 491h3v10h-3zM344 497h3v4h-3zM347 267h3v2h-3zM356 483h3v6h-3zM359 487h3v16h-3zM362 483h3v2h-3zM362 501h3v2h-3zM365 491h3v6h-3zM371 491h3v4h-3zM371 499h3v2h-3zM374 487h3v6h-3zM374 495h3v8h-3zM377 487h3v12h-3zM377 501h3v2h-3zM380 257h3v2h-3zM380 489h3v8h-3zM380 499h3v2h-3zM383 245h3v2h-3zM386 497h3v6h-3zM389 493h3v2h-3zM389 497h3v6h-3zM392 491h3v4h-3zM392 499h3v4h-3zM398 483h3v2h-3zM401 493h3v4h-3zM404 235h3v2h-3zM407 493h3v6h-3zM413 487h3v8h-3zM413 497h3v2h-3zM413 501h3v2h-3zM416 481h3v4h-3zM416 493h3v10h-3zM419 223h3v2h-3zM419 483h3v2h-3zM419 487h3v6h-3zM419 495h3v8h-3zM428 495h3v2h-3zM428 499h3v4h-3zM431 487h3v12h-3zM431 501h3v2h-3zM434 495h3v2h-3zM443 489h3v2h-3zM443 501h3v4h-3zM449 221h3v2h-3zM449 485h3v4h-3zM449 501h3v2h-3zM452 219h3v2h-3zM455 481h3v22h-3zM461 487h3v2h-3zM467 223h3v2h-3zM473 483h3v2h-3zM476 483h3v2h-3zM485 487h3v2h-3zM485 491h3v2h-3zM488 479h3v2h-3zM488 487h3v2h-3zM497 223h3v2h-3zM503 495h3v2h-3zM506 225h3v2h-3zM509 499h3v2h-3zM515 489h3v2h-3zM554 497h3v2h-3zM578 497h3v2h-3zM599 221h3v2h-3zM653 165h3v2h-3zM656 133h3v2h-3zM656 163h3v2h-3zM662 125h3v2h-3zM665 105h3v2h-3zM665 153h3v2h-3zM671 499h3v2h-3zM674 125h3v2h-3zM677 87h3v2h-3zM677 483h3v2h-3zM677 489h3v12h-3zM680 85h3v2h-3zM713 495h3v2h-3zM746 479h3v2h-3zM752 489h3v4h-3z" fill="#540000"/>
<path d="M92 499h3v2h-3zM92 505h3v2h-3zM107 507h3v2h-3zM119 507h3v2h-3zM131 507h3v2h-3zM134 507h3v2h-3zM176 507h3v2h-3zM179 477h3v2h-3zM182 507h3v2h-3zM185 455h3v2h-3zM185 485h3v2h-3zM185 507h3v2h-3zM188 465h3v4h-3zM188 479h3v2h-3zM188 483h3v2h-3zM191 477h3v2h-3zM194 465h3v2h-3zM194 473h3v2h-3zM200 467h3v4h-3zM200 507h3v2h-3zM203 233h3v2h-3zM206 233h3v2h-3zM206 465h3v2h-3zM206 469h3v2h-3zM206 475h3v4h-3zM212 213h3v2h-3zM212 471h3v2h-3zM212 477h3v2h-3zM212 485h3v2h-3zM212 507h3v2h-3zM215 215h3v2h-3zM215 221h3v2h-3zM218 207h3v2h-3zM218 507h3v2h-3zM224 203h3v2h-3zM224 475h3v2h-3zM224 491h3v2h-3zM227 195h3v2h-3zM230 187h3v2h-3zM230 193h3v2h-3zM233 179h3v2h-3zM233 185h3v6h-3zM236 471h3v2h-3zM239 469h3v2h-3zM239 507h3v2h-3zM242 479h3v2h-3zM242 507h3v2h-3zM245 481h3v2h-3zM248 153h3v2h-3zM251 477h3v6h-3zM254 507h3v2h-3zM260 131h3v2h-3zM263 125h3v2h-3zM269 467h3v2h-3zM269 473h3v4h-3zM275 477h3v2h-3zM275 481h3v2h-3zM278 99h3v2h-3zM278 483h3v2h-3zM290 79h3v2h-3zM293 77h3v2h-3zM293 83h3v2h-3zM296 71h3v2h-3zM299 69h3v2h-3zM299 73h3v2h-3zM302 59h3v2h-3zM302 67h3v2h-3zM305 61h3v2h-3zM305 479h3v2h-3zM314 481h3v4h-3zM323 489h3v14h-3zM326 293h3v2h-3zM326 481h3v6h-3zM326 493h3v6h-3zM326 501h3v2h-3zM329 487h3v6h-3zM332 493h3v2h-3zM332 497h3v2h-3zM332 501h3v2h-3zM335 499h3v4h-3zM341 485h3v2h-3zM341 489h3v2h-3zM344 489h3v8h-3zM353 499h3v4h-3zM356 489h3v2h-3zM365 497h3v6h-3zM368 493h3v2h-3zM368 499h3v4h-3zM371 495h3v4h-3zM371 501h3v2h-3zM374 493h3v2h-3zM386 487h3v10h-3zM389 491h3v2h-3zM389 495h3v2h-3zM392 241h3v2h-3zM392 497h3v2h-3zM395 481h3v6h-3zM401 485h3v2h-3zM401 489h3v4h-3zM401 497h3v6h-3zM404 489h3v4h-3zM407 483h3v10h-3zM407 499h3v4h-3zM413 231h3v2h-3zM413 495h3v2h-3zM413 499h3v2h-3zM416 223h3v2h-3zM419 485h3v2h-3zM419 493h3v2h-3zM422 485h3v4h-3zM422 493h3v2h-3zM428 487h3v2h-3zM428 493h3v2h-3zM428 497h3v2h-3zM431 485h3v2h-3zM443 493h3v8h-3zM452 485h3v2h-3zM461 495h3v4h-3zM500 491h3v4h-3zM509 497h3v2h-3zM572 229h3v2h-3zM620 211h3v2h-3zM626 199h3v2h-3zM635 195h3v2h-3zM644 175h3v2h-3zM659 157h3v2h-3zM671 489h3v4h-3zM677 79h3v2h-3zM677 97h3v2h-3zM680 73h3v4h-3zM680 79h3v6h-3zM746 483h3v2h-3z" fill="#600000"/>
<path d="M92 493h3v2h-3zM95 497h3v2h-3zM110 477h3v2h-3zM146 507h3v2h-3zM149 507h3v2h-3zM176 477h3v2h-3zM182 397h3v2h-3zM182 465h3v2h-3zM182 475h3v2h-3zM185 459h3v2h-3zM188 471h3v2h-3zM188 475h3v4h-3zM188 507h3v2h-3zM194 463h3v2h-3zM194 471h3v2h-3zM194 477h3v2h-3zM197 469h3v4h-3zM203 483h3v2h-3zM203 507h3v2h-3zM206 473h3v2h-3zM218 215h3v2h-3zM221 507h3v2h-3zM224 481h3v4h-3zM224 493h3v2h-3zM233 381h3v2h-3zM233 469h3v2h-3zM236 507h3v2h-3zM239 473h3v2h-3zM242 471h3v2h-3zM245 157h3v2h-3zM248 143h3v2h-3zM251 475h3v2h-3zM251 483h3v2h-3zM254 471h3v4h-3zM257 133h3v2h-3zM263 127h3v4h-3zM272 113h3v2h-3zM275 103h3v2h-3zM278 103h3v2h-3zM278 337h3v2h-3zM278 471h3v4h-3zM278 477h3v2h-3zM281 97h3v4h-3zM281 471h3v2h-3zM284 91h3v2h-3zM284 95h3v2h-3zM284 485h3v2h-3zM296 505h3v2h-3zM299 71h3v2h-3zM302 61h3v4h-3zM305 487h3v2h-3zM305 491h3v2h-3zM305 495h3v2h-3zM317 495h3v2h-3zM320 499h3v2h-3zM326 499h3v2h-3zM329 493h3v2h-3zM338 493h3v4h-3zM341 285h3v2h-3zM341 487h3v2h-3zM347 497h3v6h-3zM350 489h3v10h-3zM353 485h3v8h-3zM356 497h3v4h-3zM368 495h3v4h-3zM383 495h3v6h-3zM392 489h3v2h-3zM392 495h3v2h-3zM395 487h3v12h-3zM401 487h3v2h-3zM404 487h3v2h-3zM404 493h3v10h-3zM413 485h3v2h-3zM422 489h3v4h-3zM422 495h3v8h-3zM428 489h3v4h-3zM431 227h3v2h-3zM461 481h3v2h-3zM509 501h3v2h-3zM521 227h3v2h-3zM521 497h3v2h-3zM524 227h3v2h-3zM524 235h3v2h-3zM560 221h3v2h-3zM560 495h3v4h-3zM635 201h3v2h-3zM671 501h3v2h-3zM677 83h3v2h-3zM677 113h3v2h-3zM680 77h3v2h-3z" fill="#6c0000"/>
<path d="M92 489h3v2h-3zM95 481h3v2h-3zM101 493h3v2h-3zM101 497h3v2h-3zM101 501h3v2h-3zM152 507h3v2h-3zM182 471h3v2h-3zM182 483h3v2h-3zM185 457h3v2h-3zM185 465h3v6h-3zM188 469h3v2h-3zM194 469h3v2h-3zM194 481h3v4h-3zM197 475h3v2h-3zM200 473h3v2h-3zM209 463h3v4h-3zM209 477h3v4h-3zM212 469h3v2h-3zM212 473h3v2h-3zM212 481h3v2h-3zM221 481h3v2h-3zM221 485h3v2h-3zM224 479h3v2h-3zM224 487h3v2h-3zM224 507h3v2h-3zM227 375h3v2h-3zM230 505h3v2h-3zM233 465h3v2h-3zM233 475h3v2h-3zM236 475h3v2h-3zM239 471h3v2h-3zM245 473h3v4h-3zM248 503h3v4h-3zM254 475h3v2h-3zM257 353h3v2h-3zM260 133h3v4h-3zM266 481h3v2h-3zM266 497h3v2h-3zM266 505h3v2h-3zM269 119h3v2h-3zM269 477h3v2h-3zM269 505h3v2h-3zM272 111h3v2h-3zM272 115h3v2h-3zM275 109h3v2h-3zM275 479h3v2h-3zM278 469h3v2h-3zM278 475h3v2h-3zM281 483h3v2h-3zM284 505h3v2h-3zM290 85h3v2h-3zM296 321h3v2h-3zM305 59h3v2h-3zM305 499h3v2h-3zM308 479h3v16h-3zM311 485h3v4h-3zM311 499h3v4h-3zM314 485h3v2h-3zM314 489h3v4h-3zM314 495h3v4h-3zM317 497h3v6h-3zM320 491h3v4h-3zM320 501h3v2h-3zM332 483h3v6h-3zM338 489h3v2h-3zM341 483h3v2h-3zM344 481h3v8h-3zM344 501h3v2h-3zM347 493h3v4h-3zM350 265h3v2h-3zM350 499h3v4h-3zM356 491h3v2h-3zM371 261h3v2h-3zM380 247h3v2h-3zM383 491h3v4h-3zM383 501h3v2h-3zM452 487h3v2h-3zM461 479h3v2h-3zM461 483h3v2h-3zM521 235h3v2h-3zM563 221h3v2h-3zM593 223h3v2h-3zM632 199h3v2h-3zM662 159h3v2h-3zM668 135h3v2h-3zM671 137h3v2h-3zM677 85h3v2h-3z" fill="#780000"/>
<path d="M101 481h3v4h-3zM101 503h3v4h-3zM104 483h3v2h-3zM110 503h3v2h-3zM113 503h3v4h-3zM128 503h3v2h-3zM137 505h3v2h-3zM164 507h3v2h-3zM167 493h3v4h-3zM173 505h3v2h-3zM182 467h3v4h-3zM182 473h3v2h-3zM185 409h3v2h-3zM185 463h3v2h-3zM185 471h3v2h-3zM185 481h3v2h-3zM188 473h3v2h-3zM194 407h3v2h-3zM194 479h3v2h-3zM197 477h3v2h-3zM197 481h3v2h-3zM200 471h3v2h-3zM206 471h3v2h-3zM209 469h3v2h-3zM209 483h3v2h-3zM221 479h3v2h-3zM221 499h3v2h-3zM224 485h3v2h-3zM224 489h3v2h-3zM227 489h3v2h-3zM230 485h3v6h-3zM233 459h3v2h-3zM233 485h3v2h-3zM233 507h3v2h-3zM236 481h3v2h-3zM239 373h3v2h-3zM242 359h3v2h-3zM248 495h3v2h-3zM248 501h3v2h-3zM254 477h3v4h-3zM266 127h3v2h-3zM266 483h3v2h-3zM266 499h3v2h-3zM275 107h3v2h-3zM281 95h3v2h-3zM281 481h3v2h-3zM281 493h3v2h-3zM281 497h3v2h-3zM281 505h3v2h-3zM284 331h3v2h-3zM287 323h3v2h-3zM287 493h3v2h-3zM290 81h3v2h-3zM296 73h3v2h-3zM299 65h3v4h-3zM299 483h3v2h-3zM302 497h3v4h-3zM305 503h3v2h-3zM308 303h3v2h-3zM308 495h3v2h-3zM308 499h3v4h-3zM311 491h3v2h-3zM311 497h3v2h-3zM314 303h3v2h-3zM314 487h3v2h-3zM314 499h3v4h-3zM338 485h3v4h-3zM338 491h3v2h-3zM338 499h3v4h-3zM341 283h3v2h-3zM356 493h3v4h-3zM395 499h3v4h-3zM401 237h3v2h-3zM416 487h3v2h-3zM431 235h3v2h-3zM431 499h3v2h-3zM458 225h3v2h-3zM461 225h3v2h-3zM470 225h3v2h-3zM476 225h3v2h-3zM491 225h3v2h-3zM500 225h3v2h-3zM503 225h3v2h-3zM518 233h3v2h-3zM611 215h3v2h-3zM629 195h3v2h-3zM638 187h3v2h-3zM647 169h3v2h-3zM659 165h3v2h-3zM662 151h3v2h-3zM677 89h3v2h-3zM677 95h3v2h-3z" fill="#840000"/>
<path d="M95 483h3v2h-3zM95 499h3v8h-3zM104 487h3v2h-3zM104 491h3v2h-3zM104 503h3v2h-3zM110 499h3v2h-3zM110 505h3v2h-3zM116 501h3v2h-3zM128 499h3v4h-3zM155 497h3v2h-3zM167 497h3v2h-3zM167 503h3v2h-3zM173 495h3v10h-3zM185 477h3v4h-3zM191 503h3v4h-3zM206 491h3v16h-3zM209 473h3v2h-3zM221 477h3v2h-3zM221 497h3v2h-3zM221 501h3v4h-3zM227 483h3v2h-3zM227 491h3v4h-3zM227 505h3v2h-3zM230 383h3v2h-3zM230 491h3v2h-3zM230 501h3v4h-3zM233 463h3v2h-3zM233 477h3v4h-3zM233 487h3v6h-3zM236 377h3v2h-3zM239 475h3v2h-3zM248 485h3v10h-3zM248 497h3v4h-3zM251 507h3v2h-3zM260 481h3v4h-3zM260 491h3v2h-3zM260 503h3v2h-3zM266 493h3v2h-3zM272 505h3v2h-3zM275 505h3v2h-3zM278 505h3v2h-3zM281 485h3v2h-3zM281 491h3v2h-3zM284 491h3v2h-3zM287 495h3v10h-3zM290 87h3v2h-3zM290 505h3v2h-3zM296 503h3v2h-3zM299 485h3v6h-3zM299 493h3v12h-3zM302 487h3v2h-3zM302 495h3v2h-3zM323 295h3v2h-3zM338 497h3v2h-3zM353 493h3v6h-3zM368 253h3v2h-3zM407 241h3v2h-3zM416 485h3v2h-3zM416 489h3v4h-3zM449 225h3v2h-3zM452 225h3v2h-3zM455 225h3v2h-3zM464 225h3v2h-3zM497 225h3v2h-3zM560 231h3v2h-3zM584 225h3v2h-3zM602 219h3v2h-3zM677 91h3v2h-3zM683 67h3v2h-3z" fill="#900000"/>
<path d="M98 491h3v2h-3zM98 505h3v2h-3zM104 497h3v6h-3zM104 505h3v2h-3zM110 483h3v2h-3zM110 491h3v2h-3zM116 505h3v2h-3zM122 483h3v2h-3zM122 489h3v2h-3zM128 491h3v2h-3zM128 505h3v2h-3zM140 505h3v2h-3zM149 497h3v2h-3zM161 497h3v2h-3zM161 503h3v2h-3zM173 489h3v4h-3zM179 491h3v2h-3zM179 501h3v2h-3zM179 505h3v2h-3zM182 479h3v4h-3zM182 485h3v2h-3zM185 461h3v2h-3zM185 473h3v2h-3zM185 483h3v2h-3zM191 399h3v2h-3zM191 493h3v2h-3zM191 499h3v4h-3zM215 477h3v6h-3zM215 499h3v8h-3zM227 487h3v2h-3zM227 495h3v2h-3zM227 499h3v2h-3zM227 503h3v2h-3zM230 493h3v4h-3zM230 499h3v2h-3zM233 493h3v2h-3zM233 497h3v2h-3zM233 501h3v4h-3zM236 473h3v2h-3zM236 477h3v2h-3zM239 477h3v2h-3zM245 467h3v2h-3zM245 507h3v2h-3zM257 499h3v2h-3zM257 505h3v2h-3zM260 501h3v2h-3zM260 505h3v2h-3zM263 131h3v2h-3zM266 121h3v2h-3zM266 475h3v2h-3zM269 339h3v2h-3zM272 109h3v2h-3zM272 503h3v2h-3zM278 485h3v2h-3zM281 329h3v2h-3zM287 505h3v2h-3zM293 323h3v2h-3zM293 493h3v2h-3zM293 501h3v6h-3zM296 487h3v4h-3zM296 493h3v4h-3zM296 499h3v4h-3zM299 491h3v2h-3zM302 489h3v6h-3zM311 493h3v2h-3zM320 297h3v2h-3zM353 263h3v2h-3zM365 255h3v2h-3zM389 243h3v2h-3zM410 233h3v2h-3zM446 225h3v2h-3zM473 225h3v2h-3zM479 225h3v2h-3zM485 225h3v2h-3zM488 225h3v2h-3zM512 233h3v2h-3zM563 231h3v2h-3zM584 219h3v2h-3zM632 197h3v2h-3zM641 181h3v2h-3zM650 171h3v2h-3zM653 177h3v2h-3zM656 135h3v2h-3zM662 119h3v2h-3zM677 93h3v2h-3zM683 63h3v4h-3zM683 69h3v2h-3z" fill="#9c0000"/>
<path d="M98 489h3v2h-3zM98 497h3v4h-3zM98 503h3v2h-3zM107 501h3v2h-3zM110 493h3v4h-3zM122 505h3v2h-3zM134 489h3v4h-3zM140 501h3v2h-3zM149 487h3v2h-3zM149 491h3v6h-3zM149 503h3v4h-3zM158 489h3v2h-3zM158 493h3v4h-3zM161 505h3v2h-3zM179 405h3v2h-3zM179 481h3v2h-3zM179 489h3v2h-3zM179 493h3v8h-3zM179 503h3v2h-3zM182 405h3v2h-3zM182 477h3v2h-3zM185 489h3v2h-3zM185 499h3v2h-3zM188 489h3v2h-3zM191 483h3v2h-3zM191 489h3v4h-3zM191 495h3v4h-3zM194 489h3v8h-3zM194 503h3v4h-3zM200 475h3v6h-3zM200 499h3v2h-3zM203 393h3v2h-3zM209 467h3v2h-3zM209 475h3v2h-3zM209 491h3v2h-3zM209 505h3v2h-3zM215 483h3v4h-3zM215 491h3v2h-3zM215 495h3v4h-3zM221 487h3v4h-3zM221 495h3v2h-3zM227 485h3v2h-3zM227 497h3v2h-3zM227 501h3v2h-3zM230 373h3v2h-3zM230 497h3v2h-3zM233 495h3v2h-3zM233 499h3v2h-3zM236 485h3v2h-3zM239 479h3v2h-3zM239 497h3v2h-3zM245 483h3v2h-3zM245 489h3v10h-3zM248 481h3v4h-3zM257 477h3v2h-3zM257 487h3v2h-3zM263 487h3v2h-3zM263 499h3v2h-3zM263 505h3v2h-3zM275 339h3v2h-3zM278 487h3v4h-3zM284 93h3v2h-3zM290 495h3v2h-3zM293 489h3v4h-3zM293 497h3v4h-3zM296 75h3v2h-3zM296 491h3v2h-3zM296 497h3v2h-3zM302 501h3v4h-3zM305 313h3v2h-3zM311 495h3v2h-3zM332 289h3v2h-3zM377 249h3v2h-3zM383 255h3v2h-3zM422 229h3v2h-3zM434 227h3v2h-3zM467 225h3v2h-3zM482 225h3v2h-3zM494 225h3v2h-3zM518 227h3v2h-3zM590 223h3v2h-3zM638 197h3v2h-3zM644 179h3v2h-3zM659 137h3v2h-3zM665 99h3v2h-3zM665 103h3v2h-3zM683 61h3v2h-3z" fill="#a80000"/>
<path d="M98 501h3v2h-3zM104 485h3v2h-3zM104 493h3v4h-3zM107 495h3v2h-3zM122 499h3v2h-3zM125 489h3v2h-3zM131 483h3v2h-3zM131 493h3v4h-3zM134 497h3v4h-3zM134 503h3v4h-3zM143 505h3v2h-3zM149 485h3v2h-3zM149 499h3v4h-3zM158 497h3v2h-3zM161 493h3v2h-3zM164 495h3v2h-3zM170 497h3v6h-3zM170 505h3v2h-3zM179 483h3v6h-3zM182 487h3v6h-3zM185 487h3v2h-3zM185 491h3v8h-3zM185 501h3v4h-3zM188 485h3v4h-3zM191 481h3v2h-3zM191 487h3v2h-3zM194 485h3v2h-3zM194 497h3v6h-3zM197 493h3v2h-3zM197 497h3v4h-3zM197 503h3v4h-3zM200 487h3v12h-3zM200 501h3v2h-3zM200 505h3v2h-3zM203 489h3v2h-3zM203 497h3v8h-3zM209 489h3v2h-3zM209 493h3v2h-3zM209 501h3v4h-3zM212 495h3v4h-3zM215 487h3v4h-3zM215 493h3v2h-3zM218 487h3v4h-3zM218 501h3v2h-3zM221 493h3v2h-3zM221 505h3v2h-3zM224 497h3v6h-3zM227 385h3v2h-3zM236 495h3v2h-3zM239 481h3v4h-3zM239 491h3v6h-3zM242 481h3v6h-3zM242 505h3v2h-3zM245 499h3v2h-3zM251 487h3v2h-3zM251 495h3v6h-3zM254 503h3v2h-3zM263 501h3v2h-3zM272 337h3v2h-3zM272 493h3v2h-3zM290 321h3v2h-3zM290 493h3v2h-3zM293 495h3v2h-3zM344 283h3v2h-3zM362 257h3v2h-3zM374 259h3v2h-3zM428 235h3v2h-3zM509 233h3v2h-3zM515 227h3v2h-3zM611 209h3v2h-3zM626 201h3v6h-3zM635 191h3v2h-3zM638 189h3v2h-3zM644 177h3v2h-3zM644 181h3v4h-3zM650 163h3v2h-3zM656 147h3v6h-3zM659 135h3v2h-3zM665 89h3v2h-3zM674 117h3v2h-3zM674 123h3v2h-3zM677 109h3v2h-3z" fill="#b40000"/>
<path d="M107 491h3v4h-3zM107 505h3v2h-3zM119 493h3v2h-3zM119 497h3v4h-3zM119 503h3v4h-3zM131 489h3v2h-3zM131 505h3v2h-3zM140 493h3v2h-3zM146 477h3v2h-3zM146 503h3v2h-3zM152 485h3v2h-3zM152 491h3v2h-3zM152 497h3v4h-3zM158 501h3v2h-3zM158 505h3v2h-3zM161 495h3v2h-3zM170 487h3v2h-3zM176 399h3v2h-3zM176 497h3v2h-3zM176 505h3v2h-3zM182 493h3v2h-3zM182 501h3v6h-3zM185 505h3v2h-3zM188 495h3v2h-3zM197 405h3v2h-3zM197 483h3v2h-3zM197 487h3v6h-3zM197 495h3v2h-3zM197 501h3v2h-3zM200 483h3v4h-3zM200 503h3v2h-3zM203 491h3v6h-3zM203 505h3v2h-3zM206 391h3v2h-3zM209 485h3v4h-3zM209 495h3v6h-3zM212 489h3v4h-3zM218 491h3v10h-3zM218 503h3v4h-3zM221 491h3v2h-3zM224 495h3v2h-3zM236 487h3v8h-3zM236 497h3v6h-3zM239 485h3v6h-3zM239 499h3v4h-3zM239 505h3v2h-3zM242 369h3v2h-3zM242 487h3v4h-3zM242 497h3v2h-3zM242 501h3v4h-3zM245 365h3v2h-3zM245 487h3v2h-3zM251 489h3v6h-3zM251 501h3v6h-3zM254 491h3v2h-3zM254 505h3v2h-3zM257 479h3v6h-3zM335 287h3v2h-3zM398 239h3v2h-3zM506 233h3v2h-3zM515 233h3v2h-3zM590 217h3v2h-3zM596 221h3v2h-3zM614 213h3v2h-3zM629 199h3v4h-3zM632 193h3v2h-3zM632 203h3v2h-3zM635 193h3v2h-3zM638 195h3v2h-3zM641 185h3v4h-3zM641 193h3v2h-3zM644 185h3v4h-3zM647 173h3v2h-3zM653 155h3v2h-3zM656 171h3v2h-3zM659 117h3v2h-3zM659 123h3v2h-3zM659 133h3v2h-3zM659 161h3v2h-3zM662 117h3v2h-3zM662 153h3v2h-3zM665 97h3v2h-3zM665 145h3v2h-3zM668 145h3v2h-3zM671 123h3v2h-3zM674 111h3v2h-3zM677 105h3v2h-3z" fill="#c00000"/>
<path d="M119 491h3v2h-3zM119 495h3v2h-3zM119 501h3v2h-3zM131 487h3v2h-3zM131 499h3v6h-3zM143 499h3v2h-3zM146 501h3v2h-3zM152 487h3v4h-3zM164 503h3v2h-3zM176 499h3v6h-3zM182 495h3v6h-3zM188 497h3v2h-3zM188 503h3v4h-3zM194 487h3v2h-3zM200 481h3v2h-3zM203 485h3v4h-3zM212 487h3v2h-3zM212 499h3v8h-3zM224 503h3v2h-3zM233 505h3v2h-3zM236 503h3v2h-3zM239 503h3v2h-3zM242 493h3v4h-3zM242 499h3v2h-3zM248 361h3v2h-3zM254 355h3v2h-3zM332 287h3v2h-3zM356 261h3v2h-3zM386 253h3v2h-3zM416 237h3v2h-3zM437 227h3v2h-3zM503 233h3v2h-3zM572 219h3v2h-3zM605 211h3v2h-3zM629 197h3v2h-3zM629 205h3v2h-3zM635 197h3v2h-3zM638 191h3v4h-3zM641 183h3v2h-3zM647 171h3v2h-3zM650 165h3v2h-3zM650 169h3v2h-3zM650 177h3v2h-3zM650 181h3v2h-3zM653 157h3v4h-3zM653 163h3v2h-3zM656 137h3v2h-3zM656 169h3v2h-3zM659 125h3v2h-3zM659 159h3v2h-3zM659 163h3v2h-3zM665 147h3v6h-3zM668 139h3v2h-3zM674 113h3v2h-3zM674 121h3v2h-3zM677 107h3v2h-3zM677 111h3v2h-3zM683 59h3v2h-3z" fill="#cc0000"/>
<path d="M146 497h3v2h-3zM164 505h3v2h-3zM176 401h3v4h-3zM176 489h3v2h-3zM179 399h3v2h-3zM179 403h3v2h-3zM182 399h3v6h-3zM185 401h3v2h-3zM185 405h3v2h-3zM188 491h3v4h-3zM188 499h3v4h-3zM191 407h3v2h-3zM197 485h3v2h-3zM200 397h3v2h-3zM206 393h3v2h-3zM212 393h3v2h-3zM212 493h3v2h-3zM215 389h3v2h-3zM218 391h3v2h-3zM221 381h3v2h-3zM224 505h3v2h-3zM236 367h3v4h-3zM236 505h3v2h-3zM245 359h3v2h-3zM245 485h3v2h-3zM260 347h3v2h-3zM263 345h3v4h-3zM272 341h3v2h-3zM275 337h3v2h-3zM278 335h3v2h-3zM281 333h3v2h-3zM284 327h3v4h-3zM293 319h3v2h-3zM299 317h3v2h-3zM308 309h3v2h-3zM314 301h3v2h-3zM320 295h3v2h-3zM326 291h3v2h-3zM329 289h3v2h-3zM353 265h3v4h-3zM353 271h3v2h-3zM356 263h3v2h-3zM362 265h3v2h-3zM365 259h3v2h-3zM371 255h3v2h-3zM374 253h3v2h-3zM377 255h3v2h-3zM380 253h3v4h-3zM386 247h3v2h-3zM389 245h3v2h-3zM395 245h3v4h-3zM401 241h3v2h-3zM404 241h3v2h-3zM407 235h3v2h-3zM416 231h3v2h-3zM422 233h3v2h-3zM431 233h3v2h-3zM446 233h3v2h-3zM455 233h3v2h-3zM458 229h3v2h-3zM464 229h3v2h-3zM470 227h3v2h-3zM473 229h3v4h-3zM479 229h3v2h-3zM500 229h3v2h-3zM506 231h3v2h-3zM509 227h3v2h-3zM512 229h3v2h-3zM518 229h3v2h-3zM521 229h3v6h-3zM560 227h3v2h-3zM563 223h3v2h-3zM563 227h3v2h-3zM575 227h3v2h-3zM578 219h3v2h-3zM578 225h3v2h-3zM584 223h3v2h-3zM587 223h3v2h-3zM590 221h3v2h-3zM596 219h3v2h-3zM599 213h3v2h-3zM602 213h3v2h-3zM602 217h3v2h-3zM608 211h3v2h-3zM608 215h3v2h-3zM611 213h3v2h-3zM614 211h3v2h-3zM617 211h3v2h-3zM620 205h3v2h-3zM620 209h3v2h-3zM629 203h3v2h-3zM632 201h3v2h-3zM647 177h3v2h-3zM647 183h3v4h-3zM650 167h3v2h-3zM653 175h3v2h-3zM656 145h3v2h-3zM656 165h3v4h-3zM659 119h3v4h-3zM662 155h3v4h-3zM671 135h3v2h-3zM674 115h3v2h-3zM674 119h3v2h-3zM677 101h3v4h-3z" fill="#d80000"/>
<path d="M176 405h3v2h-3zM176 491h3v6h-3zM185 407h3v2h-3zM188 401h3v2h-3zM188 405h3v2h-3zM191 401h3v4h-3zM191 485h3v2h-3zM194 399h3v2h-3zM197 397h3v2h-3zM200 395h3v2h-3zM200 401h3v4h-3zM203 395h3v4h-3zM206 395h3v2h-3zM206 399h3v2h-3zM209 393h3v4h-3zM212 387h3v6h-3zM215 391h3v4h-3zM218 383h3v8h-3zM221 383h3v2h-3zM221 387h3v2h-3zM224 385h3v4h-3zM227 379h3v2h-3zM227 383h3v2h-3zM230 375h3v2h-3zM230 379h3v2h-3zM233 377h3v2h-3zM236 373h3v4h-3zM239 365h3v2h-3zM245 361h3v2h-3zM245 503h3v4h-3zM248 357h3v4h-3zM251 355h3v4h-3zM254 353h3v2h-3zM257 349h3v4h-3zM266 343h3v2h-3zM269 343h3v2h-3zM275 335h3v2h-3zM287 327h3v2h-3zM302 313h3v2h-3zM317 299h3v2h-3zM338 285h3v2h-3zM344 277h3v2h-3zM347 271h3v2h-3zM347 275h3v2h-3zM350 267h3v8h-3zM359 259h3v10h-3zM362 259h3v4h-3zM365 257h3v2h-3zM371 259h3v2h-3zM374 257h3v2h-3zM377 253h3v2h-3zM380 251h3v2h-3zM383 251h3v2h-3zM386 249h3v4h-3zM389 247h3v2h-3zM392 243h3v4h-3zM395 243h3v2h-3zM398 241h3v2h-3zM398 245h3v2h-3zM404 237h3v4h-3zM407 237h3v2h-3zM413 235h3v4h-3zM422 235h3v2h-3zM425 229h3v2h-3zM431 231h3v2h-3zM434 231h3v4h-3zM437 229h3v4h-3zM440 229h3v2h-3zM443 229h3v4h-3zM449 227h3v2h-3zM449 231h3v2h-3zM452 229h3v6h-3zM455 227h3v4h-3zM458 231h3v2h-3zM461 227h3v4h-3zM464 227h3v2h-3zM464 233h3v2h-3zM470 231h3v2h-3zM473 233h3v2h-3zM476 227h3v2h-3zM479 227h3v2h-3zM479 231h3v2h-3zM485 227h3v2h-3zM485 233h3v2h-3zM488 233h3v2h-3zM491 227h3v4h-3zM491 233h3v2h-3zM494 233h3v2h-3zM506 227h3v2h-3zM509 229h3v2h-3zM512 227h3v2h-3zM512 231h3v2h-3zM518 231h3v2h-3zM524 229h3v6h-3zM563 225h3v2h-3zM563 229h3v2h-3zM572 225h3v2h-3zM575 219h3v8h-3zM578 223h3v2h-3zM581 225h3v2h-3zM587 221h3v2h-3zM596 215h3v4h-3zM599 215h3v6h-3zM602 215h3v2h-3zM608 213h3v2h-3zM614 209h3v2h-3zM617 207h3v4h-3zM620 207h3v2h-3zM632 195h3v2h-3zM635 199h3v2h-3zM641 191h3v2h-3zM644 189h3v2h-3zM647 175h3v2h-3zM647 181h3v2h-3zM653 161h3v2h-3zM653 171h3v4h-3zM659 127h3v2h-3zM668 137h3v2h-3zM668 143h3v2h-3zM671 127h3v4h-3zM671 133h3v2h-3zM677 99h3v2h-3zM680 71h3v2h-3z" fill="#e40000"/>
<path d="M152 501h3v2h-3zM179 401h3v2h-3zM185 403h3v2h-3zM188 403h3v2h-3zM188 407h3v4h-3zM191 405h3v2h-3zM194 401h3v6h-3zM197 399h3v6h-3zM200 399h3v2h-3zM203 399h3v4h-3zM206 397h3v2h-3zM209 389h3v4h-3zM209 397h3v2h-3zM212 395h3v2h-3zM215 385h3v4h-3zM221 385h3v2h-3zM221 389h3v2h-3zM224 379h3v2h-3zM227 377h3v2h-3zM227 381h3v2h-3zM230 377h3v2h-3zM230 381h3v2h-3zM233 371h3v2h-3zM233 379h3v2h-3zM236 371h3v2h-3zM239 363h3v2h-3zM239 367h3v6h-3zM242 363h3v2h-3zM245 363h3v2h-3zM245 501h3v2h-3zM260 349h3v2h-3zM266 345h3v2h-3zM272 339h3v2h-3zM278 333h3v2h-3zM281 331h3v2h-3zM287 325h3v2h-3zM293 321h3v2h-3zM296 319h3v2h-3zM299 315h3v2h-3zM302 315h3v2h-3zM308 305h3v4h-3zM311 301h3v4h-3zM317 297h3v2h-3zM344 271h3v4h-3zM347 269h3v2h-3zM347 273h3v2h-3zM353 269h3v2h-3zM362 263h3v2h-3zM365 261h3v4h-3zM368 255h3v2h-3zM368 259h3v4h-3zM371 253h3v2h-3zM371 257h3v2h-3zM374 251h3v2h-3zM374 255h3v2h-3zM377 251h3v2h-3zM377 257h3v2h-3zM380 249h3v2h-3zM383 247h3v4h-3zM386 245h3v2h-3zM389 249h3v4h-3zM395 241h3v2h-3zM398 243h3v2h-3zM401 239h3v2h-3zM401 243h3v2h-3zM407 239h3v2h-3zM410 235h3v6h-3zM416 235h3v2h-3zM419 233h3v4h-3zM431 229h3v2h-3zM434 229h3v2h-3zM440 227h3v2h-3zM440 231h3v4h-3zM443 233h3v2h-3zM449 229h3v2h-3zM449 233h3v2h-3zM455 231h3v2h-3zM458 227h3v2h-3zM458 233h3v2h-3zM461 231h3v4h-3zM464 231h3v2h-3zM467 231h3v4h-3zM470 229h3v2h-3zM470 233h3v2h-3zM473 227h3v2h-3zM476 229h3v6h-3zM479 233h3v2h-3zM482 227h3v8h-3zM485 229h3v4h-3zM488 227h3v6h-3zM491 231h3v2h-3zM494 229h3v4h-3zM497 227h3v4h-3zM497 233h3v2h-3zM500 227h3v2h-3zM500 231h3v4h-3zM506 229h3v2h-3zM509 231h3v2h-3zM560 223h3v2h-3zM560 229h3v2h-3zM572 221h3v4h-3zM578 221h3v2h-3zM578 227h3v2h-3zM581 221h3v4h-3zM584 221h3v2h-3zM590 219h3v2h-3zM593 217h3v4h-3zM605 213h3v6h-3zM650 179h3v2h-3zM659 129h3v2h-3zM668 141h3v2h-3z" fill="#f00000"/>
<path d="M107 485h3v6h-3zM152 503h3v4h-3zM185 399h3v2h-3zM224 381h3v4h-3zM233 373h3v4h-3zM242 361h3v2h-3zM242 365h3v4h-3zM242 491h3v2h-3zM254 351h3v2h-3zM269 341h3v2h-3zM290 323h3v4h-3zM296 317h3v2h-3zM305 309h3v4h-3zM311 305h3v2h-3zM314 299h3v2h-3zM323 293h3v2h-3zM356 265h3v6h-3zM368 257h3v2h-3zM383 253h3v2h-3zM392 247h3v4h-3zM413 233h3v2h-3zM416 233h3v2h-3zM419 231h3v2h-3zM422 231h3v2h-3zM425 231h3v6h-3zM428 229h3v6h-3zM437 233h3v2h-3zM443 227h3v2h-3zM446 227h3v6h-3zM452 227h3v2h-3zM467 227h3v4h-3zM494 227h3v2h-3zM497 231h3v2h-3zM503 227h3v6h-3zM515 229h3v4h-3zM560 225h3v2h-3zM572 227h3v2h-3zM587 219h3v2h-3zM593 221h3v2h-3zM611 211h3v2h-3zM641 189h3v2h-3zM671 125h3v2h-3zM671 131h3v2h-3zM680 59h3v12h-3z" fill="#fc0000"/>
</g>
<rect x="91" y="48" width="1" height="477" fill="#383838"/>
<rect x="198" y="48" width="1" height="477" fill="#383838"/>
<rect x="306" y="48" width="1" height="477" fill="#383838"/>
<rect x="413" y="48" width="1" height="477" fill="#383838"/>
<rect x="520" y="48" width="1" height="477" fill="#383838"/>
<rect x="627" y="48" width="1" height="477" fill="#383838"/>
<rect x="735" y="48" width="1" height="477" fill="#383838"/>
<rect x="80" y="104" width="699" height="1" fill="#383838"/>
<rect x="80" y="170" width="699" height="1" fill="#383838"/>
<rect x="80" y="237" width="699" height="1" fill="#383838"/>
<rect x="80" y="302" width="699" height="1" fill="#383838"/>
<rect x="80" y="368" width="699" height="1" fill="#383838"/>
<rect x="80" y="435" width="699" height="1" fill="#383838"/>
<rect x="80" y="501" width="699" height="1" fill="#383838"/>
<rect x="69" y="38" width="1" height="5" fill="#000"/>
<rect x="80" y="38" width="1" height="5" fill="#000"/>
<rect x="102" y="38" width="1" height="5" fill="#000"/>
<rect x="112" y="38" width="1" height="5" fill="#000"/>
<rect x="123" y="38" width="1" height="5" fill="#000"/>
<rect x="134" y="38" width="1" height="5" fill="#000"/>
<rect x="145" y="38" width="1" height="5" fill="#000"/>
<rect x="155" y="38" width="1" height="5" fill="#000"/>
<rect x="166" y="38" width="1" height="5" fill="#000"/>
<rect x="177" y="38" width="1" height="5" fill="#000"/>
<rect x="188" y="38" width="1" height="5" fill="#000"/>
<rect x="209" y="38" width="1" height="5" fill="#000"/>
<rect x="220" y="38" width="1" height="5" fill="#000"/>
<rect x="231" y="38" width="1" height="5" fill="#000"/>
<rect x="241" y="38" width="1" height="5" fill="#000"/>
<rect x="252" y="38" width="1" height="5" fill="#000"/>
<rect x="263" y="38" width="1" height="5" fill="#000"/>
<rect x="273" y="38" width="1" height="5" fill="#000"/>
<rect x="284" y="38" width="1" height="5" fill="#000"/>
<rect x="295" y="38" width="1" height="5" fill="#000"/>
<rect x="316" y="38" width="1" height="5" fill="#000"/>
<rect x="327" y="38" width="1" height="5" fill="#000"/>
<rect x="338" y="38" width="1" height="5" fill="#000"/>
<rect x="349" y="38" width="1" height="5" fill="#000"/>
<rect x="359" y="38" width="1" height="5" fill="#000"/>
<rect x="370" y="38" width="1" height="5" fill="#000"/>
<rect x="381" y="38" width="1" height="5" fill="#000"/>
<rect x="392" y="38" width="1" height="5" fill="#000"/>
<rect x="402" y="38" width="1" height="5" fill="#000"/>
<rect x="424" y="38" width="1" height="5" fill="#000"/>
<rect x="434" y="38" width="1" height="5" fill="#000"/>
<rect x="445" y="38" width="1" height="5" fill="#000"/>
<rect x="456" y="38" width="1" height="5" fill="#000"/>
<rect x="467" y="38" width="1" height="5" fill="#000"/>
<rect x="477" y="38" width="1" height="5" fill="#000"/>
<rect x="488" y="38" width="1" height="5" fill="#000"/>
<rect x="499" y="38" width="1" height="5" fill="#000"/>
<rect x="510" y="38" width="1" height="5" fill="#000"/>
<rect x="531" y="38" width="1" height="5" fill="#000"/>
<rect x="542" y="38" width="1" height="5" fill="#000"/>
<rect x="553" y="38" width="1" height="5" fill="#000"/>
<rect x="563" y="38" width="1" height="5" fill="#000"/>
<rect x="574" y="38" width="1" height="5" fill="#000"/>
<rect x="585" y="38" width="1" height="5" fill="#000"/>
<rect x="595" y="38" width="1" height="5" fill="#000"/>
<rect x="606" y="38" width="1" height="5" fill="#000"/>
<rect x="617" y="38" width="1" height="5" fill="#000"/>
<rect x="638" y="38" width="1" height="5" fill="#000"/>
<rect x="649" y="38" width="1" height="5" fill="#000"/>
<rect x="660" y="38" width="1" height="5" fill="#000"/>
<rect x="671" y="38" width="1" height="5" fill="#000"/>
<rect x="681" y="38" width="1" height="5" fill="#000"/>
<rect x="692" y="38" width="1" height="5" fill="#000"/>
<rect x="703" y="38" width="1" height="5" fill="#000"/>
<rect x="714" y="38" width="1" height="5" fill="#000"/>
<rect x="724" y="38" width="1" height="5" fill="#000"/>
<rect x="746" y="38" width="1" height="5" fill="#000"/>
<rect x="757" y="38" width="1" height="5" fill="#000"/>
<rect x="767" y="38" width="1" height="5" fill="#000"/>
<rect x="778" y="38" width="1" height="5" fill="#000"/>
<rect x="789" y="38" width="1" height="5" fill="#000"/>
<rect x="91" y="38" width="1" height="10" fill="#000"/>
<rect x="198" y="38" width="1" height="10" fill="#000"/>
<rect x="306" y="38" width="1" height="10" fill="#000"/>
<rect x="413" y="38" width="1" height="10" fill="#000"/>
<rect x="520" y="38" width="1" height="10" fill="#000"/>
<rect x="627" y="38" width="1" height="10" fill="#000"/>
<rect x="735" y="38" width="1" height="10" fill="#000"/>
<rect x="68" y="534" width="7" height="1" fill="#000"/>
<rect x="784" y="534" width="6" height="1" fill="#000"/>
<rect x="68" y="527" width="7" height="1" fill="#000"/>
<rect x="784" y="527" width="6" height="1" fill="#000"/>
<rect x="68" y="521" width="7" height="1" fill="#000"/>
<rect x="784" y="521" width="6" height="1" fill="#000"/>
<rect x="68" y="514" width="7" height="1" fill="#000"/>
<rect x="784" y="514" width="6" height="1" fill="#000"/>
<rect x="68" y="508" width="7" height="1" fill="#000"/>
<rect x="784" y="508" width="6" height="1" fill="#000"/>
<rect x="68" y="501" width="12" height="1" fill="#000"/>
<rect x="779" y="501" width="11" height="1" fill="#000"/>
<rect x="68" y="494" width="7" height="1" fill="#000"/>
<rect x="784" y="494" width="6" height="1" fill="#000"/>
<rect x="68" y="488" width="7" height="1" fill="#000"/>
<rect x="784" y="488" width="6" height="1" fill="#000"/>
<rect x="68" y="481" width="7" height="1" fill="#000"/>
<rect x="784" y="481" width="6" height="1" fill="#000"/>
<rect x="68" y="475" width="7" height="1" fill="#000"/>
<rect x="784" y="475" width="6" height="1" fill="#000"/>
<rect x="68" y="468" width="7" height="1" fill="#000"/>
<rect x="784" y="468" width="6" height="1" fill="#000"/>
<rect x="68" y="461" width="7" height="1" fill="#000"/>
<rect x="784" y="461" width="6" height="1" fill="#000"/>
<rect x="68" y="455" width="7" height="1" fill="#000"/>
<rect x="784" y="455" width="6" height="1" fill="#000"/>
<rect x="68" y="448" width="7" height="1" fill="#000"/>
<rect x="784" y="448" width="6" height="1" fill="#000"/>
<rect x="68" y="442" width="7" height="1" fill="#000"/>
<rect x="784" y="442" width="6" height="1" fill="#000"/>
<rect x="68" y="435" width="12" height="1" fill="#000"/>
<rect x="779" y="435" width="11" height="1" fill="#000"/>
<rect x="68" y="428" width="7" height="1" fill="#000"/>
<rect x="784" y="428" width="6" height="1" fill="#000"/>
<rect x="68" y="422" width="7" height="1" fill="#000"/>
<rect x="784" y="422" width="6" height="1" fill="#000"/>
<rect x="68" y="415" width="7" height="1" fill="#000"/>
<rect x="784" y="415" width="6" height="1" fill="#000"/>
<rect x="68" y="408" width="7" height="1" fill="#000"/>
<rect x="784" y="408" width="6" height="1" fill="#000"/>
<rect x="68" y="402" width="7" height="1" fill="#000"/>
<rect x="784" y="402" width="6" height="1" fill="#000"/>
<rect x="68" y="395" width="7" height="1" fill="#000"/>
<rect x="784" y="395" width="6" height="1" fill="#000"/>
<rect x="68" y="388" width="7" height="1" fill="#000"/>
<rect x="784" y="388" width="6" height="1" fill="#000"/>
<rect x="68" y="381" width="7" height="1" fill="#000"/>
<rect x="784" y="381" width="6" height="1" fill="#000"/>
<rect x="68" y="375" width="7" height="1" fill="#000"/>
<rect x="784" y="375" width="6" height="1" fill="#000"/>
<rect x="68" y="368" width="12" height="1" fill="#000"/>
<rect x="779" y="368" width="11" height="1" fill="#000"/>
<rect x="68" y="361" width="7" height="1" fill="#000"/>
<rect x="784" y="361" width="6" height="1" fill="#000"/>
<rect x="68" y="355" width="7" height="1" fill="#000"/>
<rect x="784" y="355" width="6" height="1" fill="#000"/>
<rect x="68" y="348" width="7" height="1" fill="#000"/>
<rect x="784" y="348" width="6" height="1" fill="#000"/>
<rect x="68" y="342" width="7" height="1" fill="#000"/>
<rect x="784" y="342" width="6" height="1" fill="#000"/>
<rect x="68" y="335" width="7" height="1" fill="#000"/>
<rect x="784" y="335" width="6" height="1" fill="#000"/>
<rect x="68" y="328" width="7" height="1" fill="#000"/>
<rect x="784" y="328" width="6" height="1" fill="#000"/>
<rect x="68" y="322" width="7" height="1" fill="#000"/>
<rect x="784" y="322" width="6" height="1" fill="#000"/>
<rect x="68" y="315" width="7" height="1" fill="#000"/>
<rect x="784" y="315" width="6" height="1" fill="#000"/>
<rect x="68" y="309" width="7" height="1" fill="#000"/>
<rect x="784" y="309" width="6" height="1" fill="#000"/>
<rect x="68" y="302" width="12" height="1" fill="#000"/>
<rect x="779" y="302" width="11" height="1" fill="#000"/>
<rect x="68" y="296" width="7" height="1" fill="#000"/>
<rect x="784" y="296" width="6" height="1" fill="#000"/>
<rect x="68" y="289" width="7" height="1" fill="#000"/>
<rect x="784" y="289" width="6" height="1" fill="#000"/>
<rect x="68" y="282" width="7" height="1" fill="#000"/>
<rect x="784" y="282" width="6" height="1" fill="#000"/>
<rect x="68" y="276" width="7" height="1" fill="#000"/>
<rect x="784" y="276" width="6" height="1" fill="#000"/>
<rect x="68" y="270" width="7" height="1" fill="#000"/>
<rect x="784" y="270" width="6" height="1" fill="#000"/>
<rect x="68" y="263" width="7" height="1" fill="#000"/>
<rect x="784" y="263" width="6" height="1" fill="#000"/>
<rect x="68" y="256" width="7" height="1" fill="#000"/>
<rect x="784" y="256" width="6" height="1" fill="#000"/>
<rect x="68" y="250" width="7" height="1" fill="#000"/>
<rect x="784" y="250" width="6" height="1" fill="#000"/>
<rect x="68" y="244" width="7" height="1" fill="#000"/>
<rect x="784" y="244" width="6" height="1" fill="#000"/>
<rect x="68" y="237" width="12" height="1" fill="#000"/>
<rect x="779" y="237" width="11" height="1" fill="#000"/>
<rect x="68" y="230" width="7" height="1" fill="#000"/>
<rect x="784" y="230" width="6" height="1" fill="#000"/>
<rect x="68" y="224" width="7" height="1" fill="#000"/>
<rect x="784" y="224" width="6" height="1" fill="#000"/>
<rect x="68" y="217" width="7" height="1" fill="#000"/>
<rect x="784" y="217" width="6" height="1" fill="#000"/>
<rect x="68" y="210" width="7" height="1" fill="#000"/>
<rect x="784" y="210" width="6" height="1" fill="#000"/>
<rect x="68" y="204" width="7" height="1" fill="#000"/>
<rect x="784" y="204" width="6" height="1" fill="#000"/>
<rect x="68" y="197" width="7" height="1" fill="#000"/>
<rect x="784" y="197" width="6" height="1" fill="#000"/>
<rect x="68" y="190" width="7" height="1" fill="#000"/>
<rect x="784" y="190" width="6" height="1" fill="#000"/>
<rect x="68" y="183" width="7" height="1" fill="#000"/>
<rect x="784" y="183" width="6" height="1" fill="#000"/>
<rect x="68" y="177" width="7" height="1" fill="#000"/>
<rect x="784" y="177" width="6" height="1" fill="#000"/>
<rect x="68" y="170" width="12" height="1" fill="#000"/>
<rect x="779" y="170" width="11" height="1" fill="#000"/>
<rect x="68" y="163" width="7" height="1" fill="#000"/>
<rect x="784" y="163" width="6" height="1" fill="#000"/>
<rect x="68" y="157" width="7" height="1" fill="#000"/>
<rect x="784" y="157" width="6" height="1" fill="#000"/>
<rect x="68" y="150" width="7" height="1" fill="#000"/>
<rect x="784" y="150" width="6" height="1" fill="#000"/>
<rect x="68" y="144" width="7" height="1" fill="#000"/>
<rect x="784" y="144" width="6" height="1" fill="#000"/>
<rect x="68" y="137" width="7" height="1" fill="#000"/>
<rect x="784" y="137" width="6" height="1" fill="#000"/>
<rect x="68" y="130" width="7" height="1" fill="#000"/>
<rect x="784" y="130" width="6" height="1" fill="#000"/>
<rect x="68" y="124" width="7" height="1" fill="#000"/>
<rect x="784" y="124" width="6" height="1" fill="#000"/>
<rect x="68" y="117" width="7" height="1" fill="#000"/>
<rect x="784" y="117" width="6" height="1" fill="#000"/>
<rect x="68" y="111" width="7" height="1" fill="#000"/>
<rect x="784" y="111" width="6" height="1" fill="#000"/>
<rect x="68" y="104" width="12" height="1" fill="#000"/>
<rect x="779" y="104" width="11" height="1" fill="#000"/>
<rect x="68" y="97" width="7" height="1" fill="#000"/>
<rect x="784" y="97" width="6" height="1" fill="#000"/>
<rect x="68" y="90" width="7" height="1" fill="#000"/>
<rect x="784" y="90" width="6" height="1" fill="#000"/>
<rect x="68" y="84" width="7" height="1" fill="#000"/>
<rect x="784" y="84" width="6" height="1" fill="#000"/>
<rect x="68" y="77" width="7" height="1" fill="#000"/>
<rect x="784" y="77" width="6" height="1" fill="#000"/>
<rect x="68" y="71" width="7" height="1" fill="#000"/>
<rect x="784" y="71" width="6" height="1" fill="#000"/>
<rect x="68" y="64" width="7" height="1" fill="#000"/>
<rect x="784" y="64" width="6" height="1" fill="#000"/>
<rect x="68" y="57" width="7" height="1" fill="#000"/>
<rect x="784" y="57" width="6" height="1" fill="#000"/>
<rect x="68" y="51" width="7" height="1" fill="#000"/>
<rect x="784" y="51" width="6" height="1" fill="#000"/>
<rect x="68" y="44" width="7" height="1" fill="#000"/>
<rect x="784" y="44" width="6" height="1" fill="#000"/>
<g font-family='"Liberation Sans", sans-serif' fill="#000" opacity="0.999" stroke="#000" stroke-width="0.45">
<text x="224.5" y="13.9" font-size="19" text-anchor="start" textLength="286" lengthAdjust="spacingAndGlyphs">Jicamarca 2023 005 21:53:03 UTC</text>
<text x="546" y="13.9" font-size="19" text-anchor="start" textLength="71" lengthAdjust="spacingAndGlyphs">05Jan23</text>
<text x="53" y="42.0" font-size="20" text-anchor="end" textLength="30.5" lengthAdjust="spacingAndGlyphs">800</text>
<text x="53" y="108.0" font-size="20" text-anchor="end" textLength="30.5" lengthAdjust="spacingAndGlyphs">700</text>
<text x="53" y="174.0" font-size="20" text-anchor="end" textLength="30.5" lengthAdjust="spacingAndGlyphs">600</text>
<text x="53" y="241.0" font-size="20" text-anchor="end" textLength="30.5" lengthAdjust="spacingAndGlyphs">500</text>
<text x="53" y="306.0" font-size="20" text-anchor="end" textLength="30.5" lengthAdjust="spacingAndGlyphs">400</text>
<text x="53" y="372.0" font-size="20" text-anchor="end" textLength="30.5" lengthAdjust="spacingAndGlyphs">300</text>
<text x="53" y="439.0" font-size="20" text-anchor="end" textLength="30.5" lengthAdjust="spacingAndGlyphs">200</text>
<text x="53" y="505.0" font-size="20" text-anchor="end" textLength="30.5" lengthAdjust="spacingAndGlyphs">100</text>
<text x="89.0" y="563.3" font-size="20" text-anchor="middle" textLength="26.4" lengthAdjust="spacingAndGlyphs">2.0</text>
<text x="195.5" y="563.3" font-size="20" text-anchor="middle" textLength="27.4" lengthAdjust="spacingAndGlyphs">4.0</text>
<text x="305.0" y="563.3" font-size="20" text-anchor="middle" textLength="25.9" lengthAdjust="spacingAndGlyphs">6.0</text>
<text x="411.6" y="563.3" font-size="20" text-anchor="middle" textLength="25.9" lengthAdjust="spacingAndGlyphs">8.0</text>
<text x="519.3" y="563.3" font-size="20" text-anchor="middle" textLength="35.6" lengthAdjust="spacingAndGlyphs">10.0</text>
<text x="626.5" y="563.3" font-size="20" text-anchor="middle" textLength="35.5" lengthAdjust="spacingAndGlyphs">12.0</text>
<text x="734.4" y="563.3" font-size="20" text-anchor="middle" textLength="34.8" lengthAdjust="spacingAndGlyphs">14.0</text>
<text x="360" y="590.5" font-size="18" text-anchor="start" textLength="138" lengthAdjust="spacingAndGlyphs">Frequency [MHz]</text>
<text transform="translate(13.8,331) rotate(-90)" font-size="18" textLength="91" lengthAdjust="spacingAndGlyphs">Range [km]</text>
<text x="807" y="20" font-size="18" text-anchor="start" textLength="77" lengthAdjust="spacingAndGlyphs">SNR [dB]</text>
<text x="806.5" y="51" font-size="20" text-anchor="start">O</text>
<text x="878.8" y="51" font-size="20" text-anchor="start">X</text>
</g>
<g font-family='"Liberation Sans", sans-serif' fill="#000" stroke="#000" stroke-width="0.05">
<text x="30" y="610.8" font-size="13" text-anchor="start" textLength="101.5" lengthAdjust="spacingAndGlyphs">RxMask 11111111</text>
<text x="581" y="610.8" font-size="13" text-anchor="start" textLength="213" lengthAdjust="spacingAndGlyphs" xml:space="preserve">VIPIR  JM91J_2023005215303.RIQ</text>
</g>
<defs><linearGradient id="gr" x1="0" y1="0" x2="0" y2="1"><stop offset="0" stop-color="#ff0000"/><stop offset="1" stop-color="#000"/></linearGradient><linearGradient id="gg" x1="0" y1="0" x2="0" y2="1"><stop offset="0" stop-color="#22ff00"/><stop offset="1" stop-color="#000"/></linearGradient><filter id="soft" x="-5%" y="-5%" width="110%" height="110%"><feGaussianBlur stdDeviation="1.5"/></filter><clipPath id="dclip"><rect x="68" y="59" width="719" height="477"/></clipPath></defs>
<rect x="807" y="55" width="21" height="461" fill="#000"/>
<rect x="808" y="56" width="19" height="459" fill="url(#gr)"/>
<rect x="808" y="423" width="7" height="1" fill="#000"/>
<rect x="820" y="423" width="7" height="1" fill="#000"/>
<rect x="808" y="331" width="7" height="1" fill="#000"/>
<rect x="820" y="331" width="7" height="1" fill="#000"/>
<rect x="808" y="239" width="7" height="1" fill="#000"/>
<rect x="820" y="239" width="7" height="1" fill="#000"/>
<rect x="808" y="147" width="7" height="1" fill="#000"/>
<rect x="820" y="147" width="7" height="1" fill="#000"/>
<g font-family='"Liberation Sans", sans-serif' fill="#000" font-size="16" opacity="0.999">
<text x="841" y="519.2" font-size="16" text-anchor="start">0</text>
<text x="841" y="427.1" font-size="16" text-anchor="start">10</text>
<text x="841" y="335.0" font-size="16" text-anchor="start">20</text>
<text x="841" y="242.9" font-size="16" text-anchor="start">30</text>
<text x="841" y="150.8" font-size="16" text-anchor="start">40</text>
<text x="841" y="58.7" font-size="16" text-anchor="start">50</text>
</g>
<rect x="871" y="55" width="21" height="461" fill="#000"/>
<rect x="872" y="56" width="19" height="459" fill="url(#gg)"/>
<rect x="872" y="423" width="7" height="1" fill="#000"/>
<rect x="884" y="423" width="7" height="1" fill="#000"/>
<rect x="872" y="331" width="7" height="1" fill="#000"/>
<rect x="884" y="331" width="7" height="1" fill="#000"/>
<rect x="872" y="239" width="7" height="1" fill="#000"/>
<rect x="884" y="239" width="7" height="1" fill="#000"/>
<rect x="872" y="147" width="7" height="1" fill="#000"/>
<rect x="884" y="147" width="7" height="1" fill="#000"/>
<g font-family='"Liberation Sans", sans-serif' fill="#000" font-size="16" opacity="0.999">
<text x="905" y="519.2" font-size="16" text-anchor="start">0</text>
<text x="905" y="427.1" font-size="16" text-anchor="start">10</text>
<text x="905" y="335.0" font-size="16" text-anchor="start">20</text>
<text x="905" y="242.9" font-size="16" text-anchor="start">30</text>
<text x="905" y="150.8" font-size="16" text-anchor="start">40</text>
<text x="905" y="58.7" font-size="16" text-anchor="start">50</text>
</g>
</svg>
</body></html>
